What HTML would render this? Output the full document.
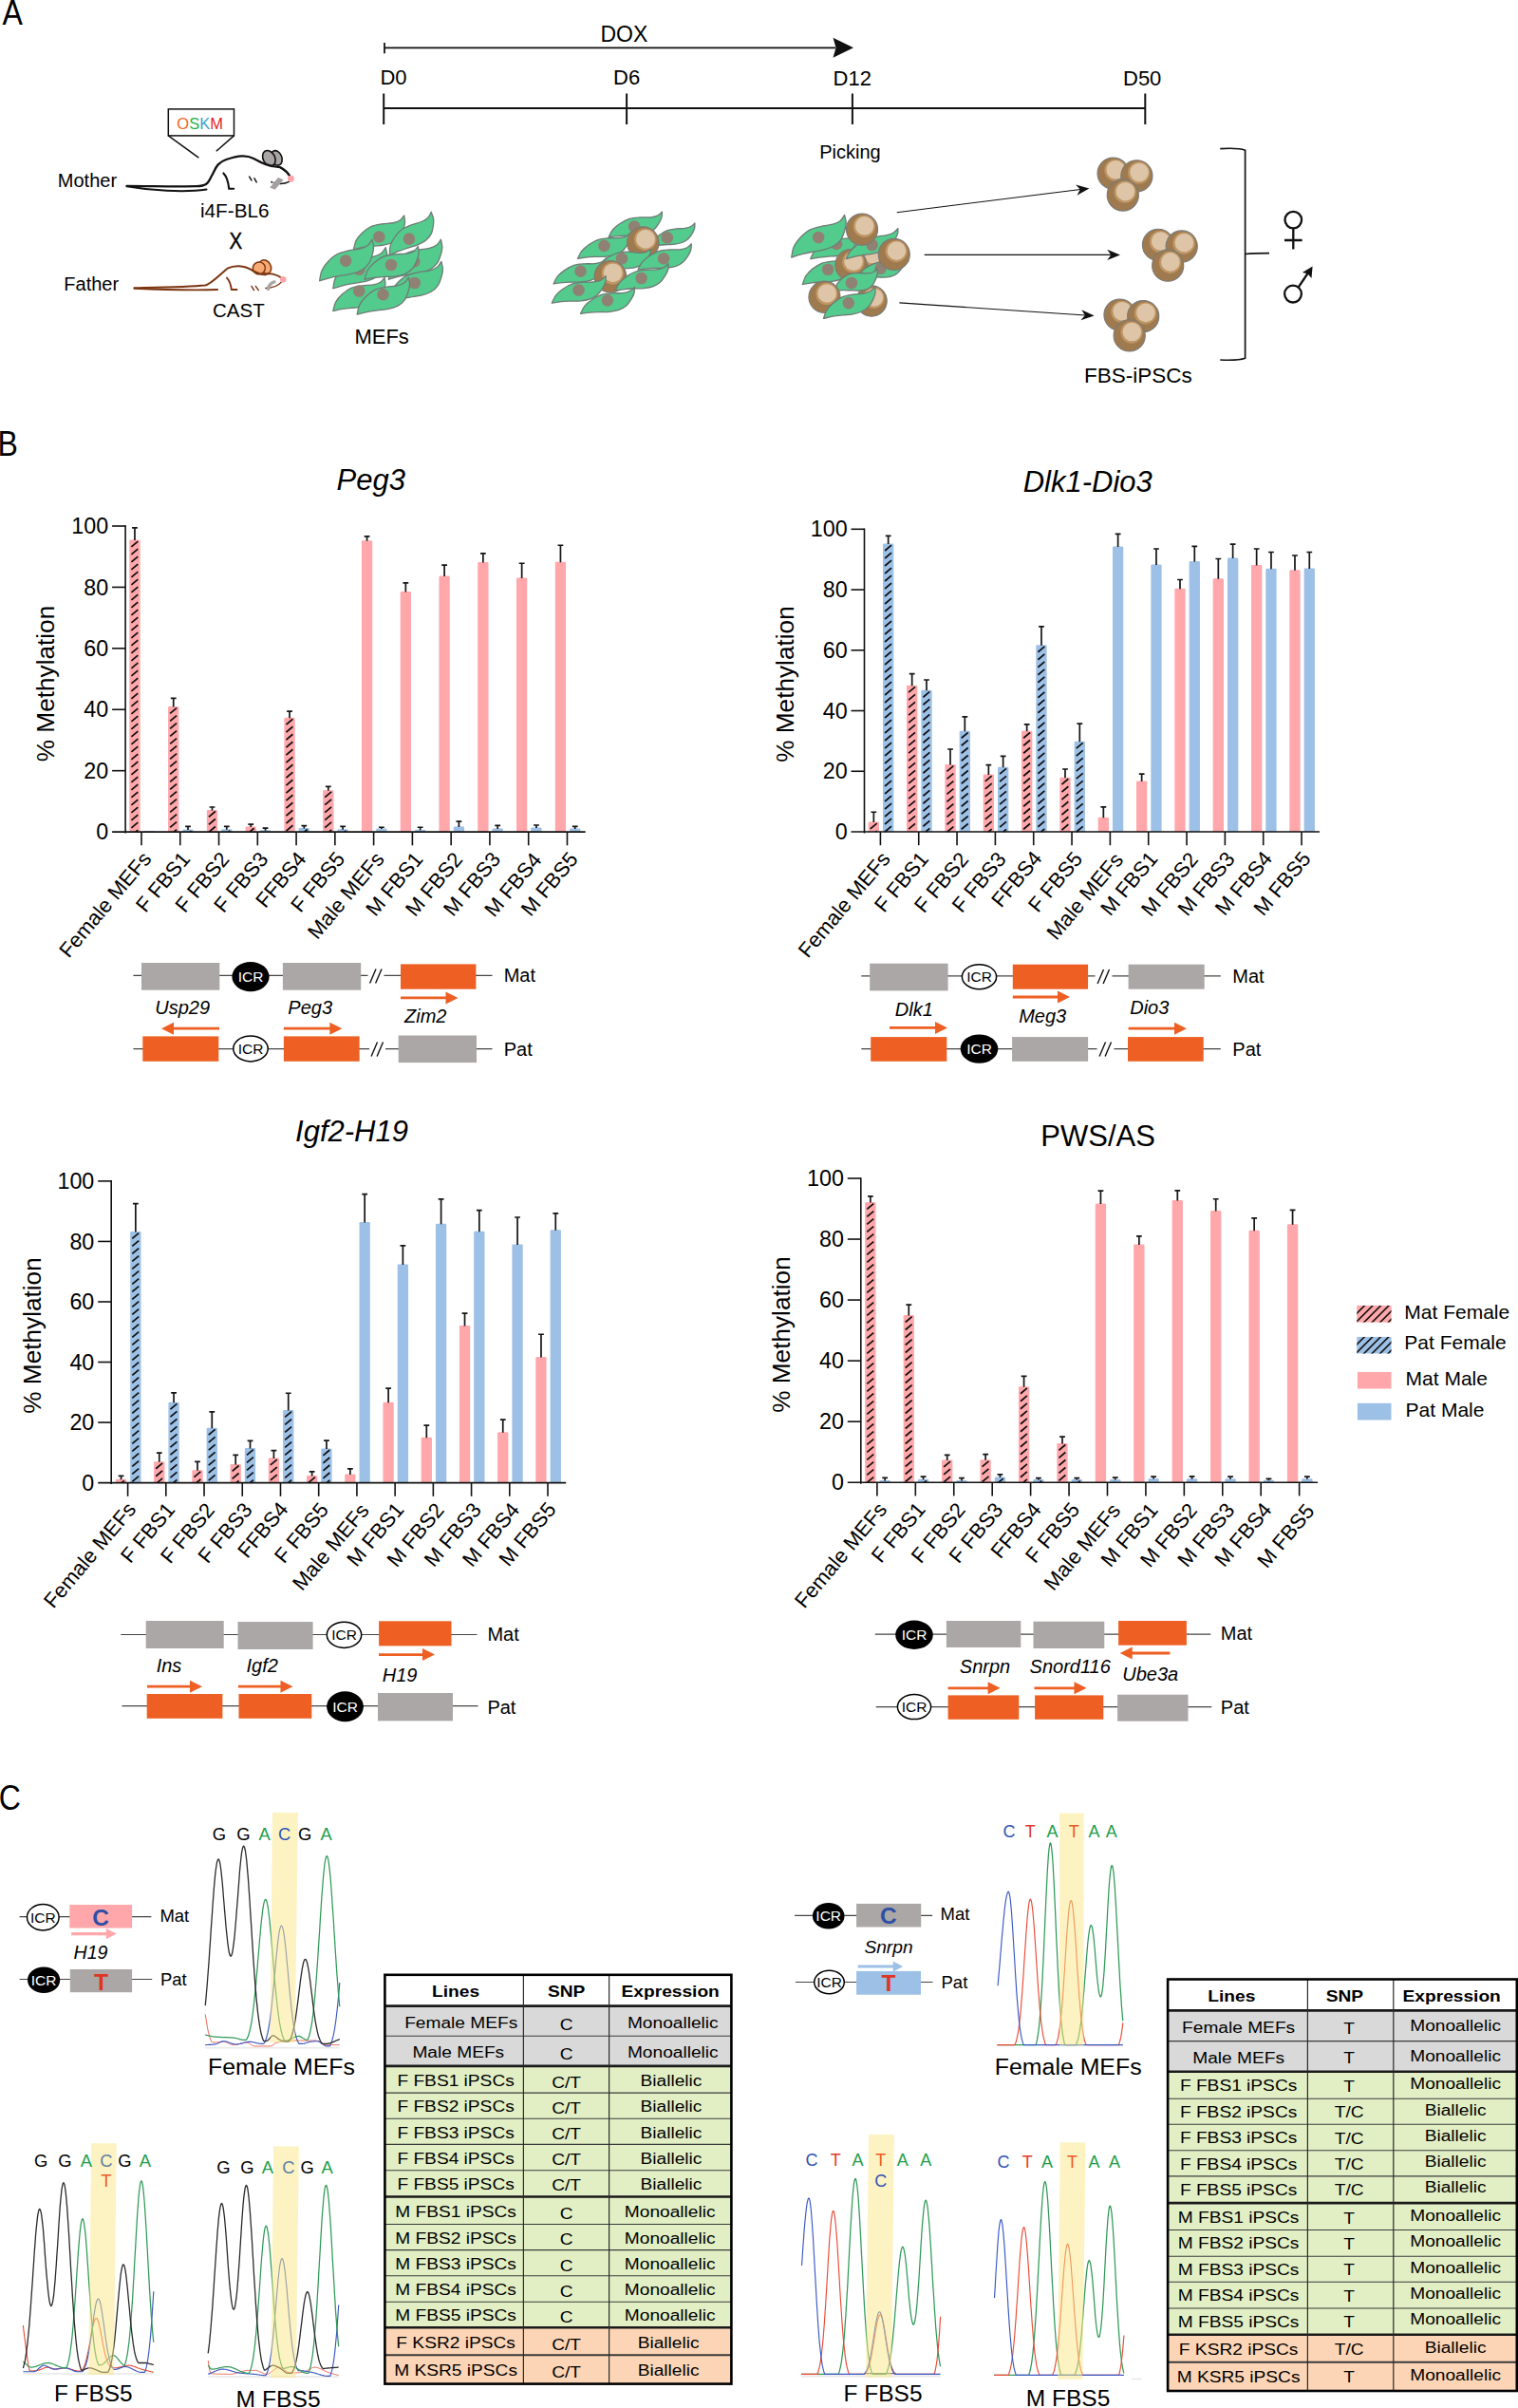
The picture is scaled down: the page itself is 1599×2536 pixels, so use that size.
<!DOCTYPE html>
<html lang="en"><head><meta charset="utf-8"><title>Figure</title>
<style>html,body{margin:0;padding:0;background:#fff}svg{display:block}text{font-family:"Liberation Sans",sans-serif}</style>
</head><body>
<svg width="1599" height="2536" viewBox="0 0 1599 2536">
<rect width="1599" height="2536" fill="#fff"/>
<text transform="translate(2.5 25.7) scale(1 1.16)" font-size="32">A</text>
<line x1="405" y1="50.3" x2="880" y2="50.3" stroke="#111" stroke-width="1.8"/>
<line x1="405" y1="45" x2="405" y2="56.2" stroke="#111" stroke-width="1.8"/>
<path d="M899 50.3 L877.5 39.8 L880.5 50.3 L877.5 60.8 Z" fill="#111"/>
<text x="632.4" y="43.7" font-size="23">DOX</text>
<line x1="404.2" y1="114.1" x2="1206.3" y2="114.1" stroke="#111" stroke-width="2"/>
<line x1="404.2" y1="98.5" x2="404.2" y2="131" stroke="#111" stroke-width="2"/>
<line x1="660.1" y1="98.5" x2="660.1" y2="131" stroke="#111" stroke-width="2"/>
<line x1="897.9" y1="98.5" x2="897.9" y2="131" stroke="#111" stroke-width="2"/>
<line x1="1206.3" y1="98.5" x2="1206.3" y2="131" stroke="#111" stroke-width="2"/>
<text x="400.4" y="89" font-size="22">D0</text>
<text x="646" y="89" font-size="22">D6</text>
<text x="877.6" y="89.5" font-size="22">D12</text>
<text x="1183" y="89.5" font-size="22">D50</text>
<text x="863.2" y="167.4" font-size="20">Picking</text>
<rect x="177.3" y="114.9" width="69.2" height="28" fill="#fff" stroke="#111" stroke-width="1.5"/>
<line x1="177.3" y1="142.9" x2="209.3" y2="166.2" stroke="#111" stroke-width="1.5"/>
<line x1="246.5" y1="142.9" x2="227.8" y2="159.2" stroke="#111" stroke-width="1.5"/>
<text x="186.3" y="135.7" font-size="16.5"><tspan fill="#F26522">O</tspan><tspan fill="#22B14C">S</tspan><tspan fill="#3BA3D0">K</tspan><tspan fill="#E0272B">M</tspan></text>
<g stroke="#111" stroke-width="1.6" fill="#A9A5A4">
<ellipse cx="291.27" cy="166.4" rx="5.6" ry="8" transform="rotate(-22 291.27 166.4)"/>
<ellipse cx="283.37" cy="166.66" rx="6.2" ry="8.6" transform="rotate(-28 283.37 166.66)"/>
</g>
<path d="M133.56 195.91 C157.94 195.91 184.29 196.7 206.69 196.17 C217.23 195.91 219.2 193.27 222.5 186.03 C227.11 178.12 227.77 171.53 238.31 167.98 C251.48 163.63 259.39 162.97 267.29 166.92 C276.52 171.93 283.1 175.49 294.96 176.15 C300.23 178.78 304.18 183.39 306.16 186.95" fill="none" stroke="#111" stroke-width="2.3" stroke-linecap="round" stroke-linejoin="round"/>
<path d="M133.56 196.3 C157.94 200.52 193.51 203.16 217.49 199.6" fill="none" stroke="#111" stroke-width="2.0" stroke-linecap="round"/>
<path d="M235.41 182.47 C239.62 186.69 240.68 193.27 241.21 198.81 L246.21 198.81" fill="none" stroke="#111" stroke-width="2.1" stroke-linecap="round" stroke-linejoin="round"/>
<line x1="262.68" y1="186.03" x2="264.92" y2="189.98" stroke="#111" stroke-width="1.5" stroke-linecap="round"/>
<line x1="267.95" y1="187.74" x2="270.19" y2="191.96" stroke="#111" stroke-width="1.5" stroke-linecap="round"/>
<path d="M304.45 191.3 C300.23 193.54 294.96 194.33 288.37 192.48" fill="none" stroke="#111" stroke-width="1.5" stroke-linecap="round"/>
<path d="M292.98 186.95 L298.65 189.32 L289.69 199.86 L284.16 197.62 Z" fill="#A3A09F"/>
<circle cx="286.26" cy="191.69" r="1" fill="#111"/>
<circle cx="306.42" cy="188.27" r="3.4" fill="#FFA3AA"/>
<g stroke="#7B3410" stroke-width="1.5" fill="#F8AA74">
<ellipse cx="279.41" cy="280.96" rx="5.8" ry="7.6" transform="rotate(-30 279.41 280.96)"/>
<ellipse cx="272.83" cy="282.4" rx="6.6" ry="6.4" transform="rotate(-30 272.83 282.4)"/>
</g>
<path d="M141.47 303.22 C164.53 302.69 198.78 302.17 215.91 300.45 C222.5 299.14 230.4 289.91 239.62 282.67 C246.21 279.37 256.75 279.37 263.34 283.33 C269.93 287.28 273.88 289.52 279.15 289.26 C283.1 287.28 291.01 287.94 298.25 294" fill="none" stroke="#7B3410" stroke-width="2.0" stroke-linecap="round" stroke-linejoin="round"/>
<path d="M141.47 303.75 C171.11 305.07 204.05 305.72 229.08 305.07" fill="none" stroke="#7B3410" stroke-width="1.9" stroke-linecap="round"/>
<path d="M238.97 292.55 C242.26 295.84 243.31 300.45 243.84 305.07 L249.51 305.07" fill="none" stroke="#7B3410" stroke-width="1.9" stroke-linecap="round" stroke-linejoin="round"/>
<line x1="264.92" y1="301.38" x2="267.56" y2="305.72" stroke="#7B3410" stroke-width="1.4" stroke-linecap="round"/>
<line x1="269.27" y1="301.38" x2="272.3" y2="305.72" stroke="#7B3410" stroke-width="1.4" stroke-linecap="round"/>
<path d="M296.54 296.9 C293.64 300.45 287.06 303.09 279.81 303.48" fill="none" stroke="#7B3410" stroke-width="1.4" stroke-linecap="round"/>
<path d="M282.44 304.41 C283.1 300.45 285.74 297.82 289.03 296.9" fill="none" stroke="#A9A6A5" stroke-width="3.4" stroke-linecap="round"/>
<circle cx="298.25" cy="294.26" r="3.3" fill="#FFA3AA"/>
<text x="60.8" y="197.2" font-size="20">Mother</text>
<text x="67.3" y="305.5" font-size="20">Father</text>
<text x="211" y="229.4" font-size="20.7">i4F-BL6</text>
<text x="224" y="334.4" font-size="20.5">CAST</text>
<text transform="translate(248.3 262.4) scale(1 1.17)" font-size="20.5" text-anchor="middle" stroke="#000" stroke-width="0.35">X</text>
<text x="373.4" y="361.7" font-size="22">MEFs</text>
<text x="1142" y="402.6" font-size="22.5">FBS-iPSCs</text>
<path d="M372.43 262.7 C372.9 261.1 373.73 256.02 375.25 253.11 C376.78 250.2 378.95 247.68 381.56 245.24 C384.17 242.8 387.48 240.05 390.93 238.48 C394.39 236.91 398.45 236.43 402.29 235.81 C406.12 235.19 410.77 235.38 413.95 234.75 C417.13 234.11 419.43 233.32 421.38 232 C423.34 230.69 424.95 227.72 425.66 226.86 C425.81 228.05 426.67 231.62 426.56 233.95 C426.46 236.28 425.98 238.26 425.03 240.86 C424.07 243.47 422.71 247.18 420.83 249.57 C418.96 251.96 416.58 253.79 413.8 255.21 C411.02 256.63 407.57 257.45 404.14 258.1 C400.71 258.75 396.83 258.72 393.22 259.11 C389.62 259.5 385.98 259.84 382.51 260.44 C379.05 261.04 374.11 262.32 372.43 262.7Z" fill="#53CB8C" stroke="#6F7B76" stroke-width="1.3" stroke-linejoin="round"/>
<circle cx="399.31" cy="249.53" r="6.3" fill="#8F8274"/>
<path d="M410.38 269.03 C410.49 267.38 410.21 262.3 411.06 259.17 C411.92 256.04 413.48 253.15 415.48 250.25 C417.48 247.34 420.09 243.99 423.09 241.74 C426.08 239.49 429.9 238.17 433.47 236.76 C437.04 235.35 441.56 234.55 444.49 233.26 C447.43 231.98 449.48 230.72 451.08 229.04 C452.69 227.36 453.61 224.15 454.12 223.18 C454.51 224.28 456.1 227.54 456.49 229.82 C456.88 232.09 456.85 234.1 456.48 236.81 C456.11 239.53 455.58 243.4 454.28 246.1 C452.98 248.8 451.07 251.07 448.69 253.03 C446.31 254.99 443.15 256.51 439.98 257.86 C436.81 259.21 433.06 260.01 429.67 261.16 C426.27 262.3 422.83 263.39 419.62 264.71 C416.4 266.02 411.92 268.31 410.38 269.03Z" fill="#53CB8C" stroke="#6F7B76" stroke-width="1.3" stroke-linejoin="round"/>
<circle cx="430.93" cy="251.63" r="6.3" fill="#8F8274"/>
<path d="M409.32 294.32 C409.72 292.57 410.28 287.03 411.73 283.79 C413.18 280.55 415.35 277.69 418.01 274.89 C420.67 272.09 424.05 268.9 427.67 266.98 C431.29 265.06 435.64 264.28 439.73 263.35 C443.83 262.43 448.85 262.33 452.24 261.44 C455.63 260.54 458.06 259.53 460.07 257.99 C462.09 256.44 463.63 253.13 464.34 252.16 C464.58 253.42 465.74 257.22 465.78 259.74 C465.82 262.26 465.44 264.43 464.59 267.3 C463.73 270.17 462.5 274.26 460.64 276.96 C458.78 279.66 456.34 281.79 453.43 283.51 C450.53 285.22 446.86 286.33 443.21 287.26 C439.55 288.19 435.36 288.42 431.5 289.08 C427.64 289.74 423.74 290.34 420.04 291.22 C416.34 292.09 411.11 293.8 409.32 294.32Z" fill="#53CB8C" stroke="#6F7B76" stroke-width="1.3" stroke-linejoin="round"/>
<circle cx="436.2" cy="275.35" r="6.3" fill="#8F8274"/>
<path d="M409.32 318.56 C409.72 316.78 410.24 311.15 411.69 307.85 C413.14 304.56 415.32 301.64 418 298.77 C420.67 295.91 424.08 292.65 427.74 290.67 C431.41 288.69 435.82 287.87 439.97 286.9 C444.12 285.93 449.21 285.79 452.65 284.86 C456.08 283.92 458.54 282.88 460.58 281.3 C462.61 279.71 464.15 276.34 464.87 275.35 C465.12 276.63 466.33 280.47 466.39 283.03 C466.45 285.6 466.08 287.79 465.23 290.72 C464.38 293.64 463.16 297.8 461.3 300.56 C459.43 303.31 456.96 305.49 454.03 307.26 C451.09 309.02 447.38 310.17 443.67 311.14 C439.97 312.11 435.72 312.37 431.8 313.07 C427.89 313.77 423.93 314.42 420.18 315.33 C416.44 316.25 411.13 318.03 409.32 318.56Z" fill="#53CB8C" stroke="#6F7B76" stroke-width="1.3" stroke-linejoin="round"/>
<circle cx="436.73" cy="298.01" r="6.3" fill="#8F8274"/>
<path d="M350.82 303.81 C351.21 302.03 351.73 296.41 353.17 293.12 C354.6 289.83 356.78 286.91 359.44 284.05 C362.11 281.18 365.5 277.93 369.15 275.94 C372.8 273.96 377.2 273.13 381.34 272.16 C385.48 271.18 390.56 271.04 393.99 270.1 C397.41 269.16 399.86 268.12 401.89 266.53 C403.92 264.95 405.45 261.58 406.16 260.59 C406.41 261.87 407.63 265.7 407.69 268.26 C407.76 270.81 407.39 273.01 406.55 275.92 C405.71 278.84 404.5 282.99 402.64 285.75 C400.78 288.5 398.33 290.68 395.4 292.45 C392.47 294.21 388.77 295.36 385.08 296.34 C381.38 297.31 377.14 297.58 373.24 298.29 C369.33 298.99 365.39 299.64 361.65 300.56 C357.92 301.48 352.63 303.27 350.82 303.81Z" fill="#53CB8C" stroke="#6F7B76" stroke-width="1.3" stroke-linejoin="round"/>
<circle cx="378.23" cy="283.78" r="6.3" fill="#8F8274"/>
<path d="M336.59 295.9 C336.98 294.11 337.46 288.47 338.88 285.15 C340.31 281.83 342.48 278.89 345.14 276 C347.8 273.11 351.19 269.81 354.84 267.8 C358.5 265.79 362.91 264.93 367.06 263.93 C371.22 262.92 376.32 262.75 379.76 261.78 C383.19 260.82 385.65 259.76 387.68 258.15 C389.71 256.55 391.22 253.16 391.93 252.16 C392.19 253.44 393.43 257.28 393.51 259.85 C393.59 262.42 393.24 264.62 392.41 267.56 C391.59 270.49 390.4 274.68 388.55 277.45 C386.7 280.23 384.24 282.43 381.31 284.22 C378.38 286.02 374.67 287.2 370.96 288.2 C367.26 289.2 363 289.5 359.08 290.23 C355.16 290.96 351.2 291.63 347.45 292.58 C343.71 293.52 338.4 295.35 336.59 295.9Z" fill="#53CB8C" stroke="#6F7B76" stroke-width="1.3" stroke-linejoin="round"/>
<circle cx="364.21" cy="274.61" r="6.3" fill="#8F8274"/>
<path d="M384.03 294.32 C384.58 292.69 385.64 287.48 387.33 284.54 C389.02 281.6 391.37 279.09 394.16 276.68 C396.96 274.28 400.48 271.57 404.11 270.09 C407.74 268.61 411.95 268.29 415.93 267.81 C419.92 267.32 424.7 267.71 428.01 267.19 C431.32 266.67 433.73 265.94 435.79 264.67 C437.86 263.39 439.64 260.39 440.42 259.54 C440.52 260.76 441.26 264.48 441.05 266.89 C440.85 269.29 440.28 271.31 439.19 273.96 C438.1 276.6 436.53 280.38 434.5 282.77 C432.47 285.16 429.94 286.95 427.02 288.3 C424.09 289.65 420.49 290.35 416.93 290.87 C413.36 291.4 409.36 291.22 405.62 291.47 C401.89 291.73 398.12 291.93 394.52 292.4 C390.92 292.88 385.77 294 384.03 294.32Z" fill="#53CB8C" stroke="#6F7B76" stroke-width="1.3" stroke-linejoin="round"/>
<circle cx="411.96" cy="279.04" r="6.3" fill="#8F8274"/>
<path d="M350.82 327.52 C351.32 325.92 352.24 320.8 353.83 317.89 C355.41 314.98 357.64 312.47 360.32 310.05 C362.99 307.63 366.37 304.91 369.88 303.38 C373.39 301.85 377.5 301.43 381.38 300.87 C385.26 300.3 389.94 300.57 393.16 299.98 C396.39 299.39 398.72 298.63 400.71 297.33 C402.7 296.04 404.37 293.07 405.11 292.21 C405.24 293.41 406.05 297.02 405.9 299.38 C405.76 301.73 405.25 303.72 404.25 306.33 C403.24 308.94 401.8 312.67 399.87 315.05 C397.95 317.43 395.52 319.24 392.69 320.63 C389.86 322.02 386.36 322.78 382.89 323.38 C379.42 323.98 375.5 323.9 371.86 324.23 C368.22 324.57 364.54 324.85 361.03 325.4 C357.53 325.95 352.52 327.17 350.82 327.52Z" fill="#53CB8C" stroke="#6F7B76" stroke-width="1.3" stroke-linejoin="round"/>
<circle cx="378.23" cy="306.44" r="6.3" fill="#8F8274"/>
<path d="M376.12 331.21 C376.56 329.53 377.26 324.21 378.76 321.13 C380.25 318.06 382.43 315.36 385.07 312.74 C387.72 310.12 391.07 307.15 394.62 305.41 C398.16 303.66 402.38 303.04 406.35 302.27 C410.33 301.5 415.17 301.55 418.46 300.79 C421.75 300.03 424.12 299.13 426.11 297.7 C428.1 296.27 429.69 293.13 430.4 292.21 C430.6 293.44 431.6 297.13 431.57 299.56 C431.53 301.99 431.1 304.07 430.19 306.81 C429.28 309.55 427.97 313.46 426.1 316.01 C424.23 318.56 421.81 320.54 418.96 322.1 C416.1 323.67 412.54 324.63 408.99 325.41 C405.44 326.2 401.39 326.3 397.65 326.82 C393.91 327.34 390.13 327.81 386.54 328.54 C382.95 329.27 377.86 330.77 376.12 331.21Z" fill="#53CB8C" stroke="#6F7B76" stroke-width="1.3" stroke-linejoin="round"/>
<circle cx="403.52" cy="310.13" r="6.3" fill="#8F8274"/>
<path d="M641.15 249.72 C641.9 248.39 643.66 244.11 645.64 241.74 C647.62 239.36 650.12 237.37 653.02 235.48 C655.92 233.59 659.52 231.48 663.03 230.4 C666.54 229.31 670.39 229.21 674.07 228.96 C677.75 228.71 682.01 229.22 685.08 228.91 C688.16 228.61 690.44 228.1 692.51 227.12 C694.58 226.14 696.65 223.72 697.48 223.04 C697.38 224.06 697.48 227.18 696.93 229.17 C696.37 231.15 695.55 232.81 694.16 234.96 C692.76 237.12 690.77 240.19 688.57 242.09 C686.37 244 683.8 245.38 680.95 246.39 C678.09 247.4 674.74 247.84 671.43 248.14 C668.13 248.44 664.53 248.13 661.12 248.2 C657.7 248.26 654.26 248.28 650.93 248.54 C647.6 248.79 642.78 249.53 641.15 249.72Z" fill="#53CB8C" stroke="#6F7B76" stroke-width="1.3" stroke-linejoin="round"/>
<circle cx="668.07" cy="238.46" r="6.3" fill="#8F8274"/>
<path d="M608.54 272.26 C609.27 270.9 610.98 266.55 612.93 264.12 C614.88 261.7 617.37 259.65 620.26 257.69 C623.15 255.74 626.75 253.55 630.26 252.39 C633.78 251.24 637.67 251.07 641.37 250.75 C645.07 250.44 649.38 250.88 652.47 250.52 C655.57 250.16 657.86 249.61 659.93 248.58 C661.99 247.56 664.04 245.09 664.87 244.39 C664.79 245.42 664.94 248.56 664.42 250.57 C663.89 252.58 663.09 254.26 661.72 256.46 C660.36 258.66 658.4 261.79 656.21 263.74 C654.03 265.7 651.47 267.14 648.6 268.21 C645.74 269.27 642.37 269.78 639.04 270.14 C635.71 270.5 632.08 270.25 628.64 270.37 C625.2 270.5 621.73 270.58 618.38 270.89 C615.03 271.21 610.18 272.03 608.54 272.26Z" fill="#53CB8C" stroke="#6F7B76" stroke-width="1.3" stroke-linejoin="round"/>
<circle cx="636.41" cy="258.86" r="6.3" fill="#8F8274"/>
<path d="M685.62 259.8 C686.19 258.65 687.49 254.97 689.05 252.89 C690.61 250.8 692.63 249.02 694.99 247.3 C697.35 245.58 700.29 243.65 703.19 242.59 C706.1 241.52 709.34 241.26 712.42 240.9 C715.51 240.53 719.12 240.77 721.69 240.38 C724.26 239.99 726.17 239.46 727.86 238.55 C729.56 237.64 731.2 235.51 731.86 234.9 C731.83 235.76 732.05 238.38 731.67 240.08 C731.29 241.77 730.67 243.2 729.59 245.08 C728.51 246.95 726.96 249.62 725.19 251.32 C723.42 253.02 721.33 254.3 718.97 255.27 C716.61 256.24 713.8 256.76 711.04 257.15 C708.27 257.55 705.23 257.45 702.36 257.65 C699.48 257.86 696.59 258.02 693.8 258.38 C691.01 258.74 686.98 259.57 685.62 259.8Z" fill="#53CB8C" stroke="#6F7B76" stroke-width="1.3" stroke-linejoin="round"/>
<circle cx="702.81" cy="250.32" r="6.3" fill="#8F8274"/>
<path d="M583.04 298.94 C583.77 297.6 585.47 293.31 587.41 290.93 C589.35 288.54 591.82 286.52 594.68 284.61 C597.54 282.69 601.1 280.54 604.58 279.42 C608.06 278.29 611.9 278.14 615.55 277.85 C619.21 277.55 623.46 278.01 626.52 277.66 C629.57 277.32 631.84 276.78 633.89 275.78 C635.93 274.78 637.96 272.35 638.78 271.66 C638.7 272.68 638.83 275.78 638.31 277.76 C637.78 279.75 636.98 281.41 635.62 283.57 C634.26 285.73 632.32 288.81 630.15 290.74 C627.98 292.66 625.45 294.07 622.62 295.11 C619.79 296.15 616.46 296.63 613.17 296.97 C609.88 297.32 606.3 297.05 602.9 297.16 C599.5 297.27 596.08 297.34 592.77 297.63 C589.46 297.93 584.66 298.72 583.04 298.94Z" fill="#53CB8C" stroke="#6F7B76" stroke-width="1.3" stroke-linejoin="round"/>
<circle cx="611.5" cy="285.66" r="6.3" fill="#8F8274"/>
<circle cx="677.32" cy="255.65" r="16.8" fill="#9E7A4E" stroke="#7A7A78" stroke-width="1.1"/>
<circle cx="679.67" cy="252.29" r="11.76" fill="#BE9563"/>
<circle cx="680" cy="251.79" r="9.91" fill="#DEC5A7"/>
<path d="M631.66 281.15 C632.47 280.01 634.49 276.26 636.52 274.29 C638.56 272.31 641.03 270.73 643.86 269.28 C646.68 267.83 650.17 266.25 653.48 265.6 C656.78 264.94 660.31 265.21 663.69 265.34 C667.07 265.46 670.91 266.34 673.75 266.35 C676.58 266.36 678.72 266.12 680.7 265.42 C682.67 264.73 684.8 262.72 685.62 262.18 C685.44 263.1 685.23 265.95 684.53 267.71 C683.84 269.47 682.93 270.9 681.45 272.74 C679.97 274.57 677.86 277.18 675.67 278.71 C673.48 280.24 671.01 281.26 668.3 281.91 C665.6 282.55 662.5 282.63 659.45 282.59 C656.41 282.55 653.16 281.93 650.03 281.66 C646.91 281.4 643.77 281.09 640.7 281 C637.64 280.92 633.17 281.12 631.66 281.15Z" fill="#53CB8C" stroke="#6F7B76" stroke-width="1.3" stroke-linejoin="round"/>
<circle cx="655.02" cy="272.26" r="6.3" fill="#8F8274"/>
<path d="M671.98 284.11 C672.72 282.77 674.45 278.45 676.42 276.05 C678.39 273.65 680.89 271.63 683.78 269.71 C686.67 267.79 690.27 265.64 693.78 264.52 C697.29 263.4 701.17 263.26 704.86 262.98 C708.55 262.7 712.83 263.17 715.91 262.84 C719 262.51 721.29 261.98 723.36 260.98 C725.42 259.98 727.48 257.53 728.31 256.84 C728.22 257.87 728.35 260.99 727.81 262.99 C727.27 264.99 726.46 266.66 725.08 268.83 C723.69 271.01 721.72 274.11 719.53 276.04 C717.33 277.97 714.77 279.39 711.91 280.42 C709.05 281.46 705.69 281.93 702.37 282.26 C699.06 282.59 695.44 282.31 692.01 282.41 C688.58 282.51 685.13 282.55 681.79 282.84 C678.45 283.12 673.62 283.9 671.98 284.11Z" fill="#53CB8C" stroke="#6F7B76" stroke-width="1.3" stroke-linejoin="round"/>
<circle cx="699.02" cy="272.26" r="6.3" fill="#8F8274"/>
<circle cx="642.93" cy="291.23" r="16.8" fill="#9E7A4E" stroke="#7A7A78" stroke-width="1.1"/>
<circle cx="645.28" cy="287.87" r="11.76" fill="#BE9563"/>
<circle cx="645.62" cy="287.36" r="9.91" fill="#DEC5A7"/>
<path d="M648.26 306.05 C648.98 304.69 650.62 300.34 652.53 297.9 C654.45 295.46 656.9 293.38 659.75 291.4 C662.61 289.42 666.16 287.19 669.64 286 C673.13 284.8 677 284.58 680.68 284.23 C684.37 283.87 688.66 284.25 691.74 283.85 C694.81 283.45 697.09 282.87 699.14 281.83 C701.18 280.79 703.19 278.3 704 277.59 C703.94 278.62 704.13 281.74 703.63 283.75 C703.13 285.76 702.36 287.45 701.02 289.65 C699.69 291.86 697.78 295 695.63 296.97 C693.47 298.95 690.94 300.42 688.11 301.52 C685.27 302.61 681.92 303.15 678.61 303.56 C675.3 303.96 671.68 303.75 668.26 303.92 C664.83 304.09 661.38 304.21 658.05 304.57 C654.71 304.92 649.89 305.8 648.26 306.05Z" fill="#53CB8C" stroke="#6F7B76" stroke-width="1.3" stroke-linejoin="round"/>
<circle cx="675.54" cy="293.01" r="6.3" fill="#8F8274"/>
<path d="M581.27 319.1 C582 317.72 583.71 313.31 585.68 310.84 C587.64 308.38 590.16 306.29 593.08 304.3 C595.99 302.3 599.62 300.07 603.18 298.89 C606.74 297.7 610.67 297.51 614.42 297.18 C618.17 296.85 622.53 297.28 625.66 296.9 C628.79 296.52 631.12 295.95 633.2 294.9 C635.29 293.86 637.35 291.35 638.18 290.64 C638.11 291.68 638.28 294.86 637.76 296.9 C637.24 298.94 636.43 300.64 635.05 302.87 C633.68 305.1 631.71 308.28 629.5 310.27 C627.3 312.26 624.71 313.74 621.82 314.83 C618.93 315.92 615.51 316.44 612.14 316.82 C608.78 317.2 605.1 316.96 601.61 317.1 C598.13 317.25 594.62 317.34 591.23 317.67 C587.83 318 582.93 318.86 581.27 319.1Z" fill="#53CB8C" stroke="#6F7B76" stroke-width="1.3" stroke-linejoin="round"/>
<circle cx="609.49" cy="305.46" r="6.3" fill="#8F8274"/>
<path d="M611.5 330.36 C612.25 329 613.98 324.62 615.97 322.18 C617.95 319.74 620.47 317.68 623.39 315.72 C626.31 313.76 629.94 311.57 633.49 310.42 C637.05 309.27 640.97 309.11 644.7 308.81 C648.44 308.51 652.78 308.98 655.9 308.62 C659.02 308.27 661.34 307.73 663.43 306.7 C665.51 305.68 667.59 303.2 668.42 302.49 C668.34 303.53 668.48 306.7 667.95 308.73 C667.41 310.75 666.59 312.45 665.2 314.65 C663.81 316.86 661.83 320.01 659.62 321.98 C657.4 323.94 654.82 325.38 651.93 326.45 C649.03 327.51 645.63 328 642.27 328.35 C638.92 328.7 635.26 328.43 631.78 328.55 C628.31 328.66 624.81 328.72 621.43 329.03 C618.05 329.33 613.16 330.14 611.5 330.36Z" fill="#53CB8C" stroke="#6F7B76" stroke-width="1.3" stroke-linejoin="round"/>
<circle cx="639.96" cy="316.37" r="6.3" fill="#8F8274"/>
<path d="M853.73 272.71 C854.34 271.44 855.73 267.37 857.43 265.06 C859.12 262.75 861.32 260.76 863.9 258.85 C866.47 256.93 869.68 254.78 872.86 253.57 C876.05 252.36 879.61 252.04 883 251.6 C886.39 251.16 890.36 251.39 893.19 250.93 C896.02 250.47 898.11 249.86 899.96 248.84 C901.82 247.82 903.59 245.46 904.32 244.78 C904.3 245.73 904.56 248.61 904.17 250.48 C903.77 252.35 903.1 253.93 901.93 256 C900.77 258.08 899.1 261.03 897.17 262.92 C895.25 264.81 892.95 266.24 890.37 267.34 C887.78 268.44 884.7 269.04 881.66 269.5 C878.62 269.97 875.28 269.89 872.12 270.15 C868.96 270.41 865.78 270.63 862.71 271.05 C859.65 271.48 855.23 272.44 853.73 272.71Z" fill="#53CB8C" stroke="#6F7B76" stroke-width="1.3" stroke-linejoin="round"/>
<circle cx="881.13" cy="256.9" r="6.3" fill="#8F8274"/>
<path d="M833.7 271.13 C834.09 269.33 834.59 263.65 836.03 260.3 C837.47 256.94 839.66 253.95 842.35 251.01 C845.03 248.06 848.46 244.7 852.14 242.62 C855.83 240.55 860.29 239.61 864.47 238.54 C868.66 237.47 873.81 237.21 877.28 236.19 C880.74 235.17 883.22 234.07 885.27 232.42 C887.32 230.78 888.85 227.35 889.57 226.34 C889.83 227.62 891.07 231.46 891.15 234.04 C891.23 236.61 890.87 238.84 890.03 241.8 C889.19 244.76 887.99 248.98 886.12 251.8 C884.25 254.62 881.77 256.87 878.81 258.71 C875.85 260.55 872.11 261.8 868.37 262.86 C864.63 263.92 860.34 264.29 856.39 265.08 C852.43 265.88 848.44 266.62 844.66 267.63 C840.88 268.63 835.53 270.55 833.7 271.13Z" fill="#53CB8C" stroke="#6F7B76" stroke-width="1.3" stroke-linejoin="round"/>
<circle cx="862.16" cy="250.05" r="6.3" fill="#8F8274"/>
<circle cx="916.97" cy="272.19" r="15" fill="#9E7A4E" stroke="#7A7A78" stroke-width="1.1"/>
<circle cx="919.07" cy="269.19" r="10.5" fill="#BE9563"/>
<circle cx="919.37" cy="268.74" r="8.85" fill="#DEC5A7"/>
<path d="M845.3 299.59 C845.89 298.09 847.14 293.31 848.87 290.61 C850.6 287.91 852.93 285.6 855.67 283.38 C858.42 281.16 861.87 278.66 865.36 277.29 C868.86 275.91 872.85 275.6 876.63 275.14 C880.41 274.68 884.9 275.01 888.05 274.52 C891.19 274.02 893.5 273.34 895.51 272.17 C897.52 270.99 899.34 268.23 900.11 267.44 C900.15 268.57 900.67 271.97 900.37 274.18 C900.07 276.38 899.44 278.24 898.28 280.67 C897.13 283.1 895.48 286.56 893.46 288.76 C891.43 290.96 888.96 292.62 886.14 293.87 C883.31 295.12 879.89 295.78 876.5 296.28 C873.11 296.78 869.34 296.63 865.81 296.88 C862.27 297.13 858.7 297.33 855.29 297.78 C851.87 298.24 846.96 299.29 845.3 299.59Z" fill="#53CB8C" stroke="#6F7B76" stroke-width="1.3" stroke-linejoin="round"/>
<circle cx="872.17" cy="283.78" r="6.3" fill="#8F8274"/>
<circle cx="896.42" cy="279.04" r="16.6" fill="#9E7A4E" stroke="#7A7A78" stroke-width="1.1"/>
<circle cx="898.74" cy="275.72" r="11.62" fill="#BE9563"/>
<circle cx="899.07" cy="275.22" r="9.79" fill="#DEC5A7"/>
<path d="M904.32 291.16 C905.05 290.11 906.85 286.67 908.68 284.84 C910.51 283.02 912.75 281.55 915.31 280.19 C917.88 278.84 921.04 277.36 924.05 276.72 C927.06 276.09 930.28 276.3 933.36 276.37 C936.45 276.45 939.96 277.2 942.55 277.18 C945.14 277.16 947.08 276.92 948.88 276.26 C950.68 275.6 952.59 273.74 953.33 273.24 C953.18 274.08 953.02 276.69 952.41 278.3 C951.79 279.92 950.98 281.23 949.65 282.92 C948.32 284.61 946.42 287.02 944.44 288.44 C942.46 289.86 940.22 290.82 937.76 291.44 C935.3 292.06 932.47 292.17 929.69 292.16 C926.91 292.16 923.94 291.63 921.09 291.42 C918.23 291.21 915.36 290.97 912.57 290.92 C909.78 290.88 905.7 291.12 904.32 291.16Z" fill="#53CB8C" stroke="#6F7B76" stroke-width="1.3" stroke-linejoin="round"/>
<circle cx="927.51" cy="282.73" r="6.3" fill="#8F8274"/>
<path d="M891.15 272.71 C891.86 271.41 893.5 267.31 895.4 264.9 C897.3 262.48 899.72 260.33 902.53 258.21 C905.34 256.09 908.83 253.68 912.26 252.19 C915.68 250.7 919.47 250.05 923.08 249.29 C926.68 248.53 930.88 248.36 933.9 247.64 C936.91 246.92 939.15 246.12 941.16 244.95 C943.17 243.77 945.16 241.3 945.96 240.57 C945.89 241.49 946.04 244.27 945.54 246.13 C945.03 248 944.26 249.6 942.93 251.73 C941.6 253.87 939.7 256.91 937.58 258.94 C935.46 260.97 932.97 262.59 930.18 263.91 C927.39 265.23 924.11 266.11 920.87 266.87 C917.62 267.62 914.09 267.87 910.73 268.43 C907.38 268.99 904 269.51 900.73 270.22 C897.47 270.94 892.74 272.3 891.15 272.71Z" fill="#53CB8C" stroke="#6F7B76" stroke-width="1.3" stroke-linejoin="round"/>
<circle cx="918.55" cy="257.96" r="6.3" fill="#8F8274"/>
<circle cx="908.01" cy="241.62" r="16.6" fill="#9E7A4E" stroke="#7A7A78" stroke-width="1.1"/>
<circle cx="910.33" cy="238.3" r="11.62" fill="#BE9563"/>
<circle cx="910.67" cy="237.8" r="9.79" fill="#DEC5A7"/>
<circle cx="941.74" cy="267.97" r="16.6" fill="#9E7A4E" stroke="#7A7A78" stroke-width="1.1"/>
<circle cx="944.06" cy="264.65" r="11.62" fill="#BE9563"/>
<circle cx="944.4" cy="264.15" r="9.79" fill="#DEC5A7"/>
<circle cx="918.02" cy="316.98" r="16.2" fill="#9E7A4E" stroke="#7A7A78" stroke-width="1.1"/>
<circle cx="920.29" cy="313.74" r="11.34" fill="#BE9563"/>
<circle cx="920.62" cy="313.26" r="9.56" fill="#DEC5A7"/>
<path d="M879.03 306.44 C879.5 305.18 880.48 301.07 881.88 298.84 C883.28 296.6 885.17 294.76 887.41 293.04 C889.66 291.32 892.47 289.41 895.33 288.49 C898.19 287.57 901.47 287.63 904.58 287.54 C907.68 287.45 911.38 288.12 913.97 287.94 C916.55 287.77 918.44 287.37 920.08 286.5 C921.72 285.63 923.2 283.36 923.82 282.73 C923.87 283.72 924.33 286.76 924.1 288.67 C923.87 290.59 923.37 292.17 922.44 294.21 C921.52 296.25 920.19 299.17 918.55 300.93 C916.9 302.7 914.89 303.95 912.57 304.81 C910.26 305.68 907.45 305.97 904.67 306.13 C901.88 306.29 898.78 305.84 895.87 305.77 C892.97 305.69 890.03 305.57 887.23 305.69 C884.42 305.8 880.39 306.32 879.03 306.44Z" fill="#53CB8C" stroke="#6F7B76" stroke-width="1.3" stroke-linejoin="round"/>
<circle cx="896.94" cy="298.01" r="6.3" fill="#8F8274"/>
<circle cx="868.48" cy="312.77" r="16.6" fill="#9E7A4E" stroke="#7A7A78" stroke-width="1.1"/>
<circle cx="870.81" cy="309.45" r="11.62" fill="#BE9563"/>
<circle cx="871.14" cy="308.95" r="9.79" fill="#DEC5A7"/>
<path d="M867.43 335.43 C868.01 333.95 869.23 329.24 870.93 326.54 C872.64 323.83 874.94 321.48 877.66 319.2 C880.38 316.91 883.79 314.33 887.25 312.84 C890.72 311.35 894.68 310.86 898.43 310.24 C902.18 309.62 906.65 309.74 909.77 309.12 C912.89 308.5 915.18 307.73 917.17 306.5 C919.16 305.26 920.96 302.5 921.71 301.7 C921.76 302.79 922.3 306.08 922.01 308.23 C921.72 310.39 921.1 312.22 919.97 314.63 C918.84 317.05 917.21 320.49 915.21 322.72 C913.21 324.95 910.77 326.67 907.97 328.02 C905.17 329.36 901.77 330.15 898.41 330.79 C895.05 331.44 891.3 331.46 887.79 331.86 C884.28 332.27 880.74 332.62 877.34 333.22 C873.95 333.81 869.08 335.06 867.43 335.43Z" fill="#53CB8C" stroke="#6F7B76" stroke-width="1.3" stroke-linejoin="round"/>
<circle cx="893.78" cy="319.09" r="6.3" fill="#8F8274"/>
<circle cx="1172.6" cy="182.6" r="16.6" fill="#9E7A4E" stroke="#7A7A78" stroke-width="1.1"/>
<circle cx="1174.92" cy="179.28" r="11.62" fill="#BE9563"/>
<circle cx="1175.26" cy="178.78" r="9.79" fill="#DEC5A7"/>
<circle cx="1197.4" cy="185.3" r="16.6" fill="#9E7A4E" stroke="#7A7A78" stroke-width="1.1"/>
<circle cx="1199.72" cy="181.98" r="11.62" fill="#BE9563"/>
<circle cx="1200.06" cy="181.48" r="9.79" fill="#DEC5A7"/>
<circle cx="1182.8" cy="205.5" r="16.6" fill="#9E7A4E" stroke="#7A7A78" stroke-width="1.1"/>
<circle cx="1185.12" cy="202.18" r="11.62" fill="#BE9563"/>
<circle cx="1185.46" cy="201.68" r="9.79" fill="#DEC5A7"/>
<circle cx="1220" cy="257.9" r="16.6" fill="#9E7A4E" stroke="#7A7A78" stroke-width="1.1"/>
<circle cx="1222.32" cy="254.58" r="11.62" fill="#BE9563"/>
<circle cx="1222.66" cy="254.08" r="9.79" fill="#DEC5A7"/>
<circle cx="1244.7" cy="259.5" r="16.6" fill="#9E7A4E" stroke="#7A7A78" stroke-width="1.1"/>
<circle cx="1247.02" cy="256.18" r="11.62" fill="#BE9563"/>
<circle cx="1247.36" cy="255.68" r="9.79" fill="#DEC5A7"/>
<circle cx="1230.2" cy="279.7" r="16.6" fill="#9E7A4E" stroke="#7A7A78" stroke-width="1.1"/>
<circle cx="1232.52" cy="276.38" r="11.62" fill="#BE9563"/>
<circle cx="1232.86" cy="275.88" r="9.79" fill="#DEC5A7"/>
<circle cx="1179.5" cy="331.6" r="16.6" fill="#9E7A4E" stroke="#7A7A78" stroke-width="1.1"/>
<circle cx="1181.82" cy="328.28" r="11.62" fill="#BE9563"/>
<circle cx="1182.16" cy="327.78" r="9.79" fill="#DEC5A7"/>
<circle cx="1204.2" cy="333.2" r="16.6" fill="#9E7A4E" stroke="#7A7A78" stroke-width="1.1"/>
<circle cx="1206.52" cy="329.88" r="11.62" fill="#BE9563"/>
<circle cx="1206.86" cy="329.38" r="9.79" fill="#DEC5A7"/>
<circle cx="1189.7" cy="353.4" r="16.6" fill="#9E7A4E" stroke="#7A7A78" stroke-width="1.1"/>
<circle cx="1192.02" cy="350.08" r="11.62" fill="#BE9563"/>
<circle cx="1192.36" cy="349.58" r="9.79" fill="#DEC5A7"/>
<line x1="944.7" y1="223.7" x2="1138.02" y2="199.57" stroke="#111" stroke-width="1.1"/>
<path d="M1147.4 198.4 L1134.43 205.63 L1137.75 199.6 L1133.05 194.59 Z" fill="#111"/>
<line x1="973.7" y1="268.4" x2="1170.55" y2="268.4" stroke="#111" stroke-width="1.1"/>
<path d="M1180 268.4 L1166.23 273.96 L1170.28 268.4 L1166.23 262.84 Z" fill="#111"/>
<line x1="947.4" y1="318.9" x2="1143.17" y2="331.97" stroke="#111" stroke-width="1.1"/>
<path d="M1152.6 332.6 L1138.49 337.23 L1142.9 331.95 L1139.23 326.13 Z" fill="#111"/>
<path d="M1285.3 156.6 C1298 155.8 1306 156.2 1311.6 158.2 V377.2 C1306 379.3 1298 379.6 1285.3 379" fill="none" stroke="#111" stroke-width="1.7"/>
<path d="M1311.6 267.5 C1320 266.6 1328 266.6 1337 266.6" fill="none" stroke="#111" stroke-width="1.7"/>
<g fill="none" stroke="#111" stroke-width="2.3">
<circle cx="1362.3" cy="231.6" r="8.8"/><path d="M1362.3 240.4 V262.6 M1353 253 H1371.6"/>
<circle cx="1362" cy="309.6" r="8.9"/><path d="M1367.6 302.6 L1378.5 286.5"/>
</g>
<path d="M1382.6 280.5 L1381.5 293 L1377.5 288.2 L1371.8 287 Z" fill="#111"/>
<text transform="translate(-2.6 479.5) scale(1 1.16)" font-size="32">B</text>
<path d="M136.3 876.1 V569.69 Q136.3 568.49 137.5 568.49 H146.4 Q147.6 568.49 147.6 569.69 V876.1 Z" fill="#FFA7AB"/>
<path d="M138.4 575.89L145.3 570.1M138.4 583.89L145.3 578.1M138.4 591.89L145.3 586.1M138.4 599.89L145.3 594.1M138.4 607.89L145.3 602.1M138.4 615.89L145.3 610.1M138.4 623.89L145.3 618.1M138.4 631.89L145.3 626.1M138.4 639.89L145.3 634.1M138.4 647.89L145.3 642.1M138.4 655.89L145.3 650.1M138.4 663.89L145.3 658.1M138.4 671.89L145.3 666.1M138.4 679.89L145.3 674.1M138.4 687.89L145.3 682.1M138.4 695.89L145.3 690.1M138.4 703.89L145.3 698.1M138.4 711.89L145.3 706.1M138.4 719.89L145.3 714.1M138.4 727.89L145.3 722.1M138.4 735.89L145.3 730.1M138.4 743.89L145.3 738.1M138.4 751.89L145.3 746.1M138.4 759.89L145.3 754.1M138.4 767.89L145.3 762.1M138.4 775.89L145.3 770.1M138.4 783.89L145.3 778.1M138.4 791.89L145.3 786.1M138.4 799.89L145.3 794.1M138.4 807.89L145.3 802.1M138.4 815.89L145.3 810.1M138.4 823.89L145.3 818.1M138.4 831.89L145.3 826.1M138.4 839.89L145.3 834.1M138.4 847.89L145.3 842.1M138.4 855.89L145.3 850.1M138.4 863.89L145.3 858.1M138.4 871.89L145.3 866.1M142.92 876.1L145.3 874.1" stroke="#0d0d0d" stroke-width="1.7" fill="none"/>
<path d="M151.6 876.1 V875.62 Q151.6 875.13 152.08 875.13 H162.42 Q162.9 875.13 162.9 875.62 V876.1 Z" fill="#9DC0E6"/>
<path d="M141.95 568.99 V555.61 M139.05 555.91 H144.85" stroke="#151515" stroke-width="1.7" fill="none"/>
<path d="M177.07 876.1 V745.24 Q177.07 744.04 178.27 744.04 H187.17 Q188.37 744.04 188.37 745.24 V876.1 Z" fill="#FFA7AB"/>
<path d="M179.17 751.44L186.07 745.64M179.17 759.44L186.07 753.64M179.17 767.44L186.07 761.64M179.17 775.44L186.07 769.64M179.17 783.44L186.07 777.64M179.17 791.44L186.07 785.64M179.17 799.44L186.07 793.64M179.17 807.44L186.07 801.64M179.17 815.44L186.07 809.64M179.17 823.44L186.07 817.64M179.17 831.44L186.07 825.64M179.17 839.44L186.07 833.64M179.17 847.44L186.07 841.64M179.17 855.44L186.07 849.64M179.17 863.44L186.07 857.64M179.17 871.44L186.07 865.64M183.14 876.1L186.07 873.64" stroke="#0d0d0d" stroke-width="1.7" fill="none"/>
<path d="M192.37 876.1 V874.72 Q192.37 873.52 193.57 873.52 H202.47 Q203.67 873.52 203.67 874.72 V876.1 Z" fill="#9DC0E6"/>
<path d="M200.21 876.1L201.37 875.13" stroke="#0d0d0d" stroke-width="1.7" fill="none"/>
<path d="M182.72 744.54 V735.02 M179.82 735.32 H185.62" stroke="#151515" stroke-width="1.7" fill="none"/>
<path d="M198.02 874.02 V869.98 M195.12 870.28 H200.92" stroke="#151515" stroke-width="1.7" fill="none"/>
<path d="M217.84 876.1 V854.11 Q217.84 852.91 219.04 852.91 H227.94 Q229.14 852.91 229.14 854.11 V876.1 Z" fill="#FFA7AB"/>
<path d="M219.94 860.31L226.84 854.51M219.94 868.31L226.84 862.51M220.19 876.1L226.84 870.51" stroke="#0d0d0d" stroke-width="1.7" fill="none"/>
<path d="M233.14 876.1 V874.4 Q233.14 873.2 234.34 873.2 H243.24 Q244.44 873.2 244.44 874.4 V876.1 Z" fill="#9DC0E6"/>
<path d="M240.6 876.1L242.14 874.81" stroke="#0d0d0d" stroke-width="1.7" fill="none"/>
<path d="M223.49 853.41 V849.69 M220.59 849.99 H226.39" stroke="#151515" stroke-width="1.7" fill="none"/>
<path d="M238.79 873.7 V869.98 M235.89 870.28 H241.69" stroke="#151515" stroke-width="1.7" fill="none"/>
<path d="M258.61 876.1 V871.82 Q258.61 870.62 259.81 870.62 H268.71 Q269.91 870.62 269.91 871.82 V876.1 Z" fill="#FFA7AB"/>
<path d="M263 876.1L267.61 872.23" stroke="#0d0d0d" stroke-width="1.7" fill="none"/>
<path d="M273.91 876.1 V875.13 Q273.91 874.17 274.88 874.17 H284.24 Q285.21 874.17 285.21 875.13 V876.1 Z" fill="#9DC0E6"/>
<path d="M264.26 871.12 V867.73 M261.36 868.03 H267.16" stroke="#151515" stroke-width="1.7" fill="none"/>
<path d="M279.56 874.67 V871.91 M276.66 872.21 H282.46" stroke="#151515" stroke-width="1.7" fill="none"/>
<path d="M299.38 876.1 V756.83 Q299.38 755.63 300.58 755.63 H309.48 Q310.68 755.63 310.68 756.83 V876.1 Z" fill="#FFA7AB"/>
<path d="M301.48 763.03L308.38 757.24M301.48 771.03L308.38 765.24M301.48 779.03L308.38 773.24M301.48 787.03L308.38 781.24M301.48 795.03L308.38 789.24M301.48 803.03L308.38 797.24M301.48 811.03L308.38 805.24M301.48 819.03L308.38 813.24M301.48 827.03L308.38 821.24M301.48 835.03L308.38 829.24M301.48 843.03L308.38 837.24M301.48 851.03L308.38 845.24M301.48 859.03L308.38 853.24M301.48 867.03L308.38 861.24M301.48 875.03L308.38 869.24" stroke="#0d0d0d" stroke-width="1.7" fill="none"/>
<path d="M314.68 876.1 V873.11 Q314.68 871.91 315.88 871.91 H324.78 Q325.98 871.91 325.98 873.11 V876.1 Z" fill="#9DC0E6"/>
<path d="M320.6 876.1L323.68 873.52" stroke="#0d0d0d" stroke-width="1.7" fill="none"/>
<path d="M305.03 756.13 V748.87 M302.13 749.17 H307.93" stroke="#151515" stroke-width="1.7" fill="none"/>
<path d="M320.33 872.41 V869.34 M317.43 869.64 H323.23" stroke="#151515" stroke-width="1.7" fill="none"/>
<path d="M340.15 876.1 V833.49 Q340.15 832.29 341.35 832.29 H350.25 Q351.45 832.29 351.45 833.49 V876.1 Z" fill="#FFA7AB"/>
<path d="M342.25 839.69L349.15 833.9M342.25 847.69L349.15 841.9M342.25 855.69L349.15 849.9M342.25 863.69L349.15 857.9M342.25 871.69L349.15 865.9M346.53 876.1L349.15 873.9" stroke="#0d0d0d" stroke-width="1.7" fill="none"/>
<path d="M355.45 876.1 V874.4 Q355.45 873.2 356.65 873.2 H365.55 Q366.75 873.2 366.75 874.4 V876.1 Z" fill="#9DC0E6"/>
<path d="M362.91 876.1L364.45 874.81" stroke="#0d0d0d" stroke-width="1.7" fill="none"/>
<path d="M345.8 832.79 V828.11 M342.9 828.41 H348.7" stroke="#151515" stroke-width="1.7" fill="none"/>
<path d="M361.1 873.7 V869.98 M358.2 870.28 H364" stroke="#151515" stroke-width="1.7" fill="none"/>
<path d="M380.92 876.1 V570.34 Q380.92 569.14 382.12 569.14 H391.02 Q392.22 569.14 392.22 570.34 V876.1 Z" fill="#FFA7AB"/>
<path d="M396.22 876.1 V873.76 Q396.22 872.56 397.42 872.56 H406.32 Q407.52 872.56 407.52 873.76 V876.1 Z" fill="#9DC0E6"/>
<path d="M386.57 569.64 V564.63 M383.67 564.93 H389.47" stroke="#151515" stroke-width="1.7" fill="none"/>
<path d="M401.87 873.06 V870.95 M398.97 871.25 H404.77" stroke="#151515" stroke-width="1.7" fill="none"/>
<path d="M421.69 876.1 V624.13 Q421.69 622.93 422.89 622.93 H431.79 Q432.99 622.93 432.99 624.13 V876.1 Z" fill="#FFA7AB"/>
<path d="M436.99 876.1 V874.97 Q436.99 873.85 438.12 873.85 H447.16 Q448.29 873.85 448.29 874.97 V876.1 Z" fill="#9DC0E6"/>
<path d="M427.34 623.43 V613.59 M424.44 613.89 H430.24" stroke="#151515" stroke-width="1.7" fill="none"/>
<path d="M442.64 874.35 V870.95 M439.74 871.25 H445.54" stroke="#151515" stroke-width="1.7" fill="none"/>
<path d="M462.46 876.1 V607.7 Q462.46 606.5 463.66 606.5 H472.56 Q473.76 606.5 473.76 607.7 V876.1 Z" fill="#FFA7AB"/>
<path d="M477.76 876.1 V871.82 Q477.76 870.62 478.96 870.62 H487.86 Q489.06 870.62 489.06 871.82 V876.1 Z" fill="#9DC0E6"/>
<path d="M468.11 607 V594.91 M465.21 595.21 H471.01" stroke="#151515" stroke-width="1.7" fill="none"/>
<path d="M483.41 871.12 V864.83 M480.51 865.13 H486.31" stroke="#151515" stroke-width="1.7" fill="none"/>
<path d="M503.23 876.1 V593.21 Q503.23 592.01 504.43 592.01 H513.33 Q514.53 592.01 514.53 593.21 V876.1 Z" fill="#FFA7AB"/>
<path d="M518.53 876.1 V873.76 Q518.53 872.56 519.73 872.56 H528.63 Q529.83 872.56 529.83 873.76 V876.1 Z" fill="#9DC0E6"/>
<path d="M508.88 592.51 V582.67 M505.98 582.97 H511.78" stroke="#151515" stroke-width="1.7" fill="none"/>
<path d="M524.18 873.06 V869.01 M521.28 869.31 H527.08" stroke="#151515" stroke-width="1.7" fill="none"/>
<path d="M544 876.1 V609.63 Q544 608.43 545.2 608.43 H554.1 Q555.3 608.43 555.3 609.63 V876.1 Z" fill="#FFA7AB"/>
<path d="M559.3 876.1 V872.79 Q559.3 871.59 560.5 871.59 H569.4 Q570.6 871.59 570.6 872.79 V876.1 Z" fill="#9DC0E6"/>
<path d="M549.65 608.93 V592.97 M546.75 593.27 H552.55" stroke="#151515" stroke-width="1.7" fill="none"/>
<path d="M564.95 872.09 V868.69 M562.05 868.99 H567.85" stroke="#151515" stroke-width="1.7" fill="none"/>
<path d="M584.77 876.1 V592.89 Q584.77 591.69 585.97 591.69 H594.87 Q596.07 591.69 596.07 592.89 V876.1 Z" fill="#FFA7AB"/>
<path d="M600.07 876.1 V873.76 Q600.07 872.56 601.27 872.56 H610.17 Q611.37 872.56 611.37 873.76 V876.1 Z" fill="#9DC0E6"/>
<path d="M590.42 592.19 V573.97 M587.52 574.27 H593.32" stroke="#151515" stroke-width="1.7" fill="none"/>
<path d="M605.72 873.06 V869.98 M602.82 870.28 H608.62" stroke="#151515" stroke-width="1.7" fill="none"/>
<path d="M132.1 553.2 V877.6 M118.1 876.1 H616.7" stroke="#111" stroke-width="1.6" fill="none"/>
<text x="114.1" y="884.2" font-size="23.3" text-anchor="end">0</text>
<line x1="118.1" y1="811.68" x2="132.1" y2="811.68" stroke="#111" stroke-width="1.6"/>
<text x="114.1" y="819.78" font-size="23.3" text-anchor="end">20</text>
<line x1="118.1" y1="747.26" x2="132.1" y2="747.26" stroke="#111" stroke-width="1.6"/>
<text x="114.1" y="755.36" font-size="23.3" text-anchor="end">40</text>
<line x1="118.1" y1="682.84" x2="132.1" y2="682.84" stroke="#111" stroke-width="1.6"/>
<text x="114.1" y="690.94" font-size="23.3" text-anchor="end">60</text>
<line x1="118.1" y1="618.42" x2="132.1" y2="618.42" stroke="#111" stroke-width="1.6"/>
<text x="114.1" y="626.52" font-size="23.3" text-anchor="end">80</text>
<line x1="118.1" y1="554" x2="132.1" y2="554" stroke="#111" stroke-width="1.6"/>
<text x="114.1" y="562.1" font-size="23.3" text-anchor="end">100</text>
<line x1="149" y1="876.1" x2="149" y2="890.3" stroke="#111" stroke-width="1.6"/>
<text x="160.5" y="905.1" font-size="22" text-anchor="end" transform="rotate(-50 160.5 905.1)">Female MEFs</text>
<line x1="189.77" y1="876.1" x2="189.77" y2="890.3" stroke="#111" stroke-width="1.6"/>
<text x="201.27" y="905.1" font-size="22" text-anchor="end" transform="rotate(-50 201.27 905.1)">F FBS1</text>
<line x1="230.54" y1="876.1" x2="230.54" y2="890.3" stroke="#111" stroke-width="1.6"/>
<text x="242.74" y="905.31" font-size="22" text-anchor="end" transform="rotate(-50 242.74 905.31)">F FBS2</text>
<line x1="271.31" y1="876.1" x2="271.31" y2="890.3" stroke="#111" stroke-width="1.6"/>
<text x="283.51" y="905.31" font-size="22" text-anchor="end" transform="rotate(-50 283.51 905.31)">F FBS3</text>
<line x1="312.08" y1="876.1" x2="312.08" y2="890.3" stroke="#111" stroke-width="1.6"/>
<text x="323.58" y="905.1" font-size="22" text-anchor="end" transform="rotate(-50 323.58 905.1)">FFBS4</text>
<line x1="352.85" y1="876.1" x2="352.85" y2="890.3" stroke="#111" stroke-width="1.6"/>
<text x="364.35" y="905.1" font-size="22" text-anchor="end" transform="rotate(-50 364.35 905.1)">F FBS5</text>
<line x1="393.62" y1="876.1" x2="393.62" y2="890.3" stroke="#111" stroke-width="1.6"/>
<text x="405.82" y="905.31" font-size="22" text-anchor="end" transform="rotate(-50 405.82 905.31)">Male MEFs</text>
<line x1="434.39" y1="876.1" x2="434.39" y2="890.3" stroke="#111" stroke-width="1.6"/>
<text x="446.59" y="905.31" font-size="22" text-anchor="end" transform="rotate(-50 446.59 905.31)">M FBS1</text>
<line x1="475.16" y1="876.1" x2="475.16" y2="890.3" stroke="#111" stroke-width="1.6"/>
<text x="488.36" y="905.61" font-size="22" text-anchor="end" transform="rotate(-50 488.36 905.61)">M FBS2</text>
<line x1="515.93" y1="876.1" x2="515.93" y2="890.3" stroke="#111" stroke-width="1.6"/>
<text x="528.43" y="905.4" font-size="22" text-anchor="end" transform="rotate(-50 528.43 905.4)">M FBS3</text>
<line x1="556.7" y1="876.1" x2="556.7" y2="890.3" stroke="#111" stroke-width="1.6"/>
<text x="571.6" y="906.12" font-size="22" text-anchor="end" transform="rotate(-50 571.6 906.12)">M FBS4</text>
<line x1="597.47" y1="876.1" x2="597.47" y2="890.3" stroke="#111" stroke-width="1.6"/>
<text x="609.97" y="905.4" font-size="22" text-anchor="end" transform="rotate(-50 609.97 905.4)">M FBS5</text>
<text x="390.7" y="516" font-size="31" text-anchor="middle" font-style="italic">Peg3</text>
<text x="57" y="720" font-size="26.2" text-anchor="middle" transform="rotate(-90 57 720)">% Methylation</text>
<path d="M914.7 876 V866.68 Q914.7 865.48 915.9 865.48 H924.8 Q926 865.48 926 866.68 V876 Z" fill="#FFA7AB"/>
<path d="M916.8 872.88L923.7 867.09M922.61 876L923.7 875.09" stroke="#0d0d0d" stroke-width="1.7" fill="none"/>
<path d="M930 876 V573.8 Q930 572.6 931.2 572.6 H940.1 Q941.3 572.6 941.3 573.8 V876 Z" fill="#9DC0E6"/>
<path d="M932.1 580L939 574.2M932.1 588L939 582.2M932.1 596L939 590.2M932.1 604L939 598.2M932.1 612L939 606.2M932.1 620L939 614.2M932.1 628L939 622.2M932.1 636L939 630.2M932.1 644L939 638.2M932.1 652L939 646.2M932.1 660L939 654.2M932.1 668L939 662.2M932.1 676L939 670.2M932.1 684L939 678.2M932.1 692L939 686.2M932.1 700L939 694.2M932.1 708L939 702.2M932.1 716L939 710.2M932.1 724L939 718.2M932.1 732L939 726.2M932.1 740L939 734.2M932.1 748L939 742.2M932.1 756L939 750.2M932.1 764L939 758.2M932.1 772L939 766.2M932.1 780L939 774.2M932.1 788L939 782.2M932.1 796L939 790.2M932.1 804L939 798.2M932.1 812L939 806.2M932.1 820L939 814.2M932.1 828L939 822.2M932.1 836L939 830.2M932.1 844L939 838.2M932.1 852L939 846.2M932.1 860L939 854.2M932.1 868L939 862.2M932.1 876L939 870.2" stroke="#0d0d0d" stroke-width="1.7" fill="none"/>
<path d="M920.35 865.98 V854.97 M917.45 855.27 H923.25" stroke="#151515" stroke-width="1.7" fill="none"/>
<path d="M935.65 573.1 V563.99 M932.75 564.29 H938.55" stroke="#151515" stroke-width="1.7" fill="none"/>
<path d="M955.03 876 V722.95 Q955.03 721.75 956.23 721.75 H965.13 Q966.33 721.75 966.33 722.95 V876 Z" fill="#FFA7AB"/>
<path d="M957.13 729.15L964.03 723.35M957.13 737.15L964.03 731.35M957.13 745.15L964.03 739.35M957.13 753.15L964.03 747.35M957.13 761.15L964.03 755.35M957.13 769.15L964.03 763.35M957.13 777.15L964.03 771.35M957.13 785.15L964.03 779.35M957.13 793.15L964.03 787.35M957.13 801.15L964.03 795.35M957.13 809.15L964.03 803.35M957.13 817.15L964.03 811.35M957.13 825.15L964.03 819.35M957.13 833.15L964.03 827.35M957.13 841.15L964.03 835.35M957.13 849.15L964.03 843.35M957.13 857.15L964.03 851.35M957.13 865.15L964.03 859.35M957.13 873.15L964.03 867.35" stroke="#0d0d0d" stroke-width="1.7" fill="none"/>
<path d="M970.33 876 V728.05 Q970.33 726.85 971.53 726.85 H980.43 Q981.63 726.85 981.63 728.05 V876 Z" fill="#9DC0E6"/>
<path d="M972.43 734.25L979.33 728.45M972.43 742.25L979.33 736.45M972.43 750.25L979.33 744.45M972.43 758.25L979.33 752.45M972.43 766.25L979.33 760.45M972.43 774.25L979.33 768.45M972.43 782.25L979.33 776.45M972.43 790.25L979.33 784.45M972.43 798.25L979.33 792.45M972.43 806.25L979.33 800.45M972.43 814.25L979.33 808.45M972.43 822.25L979.33 816.45M972.43 830.25L979.33 824.45M972.43 838.25L979.33 832.45M972.43 846.25L979.33 840.45M972.43 854.25L979.33 848.45M972.43 862.25L979.33 856.45M972.43 870.25L979.33 864.45M975.11 876L979.33 872.45" stroke="#0d0d0d" stroke-width="1.7" fill="none"/>
<path d="M960.68 722.25 V709.32 M957.78 709.62 H963.58" stroke="#151515" stroke-width="1.7" fill="none"/>
<path d="M975.98 727.35 V715.69 M973.08 715.99 H978.88" stroke="#151515" stroke-width="1.7" fill="none"/>
<path d="M995.36 876 V806.13 Q995.36 804.93 996.56 804.93 H1005.46 Q1006.66 804.93 1006.66 806.13 V876 Z" fill="#FFA7AB"/>
<path d="M997.46 812.33L1004.36 806.53M997.46 820.33L1004.36 814.53M997.46 828.33L1004.36 822.53M997.46 836.33L1004.36 830.53M997.46 844.33L1004.36 838.53M997.46 852.33L1004.36 846.53M997.46 860.33L1004.36 854.53M997.46 868.33L1004.36 862.53M997.85 876L1004.36 870.53" stroke="#0d0d0d" stroke-width="1.7" fill="none"/>
<path d="M1010.66 876 V771.07 Q1010.66 769.87 1011.86 769.87 H1020.76 Q1021.96 769.87 1021.96 771.07 V876 Z" fill="#9DC0E6"/>
<path d="M1012.76 777.27L1019.66 771.48M1012.76 785.27L1019.66 779.48M1012.76 793.27L1019.66 787.48M1012.76 801.27L1019.66 795.48M1012.76 809.27L1019.66 803.48M1012.76 817.27L1019.66 811.48M1012.76 825.27L1019.66 819.48M1012.76 833.27L1019.66 827.48M1012.76 841.27L1019.66 835.48M1012.76 849.27L1019.66 843.48M1012.76 857.27L1019.66 851.48M1012.76 865.27L1019.66 859.48M1012.76 873.27L1019.66 867.48" stroke="#0d0d0d" stroke-width="1.7" fill="none"/>
<path d="M1001.01 805.43 V788.68 M998.11 788.98 H1003.91" stroke="#151515" stroke-width="1.7" fill="none"/>
<path d="M1016.31 770.37 V754.58 M1013.41 754.88 H1019.21" stroke="#151515" stroke-width="1.7" fill="none"/>
<path d="M1035.69 876 V816.65 Q1035.69 815.45 1036.89 815.45 H1045.79 Q1046.99 815.45 1046.99 816.65 V876 Z" fill="#FFA7AB"/>
<path d="M1037.79 822.85L1044.69 817.05M1037.79 830.85L1044.69 825.05M1037.79 838.85L1044.69 833.05M1037.79 846.85L1044.69 841.05M1037.79 854.85L1044.69 849.05M1037.79 862.85L1044.69 857.05M1037.79 870.85L1044.69 865.05M1041.18 876L1044.69 873.05" stroke="#0d0d0d" stroke-width="1.7" fill="none"/>
<path d="M1050.99 876 V809 Q1050.99 807.8 1052.19 807.8 H1061.09 Q1062.29 807.8 1062.29 809 V876 Z" fill="#9DC0E6"/>
<path d="M1053.09 815.2L1059.99 809.4M1053.09 823.2L1059.99 817.4M1053.09 831.2L1059.99 825.4M1053.09 839.2L1059.99 833.4M1053.09 847.2L1059.99 841.4M1053.09 855.2L1059.99 849.4M1053.09 863.2L1059.99 857.4M1053.09 871.2L1059.99 865.4M1056.9 876L1059.99 873.4" stroke="#0d0d0d" stroke-width="1.7" fill="none"/>
<path d="M1041.34 815.95 V805.25 M1038.44 805.55 H1044.24" stroke="#151515" stroke-width="1.7" fill="none"/>
<path d="M1056.64 808.3 V796.01 M1053.74 796.31 H1059.54" stroke="#151515" stroke-width="1.7" fill="none"/>
<path d="M1076.02 876 V771.07 Q1076.02 769.87 1077.22 769.87 H1086.12 Q1087.32 769.87 1087.32 771.07 V876 Z" fill="#FFA7AB"/>
<path d="M1078.12 777.27L1085.02 771.48M1078.12 785.27L1085.02 779.48M1078.12 793.27L1085.02 787.48M1078.12 801.27L1085.02 795.48M1078.12 809.27L1085.02 803.48M1078.12 817.27L1085.02 811.48M1078.12 825.27L1085.02 819.48M1078.12 833.27L1085.02 827.48M1078.12 841.27L1085.02 835.48M1078.12 849.27L1085.02 843.48M1078.12 857.27L1085.02 851.48M1078.12 865.27L1085.02 859.48M1078.12 873.27L1085.02 867.48" stroke="#0d0d0d" stroke-width="1.7" fill="none"/>
<path d="M1091.32 876 V680.56 Q1091.32 679.36 1092.52 679.36 H1101.42 Q1102.62 679.36 1102.62 680.56 V876 Z" fill="#9DC0E6"/>
<path d="M1093.42 686.76L1100.32 680.97M1093.42 694.76L1100.32 688.97M1093.42 702.76L1100.32 696.97M1093.42 710.76L1100.32 704.97M1093.42 718.76L1100.32 712.97M1093.42 726.76L1100.32 720.97M1093.42 734.76L1100.32 728.97M1093.42 742.76L1100.32 736.97M1093.42 750.76L1100.32 744.97M1093.42 758.76L1100.32 752.97M1093.42 766.76L1100.32 760.97M1093.42 774.76L1100.32 768.97M1093.42 782.76L1100.32 776.97M1093.42 790.76L1100.32 784.97M1093.42 798.76L1100.32 792.97M1093.42 806.76L1100.32 800.97M1093.42 814.76L1100.32 808.97M1093.42 822.76L1100.32 816.97M1093.42 830.76L1100.32 824.97M1093.42 838.76L1100.32 832.97M1093.42 846.76L1100.32 840.97M1093.42 854.76L1100.32 848.97M1093.42 862.76L1100.32 856.97M1093.42 870.76L1100.32 864.97M1096.71 876L1100.32 872.97" stroke="#0d0d0d" stroke-width="1.7" fill="none"/>
<path d="M1081.67 770.37 V762.54 M1078.77 762.84 H1084.57" stroke="#151515" stroke-width="1.7" fill="none"/>
<path d="M1096.97 679.86 V659.6 M1094.07 659.9 H1099.87" stroke="#151515" stroke-width="1.7" fill="none"/>
<path d="M1116.35 876 V819.83 Q1116.35 818.63 1117.55 818.63 H1126.45 Q1127.65 818.63 1127.65 819.83 V876 Z" fill="#FFA7AB"/>
<path d="M1118.45 826.03L1125.35 820.24M1118.45 834.03L1125.35 828.24M1118.45 842.03L1125.35 836.24M1118.45 850.03L1125.35 844.24M1118.45 858.03L1125.35 852.24M1118.45 866.03L1125.35 860.24M1118.45 874.03L1125.35 868.24" stroke="#0d0d0d" stroke-width="1.7" fill="none"/>
<path d="M1131.65 876 V781.91 Q1131.65 780.71 1132.85 780.71 H1141.75 Q1142.95 780.71 1142.95 781.91 V876 Z" fill="#9DC0E6"/>
<path d="M1133.75 788.11L1140.65 782.31M1133.75 796.11L1140.65 790.31M1133.75 804.11L1140.65 798.31M1133.75 812.11L1140.65 806.31M1133.75 820.11L1140.65 814.31M1133.75 828.11L1140.65 822.31M1133.75 836.11L1140.65 830.31M1133.75 844.11L1140.65 838.31M1133.75 852.11L1140.65 846.31M1133.75 860.11L1140.65 854.31M1133.75 868.11L1140.65 862.31M1133.88 876L1140.65 870.31" stroke="#0d0d0d" stroke-width="1.7" fill="none"/>
<path d="M1122 819.13 V809.71 M1119.1 810.01 H1124.9" stroke="#151515" stroke-width="1.7" fill="none"/>
<path d="M1137.3 781.21 V761.91 M1134.4 762.21 H1140.2" stroke="#151515" stroke-width="1.7" fill="none"/>
<path d="M1156.68 876 V861.9 Q1156.68 860.7 1157.88 860.7 H1166.78 Q1167.98 860.7 1167.98 861.9 V876 Z" fill="#FFA7AB"/>
<path d="M1171.98 876 V576.67 Q1171.98 575.47 1173.18 575.47 H1182.08 Q1183.28 575.47 1183.28 576.67 V876 Z" fill="#9DC0E6"/>
<path d="M1162.33 861.2 V849.55 M1159.43 849.85 H1165.23" stroke="#151515" stroke-width="1.7" fill="none"/>
<path d="M1177.63 575.97 V562.08 M1174.73 562.38 H1180.53" stroke="#151515" stroke-width="1.7" fill="none"/>
<path d="M1197.01 876 V823.66 Q1197.01 822.46 1198.21 822.46 H1207.11 Q1208.31 822.46 1208.31 823.66 V876 Z" fill="#FFA7AB"/>
<path d="M1212.31 876 V595.79 Q1212.31 594.59 1213.51 594.59 H1222.41 Q1223.61 594.59 1223.61 595.79 V876 Z" fill="#9DC0E6"/>
<path d="M1202.66 822.96 V814.81 M1199.76 815.11 H1205.56" stroke="#151515" stroke-width="1.7" fill="none"/>
<path d="M1217.96 595.09 V577.7 M1215.06 578 H1220.86" stroke="#151515" stroke-width="1.7" fill="none"/>
<path d="M1237.34 876 V620.97 Q1237.34 619.77 1238.54 619.77 H1247.44 Q1248.64 619.77 1248.64 620.97 V876 Z" fill="#FFA7AB"/>
<path d="M1252.64 876 V592.28 Q1252.64 591.08 1253.84 591.08 H1262.74 Q1263.94 591.08 1263.94 592.28 V876 Z" fill="#9DC0E6"/>
<path d="M1242.99 620.27 V610.2 M1240.09 610.5 H1245.89" stroke="#151515" stroke-width="1.7" fill="none"/>
<path d="M1258.29 591.58 V575.15 M1255.39 575.45 H1261.19" stroke="#151515" stroke-width="1.7" fill="none"/>
<path d="M1277.67 876 V610.45 Q1277.67 609.25 1278.87 609.25 H1287.77 Q1288.97 609.25 1288.97 610.45 V876 Z" fill="#FFA7AB"/>
<path d="M1292.97 876 V588.78 Q1292.97 587.58 1294.17 587.58 H1303.07 Q1304.27 587.58 1304.27 588.78 V876 Z" fill="#9DC0E6"/>
<path d="M1283.32 609.75 V588.21 M1280.42 588.51 H1286.22" stroke="#151515" stroke-width="1.7" fill="none"/>
<path d="M1298.62 588.08 V572.92 M1295.72 573.22 H1301.52" stroke="#151515" stroke-width="1.7" fill="none"/>
<path d="M1318 876 V596.11 Q1318 594.91 1319.2 594.91 H1328.1 Q1329.3 594.91 1329.3 596.11 V876 Z" fill="#FFA7AB"/>
<path d="M1333.3 876 V599.93 Q1333.3 598.73 1334.5 598.73 H1343.4 Q1344.6 598.73 1344.6 599.93 V876 Z" fill="#9DC0E6"/>
<path d="M1323.65 595.41 V577.7 M1320.75 578 H1326.55" stroke="#151515" stroke-width="1.7" fill="none"/>
<path d="M1338.95 599.23 V581.2 M1336.05 581.5 H1341.85" stroke="#151515" stroke-width="1.7" fill="none"/>
<path d="M1358.33 876 V601.52 Q1358.33 600.32 1359.53 600.32 H1368.43 Q1369.63 600.32 1369.63 601.52 V876 Z" fill="#FFA7AB"/>
<path d="M1373.63 876 V599.61 Q1373.63 598.41 1374.83 598.41 H1383.73 Q1384.93 598.41 1384.93 599.61 V876 Z" fill="#9DC0E6"/>
<path d="M1363.98 600.82 V584.71 M1361.08 585.01 H1366.88" stroke="#151515" stroke-width="1.7" fill="none"/>
<path d="M1379.28 598.91 V581.2 M1376.38 581.5 H1382.18" stroke="#151515" stroke-width="1.7" fill="none"/>
<path d="M910.5 556.5 V877.5 M896.5 876 H1390" stroke="#111" stroke-width="1.6" fill="none"/>
<text x="892.6" y="884.1" font-size="23.3" text-anchor="end">0</text>
<line x1="896.5" y1="812.26" x2="910.5" y2="812.26" stroke="#111" stroke-width="1.6"/>
<text x="892.6" y="820.36" font-size="23.3" text-anchor="end">20</text>
<line x1="896.5" y1="748.52" x2="910.5" y2="748.52" stroke="#111" stroke-width="1.6"/>
<text x="892.6" y="756.62" font-size="23.3" text-anchor="end">40</text>
<line x1="896.5" y1="684.78" x2="910.5" y2="684.78" stroke="#111" stroke-width="1.6"/>
<text x="892.6" y="692.88" font-size="23.3" text-anchor="end">60</text>
<line x1="896.5" y1="621.04" x2="910.5" y2="621.04" stroke="#111" stroke-width="1.6"/>
<text x="892.6" y="629.14" font-size="23.3" text-anchor="end">80</text>
<line x1="896.5" y1="557.3" x2="910.5" y2="557.3" stroke="#111" stroke-width="1.6"/>
<text x="892.6" y="565.4" font-size="23.3" text-anchor="end">100</text>
<line x1="927.4" y1="876" x2="927.4" y2="890.2" stroke="#111" stroke-width="1.6"/>
<text x="938.9" y="905" font-size="22" text-anchor="end" transform="rotate(-50 938.9 905)">Female MEFs</text>
<line x1="967.73" y1="876" x2="967.73" y2="890.2" stroke="#111" stroke-width="1.6"/>
<text x="979.23" y="905" font-size="22" text-anchor="end" transform="rotate(-50 979.23 905)">F FBS1</text>
<line x1="1008.06" y1="876" x2="1008.06" y2="890.2" stroke="#111" stroke-width="1.6"/>
<text x="1021.26" y="905.51" font-size="22" text-anchor="end" transform="rotate(-50 1021.26 905.51)">F FBS2</text>
<line x1="1048.39" y1="876" x2="1048.39" y2="890.2" stroke="#111" stroke-width="1.6"/>
<text x="1060.89" y="905.3" font-size="22" text-anchor="end" transform="rotate(-50 1060.89 905.3)">F FBS3</text>
<line x1="1088.72" y1="876" x2="1088.72" y2="890.2" stroke="#111" stroke-width="1.6"/>
<text x="1098.52" y="904.49" font-size="22" text-anchor="end" transform="rotate(-50 1098.52 904.49)">FFBS4</text>
<line x1="1129.05" y1="876" x2="1129.05" y2="890.2" stroke="#111" stroke-width="1.6"/>
<text x="1141.25" y="905.21" font-size="22" text-anchor="end" transform="rotate(-50 1141.25 905.21)">F FBS5</text>
<line x1="1169.38" y1="876" x2="1169.38" y2="890.2" stroke="#111" stroke-width="1.6"/>
<text x="1184.28" y="906.02" font-size="22" text-anchor="end" transform="rotate(-50 1184.28 906.02)">Male MEFs</text>
<line x1="1209.71" y1="876" x2="1209.71" y2="890.2" stroke="#111" stroke-width="1.6"/>
<text x="1220.51" y="904.79" font-size="22" text-anchor="end" transform="rotate(-50 1220.51 904.79)">M FBS1</text>
<line x1="1250.04" y1="876" x2="1250.04" y2="890.2" stroke="#111" stroke-width="1.6"/>
<text x="1263.24" y="905.51" font-size="22" text-anchor="end" transform="rotate(-50 1263.24 905.51)">M FBS2</text>
<line x1="1290.37" y1="876" x2="1290.37" y2="890.2" stroke="#111" stroke-width="1.6"/>
<text x="1301.87" y="905" font-size="22" text-anchor="end" transform="rotate(-50 1301.87 905)">M FBS3</text>
<line x1="1330.7" y1="876" x2="1330.7" y2="890.2" stroke="#111" stroke-width="1.6"/>
<text x="1341.2" y="904.7" font-size="22" text-anchor="end" transform="rotate(-50 1341.2 904.7)">M FBS4</text>
<line x1="1371.03" y1="876" x2="1371.03" y2="890.2" stroke="#111" stroke-width="1.6"/>
<text x="1381.83" y="904.79" font-size="22" text-anchor="end" transform="rotate(-50 1381.83 904.79)">M FBS5</text>
<text x="1145.8" y="517.5" font-size="31" text-anchor="middle" font-style="italic">Dlk1-Dio3</text>
<text x="835.5" y="720.5" font-size="26.2" text-anchor="middle" transform="rotate(-90 835.5 720.5)">% Methylation</text>
<path d="M121.9 1561.6 V1558.99 Q121.9 1557.79 123.1 1557.79 H132 Q133.2 1557.79 133.2 1558.99 V1561.6 Z" fill="#FFA7AB"/>
<path d="M128.27 1561.6L130.9 1559.39" stroke="#0d0d0d" stroke-width="1.7" fill="none"/>
<path d="M137.2 1561.6 V1298.16 Q137.2 1296.96 138.4 1296.96 H147.3 Q148.5 1296.96 148.5 1298.16 V1561.6 Z" fill="#9DC0E6"/>
<path d="M139.3 1304.36L146.2 1298.56M139.3 1312.36L146.2 1306.56M139.3 1320.36L146.2 1314.56M139.3 1328.36L146.2 1322.56M139.3 1336.36L146.2 1330.56M139.3 1344.36L146.2 1338.56M139.3 1352.36L146.2 1346.56M139.3 1360.36L146.2 1354.56M139.3 1368.36L146.2 1362.56M139.3 1376.36L146.2 1370.56M139.3 1384.36L146.2 1378.56M139.3 1392.36L146.2 1386.56M139.3 1400.36L146.2 1394.56M139.3 1408.36L146.2 1402.56M139.3 1416.36L146.2 1410.56M139.3 1424.36L146.2 1418.56M139.3 1432.36L146.2 1426.56M139.3 1440.36L146.2 1434.56M139.3 1448.36L146.2 1442.56M139.3 1456.36L146.2 1450.56M139.3 1464.36L146.2 1458.56M139.3 1472.36L146.2 1466.56M139.3 1480.36L146.2 1474.56M139.3 1488.36L146.2 1482.56M139.3 1496.36L146.2 1490.56M139.3 1504.36L146.2 1498.56M139.3 1512.36L146.2 1506.56M139.3 1520.36L146.2 1514.56M139.3 1528.36L146.2 1522.56M139.3 1536.36L146.2 1530.56M139.3 1544.36L146.2 1538.56M139.3 1552.36L146.2 1546.56M139.3 1560.36L146.2 1554.56" stroke="#0d0d0d" stroke-width="1.7" fill="none"/>
<path d="M127.55 1558.29 V1553.98 M124.65 1554.28 H130.45" stroke="#151515" stroke-width="1.7" fill="none"/>
<path d="M142.85 1297.46 V1267.41 M139.95 1267.71 H145.75" stroke="#151515" stroke-width="1.7" fill="none"/>
<path d="M162.12 1561.6 V1540.56 Q162.12 1539.36 163.32 1539.36 H172.22 Q173.42 1539.36 173.42 1540.56 V1561.6 Z" fill="#FFA7AB"/>
<path d="M164.22 1546.76L171.12 1540.96M164.22 1554.76L171.12 1548.96M165.6 1561.6L171.12 1556.96" stroke="#0d0d0d" stroke-width="1.7" fill="none"/>
<path d="M177.42 1561.6 V1477.97 Q177.42 1476.77 178.62 1476.77 H187.52 Q188.72 1476.77 188.72 1477.97 V1561.6 Z" fill="#9DC0E6"/>
<path d="M179.52 1484.17L186.42 1478.38M179.52 1492.17L186.42 1486.38M179.52 1500.17L186.42 1494.38M179.52 1508.17L186.42 1502.38M179.52 1516.17L186.42 1510.38M179.52 1524.17L186.42 1518.38M179.52 1532.17L186.42 1526.38M179.52 1540.17L186.42 1534.38M179.52 1548.17L186.42 1542.38M179.52 1556.17L186.42 1550.38M182.58 1561.6L186.42 1558.38" stroke="#0d0d0d" stroke-width="1.7" fill="none"/>
<path d="M167.77 1539.86 V1529.83 M164.87 1530.13 H170.67" stroke="#151515" stroke-width="1.7" fill="none"/>
<path d="M183.07 1477.27 V1466.61 M180.17 1466.91 H185.97" stroke="#151515" stroke-width="1.7" fill="none"/>
<path d="M202.34 1561.6 V1549.46 Q202.34 1548.26 203.54 1548.26 H212.44 Q213.64 1548.26 213.64 1549.46 V1561.6 Z" fill="#FFA7AB"/>
<path d="M204.44 1555.66L211.34 1549.86M206.89 1561.6L211.34 1557.86" stroke="#0d0d0d" stroke-width="1.7" fill="none"/>
<path d="M217.64 1561.6 V1504.98 Q217.64 1503.78 218.84 1503.78 H227.74 Q228.94 1503.78 228.94 1504.98 V1561.6 Z" fill="#9DC0E6"/>
<path d="M219.74 1511.18L226.64 1505.38M219.74 1519.18L226.64 1513.38M219.74 1527.18L226.64 1521.38M219.74 1535.18L226.64 1529.38M219.74 1543.18L226.64 1537.38M219.74 1551.18L226.64 1545.38M219.74 1559.18L226.64 1553.38" stroke="#0d0d0d" stroke-width="1.7" fill="none"/>
<path d="M207.99 1548.76 V1539.04 M205.09 1539.34 H210.89" stroke="#151515" stroke-width="1.7" fill="none"/>
<path d="M223.29 1504.28 V1486.62 M220.39 1486.92 H226.19" stroke="#151515" stroke-width="1.7" fill="none"/>
<path d="M242.56 1561.6 V1543.1 Q242.56 1541.9 243.76 1541.9 H252.66 Q253.86 1541.9 253.86 1543.1 V1561.6 Z" fill="#FFA7AB"/>
<path d="M244.66 1549.3L251.56 1543.51M244.66 1557.3L251.56 1551.51M249.07 1561.6L251.56 1559.51" stroke="#0d0d0d" stroke-width="1.7" fill="none"/>
<path d="M257.86 1561.6 V1526.26 Q257.86 1525.06 259.06 1525.06 H267.96 Q269.16 1525.06 269.16 1526.26 V1561.6 Z" fill="#9DC0E6"/>
<path d="M259.96 1532.46L266.86 1526.67M259.96 1540.46L266.86 1534.67M259.96 1548.46L266.86 1542.67M259.96 1556.46L266.86 1550.67M263.37 1561.6L266.86 1558.67" stroke="#0d0d0d" stroke-width="1.7" fill="none"/>
<path d="M248.21 1542.4 V1532.05 M245.31 1532.35 H251.11" stroke="#151515" stroke-width="1.7" fill="none"/>
<path d="M263.51 1525.56 V1517.12 M260.61 1517.42 H266.41" stroke="#151515" stroke-width="1.7" fill="none"/>
<path d="M282.78 1561.6 V1536.75 Q282.78 1535.55 283.98 1535.55 H292.88 Q294.08 1535.55 294.08 1536.75 V1561.6 Z" fill="#FFA7AB"/>
<path d="M284.88 1542.95L291.78 1537.15M284.88 1550.95L291.78 1545.15M284.88 1558.95L291.78 1553.15" stroke="#0d0d0d" stroke-width="1.7" fill="none"/>
<path d="M298.08 1561.6 V1486.23 Q298.08 1485.03 299.28 1485.03 H308.18 Q309.38 1485.03 309.38 1486.23 V1561.6 Z" fill="#9DC0E6"/>
<path d="M300.18 1492.43L307.08 1486.64M300.18 1500.43L307.08 1494.64M300.18 1508.43L307.08 1502.64M300.18 1516.43L307.08 1510.64M300.18 1524.43L307.08 1518.64M300.18 1532.43L307.08 1526.64M300.18 1540.43L307.08 1534.64M300.18 1548.43L307.08 1542.64M300.18 1556.43L307.08 1550.64M303.55 1561.6L307.08 1558.64" stroke="#0d0d0d" stroke-width="1.7" fill="none"/>
<path d="M288.43 1536.05 V1527.29 M285.53 1527.59 H291.33" stroke="#151515" stroke-width="1.7" fill="none"/>
<path d="M303.73 1485.53 V1466.93 M300.83 1467.23 H306.63" stroke="#151515" stroke-width="1.7" fill="none"/>
<path d="M323 1561.6 V1555.18 Q323 1553.98 324.2 1553.98 H333.1 Q334.3 1553.98 334.3 1555.18 V1561.6 Z" fill="#FFA7AB"/>
<path d="M325.1 1561.38L332 1555.58" stroke="#0d0d0d" stroke-width="1.7" fill="none"/>
<path d="M338.3 1561.6 V1526.58 Q338.3 1525.38 339.5 1525.38 H348.4 Q349.6 1525.38 349.6 1526.58 V1561.6 Z" fill="#9DC0E6"/>
<path d="M340.4 1532.78L347.3 1526.99M340.4 1540.78L347.3 1534.99M340.4 1548.78L347.3 1542.99M340.4 1556.78L347.3 1550.99M344.19 1561.6L347.3 1558.99" stroke="#0d0d0d" stroke-width="1.7" fill="none"/>
<path d="M328.65 1554.48 V1549.53 M325.75 1549.83 H331.55" stroke="#151515" stroke-width="1.7" fill="none"/>
<path d="M343.95 1525.88 V1516.8 M341.05 1517.1 H346.85" stroke="#151515" stroke-width="1.7" fill="none"/>
<path d="M363.22 1561.6 V1553.59 Q363.22 1552.39 364.42 1552.39 H373.32 Q374.52 1552.39 374.52 1553.59 V1561.6 Z" fill="#FFA7AB"/>
<path d="M378.52 1561.6 V1288.31 Q378.52 1287.11 379.72 1287.11 H388.62 Q389.82 1287.11 389.82 1288.31 V1561.6 Z" fill="#9DC0E6"/>
<path d="M368.87 1552.89 V1546.67 M365.97 1546.97 H371.77" stroke="#151515" stroke-width="1.7" fill="none"/>
<path d="M384.17 1287.61 V1257.24 M381.27 1257.54 H387.07" stroke="#151515" stroke-width="1.7" fill="none"/>
<path d="M403.44 1561.6 V1477.97 Q403.44 1476.77 404.64 1476.77 H413.54 Q414.74 1476.77 414.74 1477.97 V1561.6 Z" fill="#FFA7AB"/>
<path d="M418.74 1561.6 V1332.79 Q418.74 1331.59 419.94 1331.59 H428.84 Q430.04 1331.59 430.04 1332.79 V1561.6 Z" fill="#9DC0E6"/>
<path d="M409.09 1477.27 V1461.84 M406.19 1462.14 H411.99" stroke="#151515" stroke-width="1.7" fill="none"/>
<path d="M424.39 1332.09 V1311.57 M421.49 1311.87 H427.29" stroke="#151515" stroke-width="1.7" fill="none"/>
<path d="M443.66 1561.6 V1514.83 Q443.66 1513.63 444.86 1513.63 H453.76 Q454.96 1513.63 454.96 1514.83 V1561.6 Z" fill="#FFA7AB"/>
<path d="M458.96 1561.6 V1289.9 Q458.96 1288.7 460.16 1288.7 H469.06 Q470.26 1288.7 470.26 1289.9 V1561.6 Z" fill="#9DC0E6"/>
<path d="M449.31 1514.13 V1500.92 M446.41 1501.22 H452.21" stroke="#151515" stroke-width="1.7" fill="none"/>
<path d="M464.61 1289.2 V1262.64 M461.71 1262.94 H467.51" stroke="#151515" stroke-width="1.7" fill="none"/>
<path d="M483.88 1561.6 V1397.28 Q483.88 1396.08 485.08 1396.08 H493.98 Q495.18 1396.08 495.18 1397.28 V1561.6 Z" fill="#FFA7AB"/>
<path d="M499.18 1561.6 V1297.84 Q499.18 1296.64 500.38 1296.64 H509.28 Q510.48 1296.64 510.48 1297.84 V1561.6 Z" fill="#9DC0E6"/>
<path d="M489.53 1396.58 V1382.73 M486.63 1383.03 H492.43" stroke="#151515" stroke-width="1.7" fill="none"/>
<path d="M504.83 1297.14 V1274.4 M501.93 1274.7 H507.73" stroke="#151515" stroke-width="1.7" fill="none"/>
<path d="M524.1 1561.6 V1509.43 Q524.1 1508.23 525.3 1508.23 H534.2 Q535.4 1508.23 535.4 1509.43 V1561.6 Z" fill="#FFA7AB"/>
<path d="M539.4 1561.6 V1311.82 Q539.4 1310.62 540.6 1310.62 H549.5 Q550.7 1310.62 550.7 1311.82 V1561.6 Z" fill="#9DC0E6"/>
<path d="M529.75 1508.73 V1494.88 M526.85 1495.18 H532.65" stroke="#151515" stroke-width="1.7" fill="none"/>
<path d="M545.05 1311.12 V1281.71 M542.15 1282.01 H547.95" stroke="#151515" stroke-width="1.7" fill="none"/>
<path d="M564.32 1561.6 V1430.32 Q564.32 1429.12 565.52 1429.12 H574.42 Q575.62 1429.12 575.62 1430.32 V1561.6 Z" fill="#FFA7AB"/>
<path d="M579.62 1561.6 V1296.57 Q579.62 1295.37 580.82 1295.37 H589.72 Q590.92 1295.37 590.92 1296.57 V1561.6 Z" fill="#9DC0E6"/>
<path d="M569.97 1429.62 V1404.97 M567.07 1405.27 H572.87" stroke="#151515" stroke-width="1.7" fill="none"/>
<path d="M585.27 1295.87 V1277.58 M582.37 1277.88 H588.17" stroke="#151515" stroke-width="1.7" fill="none"/>
<path d="M117.2 1243.1 V1563.1 M103.2 1561.6 H596.2" stroke="#111" stroke-width="1.6" fill="none"/>
<text x="99.3" y="1569.7" font-size="23.3" text-anchor="end">0</text>
<line x1="103.2" y1="1498.06" x2="117.2" y2="1498.06" stroke="#111" stroke-width="1.6"/>
<text x="99.3" y="1506.16" font-size="23.3" text-anchor="end">20</text>
<line x1="103.2" y1="1434.52" x2="117.2" y2="1434.52" stroke="#111" stroke-width="1.6"/>
<text x="99.3" y="1442.62" font-size="23.3" text-anchor="end">40</text>
<line x1="103.2" y1="1370.98" x2="117.2" y2="1370.98" stroke="#111" stroke-width="1.6"/>
<text x="99.3" y="1379.08" font-size="23.3" text-anchor="end">60</text>
<line x1="103.2" y1="1307.44" x2="117.2" y2="1307.44" stroke="#111" stroke-width="1.6"/>
<text x="99.3" y="1315.54" font-size="23.3" text-anchor="end">80</text>
<line x1="103.2" y1="1243.9" x2="117.2" y2="1243.9" stroke="#111" stroke-width="1.6"/>
<text x="99.3" y="1252" font-size="23.3" text-anchor="end">100</text>
<line x1="134.6" y1="1561.6" x2="134.6" y2="1575.8" stroke="#111" stroke-width="1.6"/>
<text x="144.4" y="1590.09" font-size="22" text-anchor="end" transform="rotate(-50 144.4 1590.09)">Female MEFs</text>
<line x1="174.82" y1="1561.6" x2="174.82" y2="1575.8" stroke="#111" stroke-width="1.6"/>
<text x="185.32" y="1590.3" font-size="22" text-anchor="end" transform="rotate(-50 185.32 1590.3)">F FBS1</text>
<line x1="215.04" y1="1561.6" x2="215.04" y2="1575.8" stroke="#111" stroke-width="1.6"/>
<text x="227.24" y="1590.81" font-size="22" text-anchor="end" transform="rotate(-50 227.24 1590.81)">F FBS2</text>
<line x1="255.26" y1="1561.6" x2="255.26" y2="1575.8" stroke="#111" stroke-width="1.6"/>
<text x="266.76" y="1590.6" font-size="22" text-anchor="end" transform="rotate(-50 266.76 1590.6)">F FBS3</text>
<line x1="295.48" y1="1561.6" x2="295.48" y2="1575.8" stroke="#111" stroke-width="1.6"/>
<text x="304.58" y="1589.88" font-size="22" text-anchor="end" transform="rotate(-50 304.58 1589.88)">FFBS4</text>
<line x1="335.7" y1="1561.6" x2="335.7" y2="1575.8" stroke="#111" stroke-width="1.6"/>
<text x="347.2" y="1590.6" font-size="22" text-anchor="end" transform="rotate(-50 347.2 1590.6)">F FBS5</text>
<line x1="375.92" y1="1561.6" x2="375.92" y2="1575.8" stroke="#111" stroke-width="1.6"/>
<text x="389.82" y="1591.32" font-size="22" text-anchor="end" transform="rotate(-50 389.82 1591.32)">Male MEFs</text>
<line x1="416.14" y1="1561.6" x2="416.14" y2="1575.8" stroke="#111" stroke-width="1.6"/>
<text x="426.64" y="1590.3" font-size="22" text-anchor="end" transform="rotate(-50 426.64 1590.3)">M FBS1</text>
<line x1="456.36" y1="1561.6" x2="456.36" y2="1575.8" stroke="#111" stroke-width="1.6"/>
<text x="468.86" y="1590.9" font-size="22" text-anchor="end" transform="rotate(-50 468.86 1590.9)">M FBS2</text>
<line x1="496.58" y1="1561.6" x2="496.58" y2="1575.8" stroke="#111" stroke-width="1.6"/>
<text x="508.08" y="1590.6" font-size="22" text-anchor="end" transform="rotate(-50 508.08 1590.6)">M FBS3</text>
<line x1="536.8" y1="1561.6" x2="536.8" y2="1575.8" stroke="#111" stroke-width="1.6"/>
<text x="548.3" y="1590.6" font-size="22" text-anchor="end" transform="rotate(-50 548.3 1590.6)">M FBS4</text>
<line x1="577.02" y1="1561.6" x2="577.02" y2="1575.8" stroke="#111" stroke-width="1.6"/>
<text x="586.82" y="1590.09" font-size="22" text-anchor="end" transform="rotate(-50 586.82 1590.09)">M FBS5</text>
<text x="370.5" y="1202.3" font-size="31" text-anchor="middle" font-style="italic">Igf2-H19</text>
<text x="43" y="1406.5" font-size="26.2" text-anchor="middle" transform="rotate(-90 43 1406.5)">% Methylation</text>
<path d="M911.2 1561.2 V1267.18 Q911.2 1265.98 912.4 1265.98 H921.3 Q922.5 1265.98 922.5 1267.18 V1561.2 Z" fill="#FFA7AB"/>
<path d="M913.3 1273.38L920.2 1267.58M913.3 1281.38L920.2 1275.58M913.3 1289.38L920.2 1283.58M913.3 1297.38L920.2 1291.58M913.3 1305.38L920.2 1299.58M913.3 1313.38L920.2 1307.58M913.3 1321.38L920.2 1315.58M913.3 1329.38L920.2 1323.58M913.3 1337.38L920.2 1331.58M913.3 1345.38L920.2 1339.58M913.3 1353.38L920.2 1347.58M913.3 1361.38L920.2 1355.58M913.3 1369.38L920.2 1363.58M913.3 1377.38L920.2 1371.58M913.3 1385.38L920.2 1379.58M913.3 1393.38L920.2 1387.58M913.3 1401.38L920.2 1395.58M913.3 1409.38L920.2 1403.58M913.3 1417.38L920.2 1411.58M913.3 1425.38L920.2 1419.58M913.3 1433.38L920.2 1427.58M913.3 1441.38L920.2 1435.58M913.3 1449.38L920.2 1443.58M913.3 1457.38L920.2 1451.58M913.3 1465.38L920.2 1459.58M913.3 1473.38L920.2 1467.58M913.3 1481.38L920.2 1475.58M913.3 1489.38L920.2 1483.58M913.3 1497.38L920.2 1491.58M913.3 1505.38L920.2 1499.58M913.3 1513.38L920.2 1507.58M913.3 1521.38L920.2 1515.58M913.3 1529.38L920.2 1523.58M913.3 1537.38L920.2 1531.58M913.3 1545.38L920.2 1539.58M913.3 1553.38L920.2 1547.58M913.51 1561.2L920.2 1555.58" stroke="#0d0d0d" stroke-width="1.7" fill="none"/>
<path d="M926.5 1561.2 V1560.08 Q926.5 1558.96 927.62 1558.96 H936.68 Q937.8 1558.96 937.8 1560.08 V1561.2 Z" fill="#9DC0E6"/>
<path d="M916.85 1266.48 V1259.57 M913.95 1259.87 H919.75" stroke="#151515" stroke-width="1.7" fill="none"/>
<path d="M932.15 1559.46 V1556.08 M929.25 1556.38 H935.05" stroke="#151515" stroke-width="1.7" fill="none"/>
<path d="M951.63 1561.2 V1386.29 Q951.63 1385.09 952.83 1385.09 H961.73 Q962.93 1385.09 962.93 1386.29 V1561.2 Z" fill="#FFA7AB"/>
<path d="M953.73 1392.49L960.63 1386.69M953.73 1400.49L960.63 1394.69M953.73 1408.49L960.63 1402.69M953.73 1416.49L960.63 1410.69M953.73 1424.49L960.63 1418.69M953.73 1432.49L960.63 1426.69M953.73 1440.49L960.63 1434.69M953.73 1448.49L960.63 1442.69M953.73 1456.49L960.63 1450.69M953.73 1464.49L960.63 1458.69M953.73 1472.49L960.63 1466.69M953.73 1480.49L960.63 1474.69M953.73 1488.49L960.63 1482.69M953.73 1496.49L960.63 1490.69M953.73 1504.49L960.63 1498.69M953.73 1512.49L960.63 1506.69M953.73 1520.49L960.63 1514.69M953.73 1528.49L960.63 1522.69M953.73 1536.49L960.63 1530.69M953.73 1544.49L960.63 1538.69M953.73 1552.49L960.63 1546.69M953.73 1560.49L960.63 1554.69" stroke="#0d0d0d" stroke-width="1.7" fill="none"/>
<path d="M966.93 1561.2 V1558.88 Q966.93 1557.68 968.13 1557.68 H977.03 Q978.23 1557.68 978.23 1558.88 V1561.2 Z" fill="#9DC0E6"/>
<path d="M973.65 1561.2L975.93 1559.28" stroke="#0d0d0d" stroke-width="1.7" fill="none"/>
<path d="M957.28 1385.59 V1373.88 M954.38 1374.18 H960.18" stroke="#151515" stroke-width="1.7" fill="none"/>
<path d="M972.58 1558.18 V1554.8 M969.68 1555.1 H975.48" stroke="#151515" stroke-width="1.7" fill="none"/>
<path d="M992.06 1561.2 V1538.71 Q992.06 1537.51 993.26 1537.51 H1002.16 Q1003.36 1537.51 1003.36 1538.71 V1561.2 Z" fill="#FFA7AB"/>
<path d="M994.16 1544.91L1001.06 1539.11M994.16 1552.91L1001.06 1547.11M994.16 1560.91L1001.06 1555.11" stroke="#0d0d0d" stroke-width="1.7" fill="none"/>
<path d="M1007.36 1561.2 V1560.08 Q1007.36 1558.96 1008.48 1558.96 H1017.54 Q1018.66 1558.96 1018.66 1560.08 V1561.2 Z" fill="#9DC0E6"/>
<path d="M997.71 1538.01 V1532.06 M994.81 1532.36 H1000.61" stroke="#151515" stroke-width="1.7" fill="none"/>
<path d="M1013.01 1559.46 V1556.4 M1010.11 1556.7 H1015.91" stroke="#151515" stroke-width="1.7" fill="none"/>
<path d="M1032.49 1561.2 V1538.38 Q1032.49 1537.18 1033.69 1537.18 H1042.59 Q1043.79 1537.18 1043.79 1538.38 V1561.2 Z" fill="#FFA7AB"/>
<path d="M1034.59 1544.59L1041.49 1538.79M1034.59 1552.59L1041.49 1546.79M1034.59 1560.59L1041.49 1554.79" stroke="#0d0d0d" stroke-width="1.7" fill="none"/>
<path d="M1047.79 1561.2 V1556.64 Q1047.79 1555.44 1048.99 1555.44 H1057.89 Q1059.09 1555.44 1059.09 1556.64 V1561.2 Z" fill="#9DC0E6"/>
<path d="M1051.84 1561.2L1056.79 1557.04" stroke="#0d0d0d" stroke-width="1.7" fill="none"/>
<path d="M1038.14 1537.68 V1531.42 M1035.24 1531.72 H1041.04" stroke="#151515" stroke-width="1.7" fill="none"/>
<path d="M1053.44 1555.94 V1552.55 M1050.54 1552.85 H1056.34" stroke="#151515" stroke-width="1.7" fill="none"/>
<path d="M1072.92 1561.2 V1461.54 Q1072.92 1460.34 1074.12 1460.34 H1083.02 Q1084.22 1460.34 1084.22 1461.54 V1561.2 Z" fill="#FFA7AB"/>
<path d="M1075.02 1467.74L1081.92 1461.94M1075.02 1475.74L1081.92 1469.94M1075.02 1483.74L1081.92 1477.94M1075.02 1491.74L1081.92 1485.94M1075.02 1499.74L1081.92 1493.94M1075.02 1507.74L1081.92 1501.94M1075.02 1515.74L1081.92 1509.94M1075.02 1523.74L1081.92 1517.94M1075.02 1531.74L1081.92 1525.94M1075.02 1539.74L1081.92 1533.94M1075.02 1547.74L1081.92 1541.94M1075.02 1555.74L1081.92 1549.94M1078.04 1561.2L1081.92 1557.94" stroke="#0d0d0d" stroke-width="1.7" fill="none"/>
<path d="M1088.22 1561.2 V1559.2 Q1088.22 1558 1089.42 1558 H1098.32 Q1099.52 1558 1099.52 1559.2 V1561.2 Z" fill="#9DC0E6"/>
<path d="M1095.32 1561.2L1097.22 1559.6" stroke="#0d0d0d" stroke-width="1.7" fill="none"/>
<path d="M1078.57 1460.84 V1449.13 M1075.67 1449.43 H1081.47" stroke="#151515" stroke-width="1.7" fill="none"/>
<path d="M1093.87 1558.5 V1556.4 M1090.97 1556.7 H1096.77" stroke="#151515" stroke-width="1.7" fill="none"/>
<path d="M1113.35 1561.2 V1521.09 Q1113.35 1519.89 1114.55 1519.89 H1123.45 Q1124.65 1519.89 1124.65 1521.09 V1561.2 Z" fill="#FFA7AB"/>
<path d="M1115.45 1527.29L1122.35 1521.5M1115.45 1535.29L1122.35 1529.5M1115.45 1543.29L1122.35 1537.5M1115.45 1551.29L1122.35 1545.5M1115.45 1559.29L1122.35 1553.5" stroke="#0d0d0d" stroke-width="1.7" fill="none"/>
<path d="M1128.65 1561.2 V1559.2 Q1128.65 1558 1129.85 1558 H1138.75 Q1139.95 1558 1139.95 1559.2 V1561.2 Z" fill="#9DC0E6"/>
<path d="M1135.75 1561.2L1137.65 1559.6" stroke="#0d0d0d" stroke-width="1.7" fill="none"/>
<path d="M1119 1520.39 V1512.85 M1116.1 1513.15 H1121.9" stroke="#151515" stroke-width="1.7" fill="none"/>
<path d="M1134.3 1558.5 V1556.4 M1131.4 1556.7 H1137.2" stroke="#151515" stroke-width="1.7" fill="none"/>
<path d="M1153.78 1561.2 V1268.78 Q1153.78 1267.58 1154.98 1267.58 H1163.88 Q1165.08 1267.58 1165.08 1268.78 V1561.2 Z" fill="#FFA7AB"/>
<path d="M1169.08 1561.2 V1559.2 Q1169.08 1558 1170.28 1558 H1179.18 Q1180.38 1558 1180.38 1559.2 V1561.2 Z" fill="#9DC0E6"/>
<path d="M1159.43 1268.08 V1253.81 M1156.53 1254.11 H1162.33" stroke="#151515" stroke-width="1.7" fill="none"/>
<path d="M1174.73 1558.5 V1555.76 M1171.83 1556.06 H1177.63" stroke="#151515" stroke-width="1.7" fill="none"/>
<path d="M1194.21 1561.2 V1311.68 Q1194.21 1310.48 1195.41 1310.48 H1204.31 Q1205.51 1310.48 1205.51 1311.68 V1561.2 Z" fill="#FFA7AB"/>
<path d="M1209.51 1561.2 V1558.24 Q1209.51 1557.04 1210.71 1557.04 H1219.61 Q1220.81 1557.04 1220.81 1558.24 V1561.2 Z" fill="#9DC0E6"/>
<path d="M1199.86 1310.98 V1301.52 M1196.96 1301.82 H1202.76" stroke="#151515" stroke-width="1.7" fill="none"/>
<path d="M1215.16 1557.54 V1554.8 M1212.26 1555.1 H1218.06" stroke="#151515" stroke-width="1.7" fill="none"/>
<path d="M1234.64 1561.2 V1265.25 Q1234.64 1264.05 1235.84 1264.05 H1244.74 Q1245.94 1264.05 1245.94 1265.25 V1561.2 Z" fill="#FFA7AB"/>
<path d="M1249.94 1561.2 V1558.56 Q1249.94 1557.36 1251.14 1557.36 H1260.04 Q1261.24 1557.36 1261.24 1558.56 V1561.2 Z" fill="#9DC0E6"/>
<path d="M1240.29 1264.55 V1253.49 M1237.39 1253.79 H1243.19" stroke="#151515" stroke-width="1.7" fill="none"/>
<path d="M1255.59 1557.86 V1554.48 M1252.69 1554.78 H1258.49" stroke="#151515" stroke-width="1.7" fill="none"/>
<path d="M1275.07 1561.2 V1276.14 Q1275.07 1274.94 1276.27 1274.94 H1285.17 Q1286.37 1274.94 1286.37 1276.14 V1561.2 Z" fill="#FFA7AB"/>
<path d="M1290.37 1561.2 V1558.56 Q1290.37 1557.36 1291.57 1557.36 H1300.47 Q1301.67 1557.36 1301.67 1558.56 V1561.2 Z" fill="#9DC0E6"/>
<path d="M1280.72 1275.44 V1262.45 M1277.82 1262.75 H1283.62" stroke="#151515" stroke-width="1.7" fill="none"/>
<path d="M1296.02 1557.86 V1554.8 M1293.12 1555.1 H1298.92" stroke="#151515" stroke-width="1.7" fill="none"/>
<path d="M1315.5 1561.2 V1296.95 Q1315.5 1295.75 1316.7 1295.75 H1325.6 Q1326.8 1295.75 1326.8 1296.95 V1561.2 Z" fill="#FFA7AB"/>
<path d="M1330.8 1561.2 V1559.84 Q1330.8 1558.64 1332 1558.64 H1340.9 Q1342.1 1558.64 1342.1 1559.84 V1561.2 Z" fill="#9DC0E6"/>
<path d="M1321.15 1296.25 V1282.63 M1318.25 1282.93 H1324.05" stroke="#151515" stroke-width="1.7" fill="none"/>
<path d="M1336.45 1559.14 V1557.04 M1333.55 1557.34 H1339.35" stroke="#151515" stroke-width="1.7" fill="none"/>
<path d="M1355.93 1561.2 V1290.55 Q1355.93 1289.35 1357.13 1289.35 H1366.03 Q1367.23 1289.35 1367.23 1290.55 V1561.2 Z" fill="#FFA7AB"/>
<path d="M1371.23 1561.2 V1558.56 Q1371.23 1557.36 1372.43 1557.36 H1381.33 Q1382.53 1557.36 1382.53 1558.56 V1561.2 Z" fill="#9DC0E6"/>
<path d="M1361.58 1289.85 V1273.98 M1358.68 1274.28 H1364.48" stroke="#151515" stroke-width="1.7" fill="none"/>
<path d="M1376.88 1557.86 V1554.8 M1373.98 1555.1 H1379.78" stroke="#151515" stroke-width="1.7" fill="none"/>
<path d="M906.8 1240.2 V1562.7 M892.8 1561.2 H1388" stroke="#111" stroke-width="1.6" fill="none"/>
<text x="888.9" y="1569.3" font-size="23.3" text-anchor="end">0</text>
<line x1="892.8" y1="1497.16" x2="906.8" y2="1497.16" stroke="#111" stroke-width="1.6"/>
<text x="888.9" y="1505.26" font-size="23.3" text-anchor="end">20</text>
<line x1="892.8" y1="1433.12" x2="906.8" y2="1433.12" stroke="#111" stroke-width="1.6"/>
<text x="888.9" y="1441.22" font-size="23.3" text-anchor="end">40</text>
<line x1="892.8" y1="1369.08" x2="906.8" y2="1369.08" stroke="#111" stroke-width="1.6"/>
<text x="888.9" y="1377.18" font-size="23.3" text-anchor="end">60</text>
<line x1="892.8" y1="1305.04" x2="906.8" y2="1305.04" stroke="#111" stroke-width="1.6"/>
<text x="888.9" y="1313.14" font-size="23.3" text-anchor="end">80</text>
<line x1="892.8" y1="1241" x2="906.8" y2="1241" stroke="#111" stroke-width="1.6"/>
<text x="888.9" y="1249.1" font-size="23.3" text-anchor="end">100</text>
<line x1="923.9" y1="1561.2" x2="923.9" y2="1575.4" stroke="#111" stroke-width="1.6"/>
<text x="935.4" y="1590.2" font-size="22" text-anchor="end" transform="rotate(-50 935.4 1590.2)">Female MEFs</text>
<line x1="964.33" y1="1561.2" x2="964.33" y2="1575.4" stroke="#111" stroke-width="1.6"/>
<text x="975.83" y="1590.2" font-size="22" text-anchor="end" transform="rotate(-50 975.83 1590.2)">F FBS1</text>
<line x1="1004.76" y1="1561.2" x2="1004.76" y2="1575.4" stroke="#111" stroke-width="1.6"/>
<text x="1017.96" y="1590.71" font-size="22" text-anchor="end" transform="rotate(-50 1017.96 1590.71)">F FBS2</text>
<line x1="1045.19" y1="1561.2" x2="1045.19" y2="1575.4" stroke="#111" stroke-width="1.6"/>
<text x="1057.69" y="1590.5" font-size="22" text-anchor="end" transform="rotate(-50 1057.69 1590.5)">F FBS3</text>
<line x1="1085.62" y1="1561.2" x2="1085.62" y2="1575.4" stroke="#111" stroke-width="1.6"/>
<text x="1097.82" y="1590.41" font-size="22" text-anchor="end" transform="rotate(-50 1097.82 1590.41)">FFBS4</text>
<line x1="1126.05" y1="1561.2" x2="1126.05" y2="1575.4" stroke="#111" stroke-width="1.6"/>
<text x="1138.25" y="1590.41" font-size="22" text-anchor="end" transform="rotate(-50 1138.25 1590.41)">F FBS5</text>
<line x1="1166.48" y1="1561.2" x2="1166.48" y2="1575.4" stroke="#111" stroke-width="1.6"/>
<text x="1181.38" y="1591.22" font-size="22" text-anchor="end" transform="rotate(-50 1181.38 1591.22)">Male MEFs</text>
<line x1="1206.91" y1="1561.2" x2="1206.91" y2="1575.4" stroke="#111" stroke-width="1.6"/>
<text x="1220.81" y="1590.92" font-size="22" text-anchor="end" transform="rotate(-50 1220.81 1590.92)">M FBS1</text>
<line x1="1247.34" y1="1561.2" x2="1247.34" y2="1575.4" stroke="#111" stroke-width="1.6"/>
<text x="1262.24" y="1591.22" font-size="22" text-anchor="end" transform="rotate(-50 1262.24 1591.22)">M FBS2</text>
<line x1="1287.77" y1="1561.2" x2="1287.77" y2="1575.4" stroke="#111" stroke-width="1.6"/>
<text x="1301.67" y="1590.92" font-size="22" text-anchor="end" transform="rotate(-50 1301.67 1590.92)">M FBS3</text>
<line x1="1328.2" y1="1561.2" x2="1328.2" y2="1575.4" stroke="#111" stroke-width="1.6"/>
<text x="1340.7" y="1590.5" font-size="22" text-anchor="end" transform="rotate(-50 1340.7 1590.5)">M FBS4</text>
<line x1="1368.63" y1="1561.2" x2="1368.63" y2="1575.4" stroke="#111" stroke-width="1.6"/>
<text x="1385.63" y="1591.85" font-size="22" text-anchor="end" transform="rotate(-50 1385.63 1591.85)">M FBS5</text>
<text x="1156.6" y="1206.9" font-size="31" text-anchor="middle">PWS/AS</text>
<text x="831.5" y="1405.5" font-size="26.2" text-anchor="middle" transform="rotate(-90 831.5 1405.5)">% Methylation</text>
<line x1="140.4" y1="1027.4" x2="387.5" y2="1027.4" stroke="#444" stroke-width="1.2"/>
<line x1="404.5" y1="1027.4" x2="518.5" y2="1027.4" stroke="#444" stroke-width="1.2"/>
<line x1="389.6" y1="1035.4" x2="396" y2="1020.4" stroke="#111" stroke-width="1.4"/>
<line x1="395.6" y1="1035.4" x2="402" y2="1020.4" stroke="#111" stroke-width="1.4"/>
<rect x="149" y="1014" width="82.3" height="28.7" fill="#ABA7A6"/>
<ellipse cx="264" cy="1028.6" rx="19.6" ry="15.6" fill="#000"/>
<text x="264" y="1034.18" font-size="15.5" text-anchor="middle" fill="#fff">ICR</text>
<rect x="297.9" y="1014" width="82.3" height="28.7" fill="#ABA7A6"/>
<rect x="422" y="1015.4" width="79.4" height="26.3" fill="#EE5F24"/>
<text x="530.7" y="1033.8" font-size="20">Mat</text>
<path d="M422 1050.9 H472.1" stroke="#EE5F24" stroke-width="2.8" fill="none"/>
<path d="M482.5 1050.9 L469.5 1044.4 L469.5 1057.4 Z" fill="#EE5F24"/>
<text x="426" y="1077.3" font-size="20" font-style="italic">Zim2</text>
<text x="163.2" y="1068.4" font-size="20" font-style="italic">Usp29</text>
<text x="303.3" y="1068.4" font-size="20" font-style="italic">Peg3</text>
<path d="M231 1083.2 H180.4" stroke="#EE5F24" stroke-width="2.8" fill="none"/>
<path d="M170 1083.2 L183 1076.7 L183 1089.7 Z" fill="#EE5F24"/>
<path d="M298.9 1083.2 H350" stroke="#EE5F24" stroke-width="2.8" fill="none"/>
<path d="M360.4 1083.2 L347.4 1076.7 L347.4 1089.7 Z" fill="#EE5F24"/>
<line x1="140.4" y1="1104.6" x2="389" y2="1104.6" stroke="#444" stroke-width="1.2"/>
<line x1="406" y1="1104.6" x2="518.5" y2="1104.6" stroke="#444" stroke-width="1.2"/>
<line x1="391.1" y1="1112.6" x2="397.5" y2="1097.6" stroke="#111" stroke-width="1.4"/>
<line x1="397.1" y1="1112.6" x2="403.5" y2="1097.6" stroke="#111" stroke-width="1.4"/>
<rect x="150.3" y="1091.4" width="80" height="26.4" fill="#EE5F24"/>
<ellipse cx="264" cy="1104.4" rx="18.2" ry="13.5" fill="#fff" stroke="#000" stroke-width="1.5"/>
<text x="264" y="1109.98" font-size="15.5" text-anchor="middle">ICR</text>
<rect x="298.9" y="1091.4" width="79.7" height="26.4" fill="#EE5F24"/>
<rect x="419.7" y="1090.5" width="82.3" height="28.6" fill="#ABA7A6"/>
<text x="530.7" y="1111.9" font-size="20">Pat</text>
<line x1="907.3" y1="1027.9" x2="1153.5" y2="1027.9" stroke="#444" stroke-width="1.2"/>
<line x1="1171.5" y1="1027.9" x2="1285.8" y2="1027.9" stroke="#444" stroke-width="1.2"/>
<line x1="1156.1" y1="1035.9" x2="1162.5" y2="1020.9" stroke="#111" stroke-width="1.4"/>
<line x1="1162.1" y1="1035.9" x2="1168.5" y2="1020.9" stroke="#111" stroke-width="1.4"/>
<rect x="916.2" y="1014.7" width="82.4" height="28.7" fill="#ABA7A6"/>
<ellipse cx="1031.5" cy="1028.7" rx="18.1" ry="13" fill="#fff" stroke="#000" stroke-width="1.5"/>
<text x="1031.5" y="1034.28" font-size="15.5" text-anchor="middle">ICR</text>
<rect x="1066.8" y="1015.7" width="79.3" height="26" fill="#EE5F24"/>
<rect x="1188.6" y="1015.7" width="80.1" height="26" fill="#ABA7A6"/>
<text x="1298.3" y="1034.5" font-size="20">Mat</text>
<path d="M1066.8 1050 H1116.6" stroke="#EE5F24" stroke-width="2.8" fill="none"/>
<path d="M1127 1050 L1114 1043.5 L1114 1056.5 Z" fill="#EE5F24"/>
<text x="1073.2" y="1077.3" font-size="20" font-style="italic">Meg3</text>
<text x="942.8" y="1070" font-size="20" font-style="italic">Dlk1</text>
<text x="1190.2" y="1068.4" font-size="20" font-style="italic">Dio3</text>
<path d="M937 1082.4 H987.6" stroke="#EE5F24" stroke-width="2.8" fill="none"/>
<path d="M998 1082.4 L985 1075.9 L985 1088.9 Z" fill="#EE5F24"/>
<path d="M1188.6 1083.2 H1239.6" stroke="#EE5F24" stroke-width="2.8" fill="none"/>
<path d="M1250 1083.2 L1237 1076.7 L1237 1089.7 Z" fill="#EE5F24"/>
<line x1="907.3" y1="1104.6" x2="1155.5" y2="1104.6" stroke="#444" stroke-width="1.2"/>
<line x1="1173.5" y1="1104.6" x2="1285.8" y2="1104.6" stroke="#444" stroke-width="1.2"/>
<line x1="1158.1" y1="1112.6" x2="1164.5" y2="1097.6" stroke="#111" stroke-width="1.4"/>
<line x1="1164.1" y1="1112.6" x2="1170.5" y2="1097.6" stroke="#111" stroke-width="1.4"/>
<rect x="917.2" y="1092.1" width="80.1" height="25.7" fill="#EE5F24"/>
<ellipse cx="1031.5" cy="1104.6" rx="19.8" ry="15.2" fill="#000"/>
<text x="1031.5" y="1110.18" font-size="15.5" text-anchor="middle" fill="#fff">ICR</text>
<rect x="1066.1" y="1092.1" width="80" height="25.7" fill="#ABA7A6"/>
<rect x="1188" y="1092.1" width="79.7" height="25.7" fill="#EE5F24"/>
<text x="1298.3" y="1111.9" font-size="20">Pat</text>
<line x1="127.3" y1="1721.5" x2="502.5" y2="1721.5" stroke="#444" stroke-width="1.2"/>
<rect x="153.7" y="1707" width="82" height="29" fill="#ABA7A6"/>
<rect x="250.5" y="1708" width="79.1" height="29" fill="#ABA7A6"/>
<ellipse cx="362.5" cy="1721.8" rx="18.2" ry="13.6" fill="#fff" stroke="#000" stroke-width="1.5"/>
<text x="362.5" y="1727.38" font-size="15.5" text-anchor="middle">ICR</text>
<rect x="399.1" y="1707.3" width="76.4" height="26.1" fill="#EE5F24"/>
<text x="513.4" y="1727.8" font-size="20">Mat</text>
<path d="M399 1742.6 H447.6" stroke="#EE5F24" stroke-width="2.8" fill="none"/>
<path d="M458 1742.6 L445 1736.1 L445 1749.1 Z" fill="#EE5F24"/>
<text x="402.8" y="1770.6" font-size="20" font-style="italic">H19</text>
<text x="164.7" y="1760.7" font-size="20" font-style="italic">Ins</text>
<text x="259.5" y="1760.7" font-size="20" font-style="italic">Igf2</text>
<path d="M155 1776.2 H202.6" stroke="#EE5F24" stroke-width="2.8" fill="none"/>
<path d="M213 1776.2 L200 1769.7 L200 1782.7 Z" fill="#EE5F24"/>
<path d="M250.9 1776.2 H298.1" stroke="#EE5F24" stroke-width="2.8" fill="none"/>
<path d="M308.5 1776.2 L295.5 1769.7 L295.5 1782.7 Z" fill="#EE5F24"/>
<line x1="128.5" y1="1796.6" x2="503.5" y2="1796.6" stroke="#444" stroke-width="1.2"/>
<rect x="154.7" y="1784" width="79.7" height="25.8" fill="#EE5F24"/>
<rect x="251.5" y="1784" width="76.8" height="25.8" fill="#EE5F24"/>
<ellipse cx="363.5" cy="1797.3" rx="19.4" ry="16" fill="#000"/>
<text x="363.5" y="1802.88" font-size="15.5" text-anchor="middle" fill="#fff">ICR</text>
<rect x="398" y="1783" width="79" height="29.4" fill="#ABA7A6"/>
<text x="513.4" y="1804.5" font-size="20">Pat</text>
<line x1="921.8" y1="1721.2" x2="1275.3" y2="1721.2" stroke="#444" stroke-width="1.2"/>
<ellipse cx="963" cy="1721.8" rx="19.8" ry="15.2" fill="#000"/>
<text x="963" y="1727.38" font-size="15.5" text-anchor="middle" fill="#fff">ICR</text>
<rect x="996.9" y="1707" width="78.4" height="28" fill="#ABA7A6"/>
<rect x="1088.5" y="1707.7" width="74.8" height="28.3" fill="#ABA7A6"/>
<rect x="1178.1" y="1707" width="71.8" height="25.7" fill="#EE5F24"/>
<text x="1285.8" y="1726.8" font-size="20">Mat</text>
<path d="M1232.4 1741 H1190.1" stroke="#EE5F24" stroke-width="2.8" fill="none"/>
<path d="M1179.7 1741 L1192.7 1734.5 L1192.7 1747.5 Z" fill="#EE5F24"/>
<text x="1182.2" y="1770" font-size="20" font-style="italic">Ube3a</text>
<text x="1010.8" y="1761.7" font-size="20" font-style="italic">Snrpn</text>
<text x="1084.6" y="1761.7" font-size="20" font-style="italic">Snord116</text>
<path d="M998.6 1777.8 H1043.2" stroke="#EE5F24" stroke-width="2.8" fill="none"/>
<path d="M1053.6 1777.8 L1040.6 1771.3 L1040.6 1784.3 Z" fill="#EE5F24"/>
<path d="M1089.5 1777.8 H1134.1" stroke="#EE5F24" stroke-width="2.8" fill="none"/>
<path d="M1144.5 1777.8 L1131.5 1771.3 L1131.5 1784.3 Z" fill="#EE5F24"/>
<line x1="922.8" y1="1797.6" x2="1276.3" y2="1797.6" stroke="#444" stroke-width="1.2"/>
<ellipse cx="963" cy="1797.6" rx="17.6" ry="13" fill="#fff" stroke="#000" stroke-width="1.5"/>
<text x="963" y="1803.18" font-size="15.5" text-anchor="middle">ICR</text>
<rect x="998.6" y="1785.4" width="74.7" height="25.4" fill="#EE5F24"/>
<rect x="1090.1" y="1785.4" width="72.2" height="25.4" fill="#EE5F24"/>
<rect x="1177.1" y="1784.7" width="74.4" height="28" fill="#ABA7A6"/>
<text x="1285.8" y="1804.5" font-size="20">Pat</text>
<rect x="1429.3" y="1374.9" width="36.2" height="17.7" fill="#FFA7AB"/>
<clipPath id="lh1"><rect x="1429.3" y="1374.9" width="36.2" height="17.7"/></clipPath>
<path d="M1417.8 1394.6 L1439.5 1372.9M1426.3 1394.6 L1448 1372.9M1434.8 1394.6 L1456.5 1372.9M1443.3 1394.6 L1465 1372.9M1451.8 1394.6 L1473.5 1372.9M1460.3 1394.6 L1482 1372.9" stroke="#111" stroke-width="1.6" fill="none" clip-path="url(#lh1)"/>
<text x="1479.3" y="1389.3" font-size="21">Mat Female</text>
<rect x="1429.3" y="1407.9" width="36.2" height="17.5" fill="#9DC0E6"/>
<clipPath id="lh2"><rect x="1429.3" y="1407.9" width="36.2" height="17.5"/></clipPath>
<path d="M1417.8 1427.4 L1439.3 1405.9M1426.3 1427.4 L1447.8 1405.9M1434.8 1427.4 L1456.3 1405.9M1443.3 1427.4 L1464.8 1405.9M1451.8 1427.4 L1473.3 1405.9M1460.3 1427.4 L1481.8 1405.9" stroke="#111" stroke-width="1.6" fill="none" clip-path="url(#lh2)"/>
<text x="1479.3" y="1420.8" font-size="21">Pat Female</text>
<rect x="1429.9" y="1445" width="35.6" height="17.5" fill="#FFA7AB"/>
<text x="1480.6" y="1459.2" font-size="21">Mat Male</text>
<rect x="1429.9" y="1477.8" width="35.6" height="17.7" fill="#9DC0E6"/>
<text x="1480.6" y="1492.2" font-size="21">Pat Male</text>
<text transform="translate(-1.2 1905.8) scale(1 1.15)" font-size="32">C</text>
<line x1="20.6" y1="2018.6" x2="159.4" y2="2018.6" stroke="#444" stroke-width="1.2"/>
<ellipse cx="45.3" cy="2019.2" rx="16.8" ry="13.7" fill="#fff" stroke="#000" stroke-width="1.5"/>
<text x="45.3" y="2024.78" font-size="15.5" text-anchor="middle">ICR</text>
<rect x="73.3" y="2006" width="65.8" height="24.5" fill="#FFA7AB"/>
<text x="106.2" y="2027.7" font-size="24.5" text-anchor="middle" font-weight="bold" fill="#2E4FA5">C</text>
<text x="168.4" y="2023.9" font-size="18.5">Mat</text>
<path d="M75.1 2036.6 H114" stroke="#FFA7AB" stroke-width="3.2" fill="none"/>
<path d="M122.8 2036.6 L111.8 2031 L111.8 2042.2 Z" fill="#FFA7AB"/>
<text x="77.5" y="2063.1" font-size="19.6" font-style="italic">H19</text>
<line x1="20.6" y1="2084.5" x2="160.2" y2="2084.5" stroke="#444" stroke-width="1.2"/>
<ellipse cx="46.1" cy="2085.3" rx="17.1" ry="13.8" fill="#000"/>
<text x="46.1" y="2090.88" font-size="15.5" text-anchor="middle" fill="#fff">ICR</text>
<rect x="73.8" y="2074" width="65.3" height="24.2" fill="#ABA7A6"/>
<text x="106.4" y="2096.1" font-size="24.5" text-anchor="middle" font-weight="bold" fill="#DE3524">T</text>
<text x="168.9" y="2090.5" font-size="18.5">Pat</text>
<line x1="837.1" y1="2017.4" x2="982.1" y2="2017.4" stroke="#444" stroke-width="1.2"/>
<ellipse cx="872.7" cy="2017.8" rx="16.8" ry="13.8" fill="#000"/>
<text x="872.7" y="2023.38" font-size="15.5" text-anchor="middle" fill="#fff">ICR</text>
<rect x="902.1" y="2004.9" width="68.1" height="24.6" fill="#ABA7A6"/>
<text x="935.8" y="2026" font-size="24.5" text-anchor="middle" font-weight="bold" fill="#2E4FA5">C</text>
<text x="990.6" y="2022" font-size="18.5">Mat</text>
<text x="910.4" y="2056.5" font-size="19.2" font-style="italic">Snrpn</text>
<path d="M903.8 2071 H942.8" stroke="#9DC0E6" stroke-width="3.2" fill="none"/>
<path d="M951.2 2071 L940.7 2065.6 L940.7 2076.4 Z" fill="#9DC0E6"/>
<line x1="837.9" y1="2087.5" x2="982.6" y2="2087.5" stroke="#444" stroke-width="1.2"/>
<ellipse cx="873.5" cy="2087.5" rx="15.8" ry="12.3" fill="#fff" stroke="#000" stroke-width="1.5"/>
<text x="873.5" y="2093.08" font-size="15.5" text-anchor="middle">ICR</text>
<rect x="902.1" y="2075.9" width="67.9" height="24.8" fill="#9DC0E6"/>
<text x="936" y="2096.7" font-size="24.5" text-anchor="middle" font-weight="bold" fill="#DE3524">T</text>
<text x="991.5" y="2094" font-size="18.5">Pat</text>
<line x1="216.2" y1="2156.6" x2="357.8" y2="2156.6" stroke="#ebebeb" stroke-width="1.8"/>
<path d="M216.2 2121.3L216.9 2125.2L217.5 2129.3L218.2 2133.3L218.8 2137.0L219.5 2140.1L220.2 2142.5L220.8 2144.8L221.5 2147.0L222.1 2148.8L222.8 2150.2L223.5 2150.9L224.1 2151.0L224.8 2151.0L225.4 2151.0L226.1 2150.9L226.7 2150.9L227.4 2150.8L228.1 2150.8L228.7 2150.7L229.4 2150.7L230.0 2150.6L230.7 2150.6L231.4 2150.5L232.0 2150.5L232.7 2150.4L233.3 2150.4L234.0 2150.4L234.7 2150.3L235.3 2150.3L236.0 2150.3L236.6 2150.4L237.3 2150.6L237.9 2150.8L238.6 2151.0L239.3 2151.3L239.9 2151.5L240.6 2151.9L241.2 2152.2L241.9 2152.5L242.6 2152.8L243.2 2153.0L243.9 2153.2L244.5 2153.4L245.2 2153.6L245.8 2153.6L246.5 2153.6L247.2 2153.6L247.8 2153.5L248.5 2153.4L249.1 2153.3L249.8 2153.1L250.5 2153.0L251.1 2152.8L251.8 2152.6L252.4 2152.4L253.1 2152.2L253.8 2152.0L254.4 2151.8L255.1 2151.6L255.7 2151.5L256.4 2151.3L257.0 2151.2L257.7 2151.1L258.4 2151.0L259.0 2151.0L259.7 2151.0L260.3 2151.1L261.0 2151.3L261.7 2151.6L262.3 2152.0L263.0 2152.4L263.6 2152.8L264.3 2153.2L265.0 2153.6L265.6 2154.0L266.3 2154.4L266.9 2154.6L267.6 2154.8L268.2 2154.9L268.9 2154.9L269.6 2154.9L270.2 2154.9L270.9 2154.9L271.5 2154.9L272.2 2154.9L272.9 2154.9L273.5 2154.9L274.2 2154.9L274.8 2154.9L275.5 2154.9L276.2 2154.9L276.8 2154.9L277.5 2154.9L278.1 2154.9L278.8 2154.9L279.4 2154.9L280.1 2154.9L280.8 2154.9L281.4 2154.9L282.1 2154.9L282.7 2154.9L283.4 2154.9L284.1 2154.9L284.7 2154.9L285.4 2154.8L286.0 2154.5L286.7 2154.2L287.4 2153.8L288.0 2153.3L288.7 2152.9L289.3 2152.4L290.0 2152.0L290.6 2151.6L291.3 2151.3L292.0 2151.1L292.6 2150.9L293.3 2150.8L293.9 2150.7L294.6 2150.5L295.3 2150.4L295.9 2150.3L296.6 2150.2L297.2 2150.1L297.9 2150.0L298.6 2149.9L299.2 2149.8L299.9 2149.7L300.5 2149.6L301.2 2149.5L301.8 2149.4L302.5 2149.4L303.2 2149.3L303.8 2149.3L304.5 2149.2L305.1 2149.2L305.8 2149.1L306.5 2149.1L307.1 2149.1L307.8 2149.0L308.4 2149.0L309.1 2149.0L309.7 2149.0L310.4 2149.0L311.1 2149.0L311.7 2149.0L312.4 2149.0L313.0 2149.0L313.7 2149.0L314.4 2149.0L315.0 2149.0L315.7 2149.0L316.3 2149.0L317.0 2149.0L317.7 2149.0L318.3 2149.0L319.0 2149.0L319.6 2149.0L320.3 2149.0L320.9 2149.0L321.6 2149.0L322.3 2149.0L322.9 2149.0L323.6 2149.0L324.2 2149.0L324.9 2149.0L325.6 2149.0L326.2 2149.0L326.9 2149.0L327.5 2149.0L328.2 2149.0L328.9 2149.0L329.5 2149.0L330.2 2149.0L330.8 2149.0L331.5 2149.0L332.1 2149.0L332.8 2149.1L333.5 2149.3L334.1 2149.5L334.8 2149.8L335.4 2150.1L336.1 2150.4L336.8 2150.8L337.4 2151.2L338.1 2151.5L338.7 2151.9L339.4 2152.3L340.1 2152.6L340.7 2152.9L341.4 2153.2L342.0 2153.4L342.7 2153.5L343.3 2153.6L344.0 2153.6L344.7 2153.6L345.3 2153.6L346.0 2153.6L346.6 2153.6L347.3 2153.6L348.0 2153.6L348.6 2153.6L349.3 2153.6L349.9 2153.6L350.6 2153.6L351.3 2153.6L351.9 2153.6L352.6 2153.6L353.2 2153.6L353.9 2153.6L354.5 2153.6L355.2 2153.6L355.9 2153.6L356.5 2153.6L357.2 2153.6L357.8 2153.6" fill="none" stroke="#ea4a36" stroke-width="0.85" stroke-linejoin="round"/>
<path d="M216.2 2153.6L216.9 2153.6L217.5 2153.5L218.2 2153.5L218.8 2153.5L219.5 2153.4L220.2 2153.4L220.8 2153.4L221.5 2153.3L222.1 2153.3L222.8 2153.3L223.5 2153.2L224.1 2153.2L224.8 2153.1L225.4 2153.1L226.1 2153.0L226.7 2152.9L227.4 2152.8L228.1 2152.5L228.7 2152.3L229.4 2152.0L230.0 2151.7L230.7 2151.3L231.4 2151.0L232.0 2150.7L232.7 2150.4L233.3 2150.1L234.0 2149.9L234.7 2149.8L235.3 2149.7L236.0 2149.7L236.6 2149.7L237.3 2149.8L237.9 2150.0L238.6 2150.1L239.3 2150.3L239.9 2150.5L240.6 2150.7L241.2 2151.0L241.9 2151.2L242.6 2151.5L243.2 2151.7L243.9 2151.9L244.5 2152.2L245.2 2152.4L245.8 2152.6L246.5 2152.7L247.2 2152.8L247.8 2152.9L248.5 2153.0L249.1 2153.0L249.8 2152.9L250.5 2152.9L251.1 2152.8L251.8 2152.7L252.4 2152.5L253.1 2152.4L253.8 2152.2L254.4 2152.1L255.1 2151.9L255.7 2151.7L256.4 2151.5L257.0 2151.4L257.7 2151.2L258.4 2151.0L259.0 2150.9L259.7 2150.7L260.3 2150.6L261.0 2150.5L261.7 2150.4L262.3 2150.4L263.0 2150.3L263.6 2150.3L264.3 2150.4L265.0 2150.4L265.6 2150.5L266.3 2150.7L266.9 2150.8L267.6 2150.9L268.2 2151.1L268.9 2151.3L269.6 2151.4L270.2 2151.6L270.9 2151.7L271.5 2151.9L272.2 2152.0L272.9 2152.1L273.5 2152.2L274.2 2152.3L274.8 2152.3L275.5 2152.3L276.2 2152.3L276.8 2152.3L277.5 2152.3L278.1 2152.0L278.8 2150.9L279.4 2149.5L280.1 2147.8L280.8 2145.8L281.4 2143.4L282.1 2140.6L282.7 2137.4L283.4 2133.7L284.1 2129.5L284.7 2124.8L285.4 2119.6L286.0 2113.9L286.7 2107.8L287.4 2101.2L288.0 2094.3L288.7 2087.2L289.3 2079.9L290.0 2072.6L290.6 2065.4L291.3 2058.4L292.0 2051.9L292.6 2045.8L293.3 2040.5L293.9 2036.0L294.6 2032.4L295.3 2029.9L295.9 2028.4L296.4 2028.1L296.6 2028.1L297.2 2028.9L297.9 2030.8L298.6 2033.8L299.2 2037.7L299.9 2042.6L300.5 2048.2L301.2 2054.4L301.8 2061.1L302.5 2068.2L303.2 2075.5L303.8 2082.8L304.5 2090.0L305.1 2097.1L305.8 2103.9L306.5 2110.3L307.1 2116.2L307.8 2121.7L308.4 2126.8L309.1 2131.3L309.7 2135.3L310.4 2138.8L311.1 2141.8L311.7 2144.4L312.4 2146.7L313.0 2148.5L313.7 2150.1L314.4 2151.4L315.0 2152.3L315.7 2152.3L316.3 2152.3L317.0 2152.3L317.7 2152.3L318.3 2152.3L319.0 2152.3L319.6 2152.2L320.3 2152.1L320.9 2151.9L321.6 2151.7L322.3 2151.5L322.9 2151.3L323.6 2151.1L324.2 2150.9L324.9 2150.7L325.6 2150.5L326.2 2150.4L326.9 2150.3L327.5 2150.2L328.2 2150.1L328.9 2150.0L329.5 2150.0L330.2 2149.9L330.8 2149.8L331.5 2149.8L332.1 2149.7L332.8 2149.7L333.5 2149.7L334.1 2149.7L334.8 2149.7L335.4 2149.8L336.1 2150.1L336.8 2150.4L337.4 2150.9L338.1 2151.3L338.7 2151.8L339.4 2152.4L340.1 2152.9L340.7 2153.4L341.4 2153.8L342.0 2154.3L342.7 2154.6L343.3 2154.8L344.0 2154.9L344.7 2154.9L345.3 2154.9L346.0 2154.9L346.6 2154.9L347.3 2154.9L348.0 2153.8L348.6 2152.3L349.3 2150.6L349.9 2148.5L350.6 2146.1L351.3 2143.2L351.9 2140.0L352.6 2136.2L353.2 2132.0L353.9 2127.3L354.5 2122.0L355.2 2116.2L355.9 2109.9L356.5 2103.1L357.2 2095.8L357.8 2088.1" fill="none" stroke="#3a58c4" stroke-width="1.15" stroke-linejoin="round"/>
<path d="M216.2 2143.1L216.9 2143.2L217.5 2143.4L218.2 2143.5L218.8 2143.6L219.5 2143.8L220.2 2144.0L220.8 2144.1L221.5 2144.2L222.1 2144.4L222.8 2144.5L223.5 2144.7L224.1 2144.8L224.8 2144.9L225.4 2145.0L226.1 2145.0L226.7 2145.1L227.4 2145.1L228.1 2145.2L228.7 2145.2L229.4 2145.3L230.0 2145.3L230.7 2145.4L231.4 2145.4L232.0 2145.4L232.7 2145.4L233.3 2145.5L234.0 2145.5L234.7 2145.5L235.3 2145.5L236.0 2145.6L236.6 2145.6L237.3 2145.6L237.9 2145.6L238.6 2145.7L239.3 2145.7L239.9 2145.7L240.6 2145.8L241.2 2145.8L241.9 2145.8L242.6 2145.9L243.2 2145.9L243.9 2145.9L244.5 2146.0L245.2 2146.0L245.8 2146.1L246.5 2146.2L247.2 2146.2L247.8 2146.4L248.5 2146.5L249.1 2146.7L249.8 2146.8L250.5 2147.0L251.1 2147.2L251.8 2147.4L252.4 2147.6L253.1 2147.8L253.8 2147.9L254.4 2148.1L255.1 2148.2L255.7 2148.3L256.4 2148.3L257.0 2148.4L257.7 2148.4L258.4 2148.4L259.0 2148.5L259.7 2148.1L260.3 2146.8L261.0 2145.4L261.7 2143.6L262.3 2141.5L263.0 2139.1L263.6 2136.3L264.3 2133.0L265.0 2129.3L265.6 2125.1L266.3 2120.4L266.9 2115.2L267.6 2109.5L268.2 2103.4L268.9 2096.7L269.6 2089.7L270.2 2082.3L270.9 2074.6L271.5 2066.7L272.2 2058.7L272.9 2050.8L273.5 2043.0L274.2 2035.5L274.8 2028.4L275.5 2021.9L276.2 2016.0L276.8 2010.9L277.5 2006.8L278.1 2003.6L278.8 2001.5L279.4 2000.5L279.7 2000.4L280.1 2000.6L280.8 2001.9L281.4 2004.2L282.1 2007.6L282.7 2012.0L283.4 2017.2L284.1 2023.3L284.7 2030.0L285.4 2037.2L286.0 2044.8L286.7 2052.6L287.4 2060.6L288.0 2068.6L288.7 2076.5L289.3 2084.1L290.0 2091.5L290.6 2098.5L291.3 2105.1L292.0 2111.2L292.6 2116.8L293.3 2121.9L293.9 2126.6L294.6 2130.7L295.3 2134.3L295.9 2137.5L296.6 2140.3L297.2 2142.7L297.9 2144.7L298.6 2146.4L299.2 2147.9L299.9 2149.1L300.5 2149.3L301.2 2149.2L301.8 2149.1L302.5 2148.9L303.2 2148.7L303.8 2148.5L304.5 2148.2L305.1 2147.9L305.8 2147.6L306.5 2147.3L307.1 2147.0L307.8 2146.6L308.4 2146.3L309.1 2146.0L309.7 2145.7L310.4 2145.4L311.1 2145.1L311.7 2144.9L312.4 2144.7L313.0 2144.6L313.7 2144.5L314.4 2144.4L315.0 2144.4L315.7 2144.6L316.3 2144.8L317.0 2145.1L317.7 2145.5L318.3 2145.9L319.0 2146.4L319.6 2146.8L320.3 2147.2L320.9 2147.6L321.6 2148.0L322.3 2148.2L322.9 2148.3L323.6 2148.4L324.2 2147.8L324.9 2146.2L325.6 2144.3L326.2 2142.0L326.9 2139.3L327.5 2136.1L328.2 2132.4L328.9 2128.1L329.5 2123.3L330.2 2117.8L330.8 2111.7L331.5 2104.9L332.1 2097.4L332.8 2089.3L333.5 2080.6L334.1 2071.4L334.8 2061.7L335.4 2051.7L336.1 2041.4L336.8 2031.0L337.4 2020.6L338.1 2010.4L338.7 2000.6L339.4 1991.3L340.1 1982.8L340.7 1975.1L341.4 1968.5L342.0 1963.0L342.7 1958.9L343.3 1956.1L344.0 1954.8L344.3 1954.7L344.7 1954.9L345.3 1956.6L346.0 1959.6L346.6 1964.1L347.3 1969.8L348.0 1976.6L348.6 1984.5L349.3 1993.2L349.9 2002.6L350.6 2012.6L351.3 2022.8L351.9 2033.2L352.6 2043.7L353.2 2053.9L353.9 2063.9L354.5 2073.6L355.2 2082.7L355.9 2091.3L356.5 2099.3L357.2 2106.7L357.8 2113.3" fill="none" stroke="#2f9a57" stroke-width="1.25" stroke-linejoin="round"/>
<path d="M216.2 2112.1L216.9 2105.5L217.5 2098.3L218.2 2090.5L218.8 2082.2L219.5 2073.3L220.2 2064.1L220.8 2054.5L221.5 2044.8L222.1 2034.8L222.8 2024.9L223.5 2015.2L224.1 2005.8L224.8 1996.8L225.4 1988.5L226.1 1980.9L226.7 1974.2L227.4 1968.5L228.1 1964.0L228.7 1960.7L229.4 1958.6L230.0 1958.0L230.7 1958.6L231.4 1960.6L232.0 1963.9L232.7 1968.5L233.3 1974.1L234.0 1980.8L234.7 1988.4L235.3 1996.8L236.0 2004.7L236.6 2012.4L237.3 2020.0L237.9 2027.5L238.6 2034.6L239.3 2041.0L239.9 2046.8L240.6 2051.6L241.2 2055.5L241.9 2058.3L242.6 2059.9L243.2 2060.2L243.9 2059.4L244.5 2057.3L245.2 2054.0L245.8 2049.6L246.5 2044.2L247.2 2037.8L247.8 2030.7L248.5 2023.0L249.1 2014.8L249.8 2006.3L250.5 1997.8L251.1 1989.4L251.8 1980.3L252.4 1971.8L253.1 1964.2L253.8 1957.7L254.4 1952.4L255.1 1948.3L255.7 1945.6L256.4 1944.3L256.7 1944.1L257.0 1944.4L257.7 1946.0L258.4 1949.0L259.0 1953.3L259.7 1958.9L260.3 1965.6L261.0 1973.4L261.7 1982.0L262.3 1991.3L263.0 2001.2L263.6 2011.5L264.3 2022.1L265.0 2032.7L265.6 2043.2L266.3 2053.6L266.9 2063.6L267.6 2073.2L268.2 2082.3L268.9 2090.9L269.6 2098.9L270.2 2106.2L270.9 2112.9L271.5 2118.9L272.2 2124.3L272.9 2129.2L273.5 2133.4L274.2 2137.1L274.8 2140.3L275.5 2143.0L276.2 2145.4L276.8 2147.3L277.5 2149.0L278.1 2149.7L278.8 2149.7L279.4 2149.6L280.1 2149.5L280.8 2149.3L281.4 2149.1L282.1 2148.8L282.7 2148.3L283.4 2147.6L284.1 2146.8L284.7 2146.0L285.4 2145.2L286.0 2144.6L286.7 2144.0L287.4 2143.8L288.0 2143.8L288.7 2144.0L289.3 2144.3L290.0 2144.7L290.6 2145.2L291.3 2145.7L292.0 2146.3L292.6 2146.9L293.3 2147.4L293.9 2147.9L294.6 2148.2L295.3 2148.5L295.9 2148.8L296.6 2149.0L297.2 2149.2L297.9 2149.5L298.6 2149.6L299.2 2149.8L299.9 2149.9L300.5 2150.0L301.2 2150.1L301.8 2150.1L302.5 2150.2L303.2 2150.3L303.8 2150.3L304.5 2149.6L305.1 2148.7L305.8 2147.5L306.5 2146.2L307.1 2144.5L307.8 2142.5L308.4 2140.2L309.1 2137.5L309.7 2134.4L310.4 2131.0L311.1 2127.1L311.7 2122.9L312.4 2118.3L313.0 2113.5L313.7 2108.3L314.4 2103.1L315.0 2097.7L315.7 2092.4L316.3 2087.2L317.0 2082.2L317.7 2077.6L318.3 2073.5L319.0 2070.0L319.6 2067.1L320.3 2065.0L320.9 2063.8L321.6 2063.4L322.3 2063.8L322.9 2065.2L323.6 2067.3L324.2 2070.2L324.9 2073.8L325.6 2078.0L326.2 2082.7L326.9 2087.7L327.5 2093.0L328.2 2098.4L328.9 2103.9L329.5 2109.2L330.2 2114.4L330.8 2119.3L331.5 2124.0L332.1 2128.3L332.8 2132.2L333.5 2135.7L334.1 2138.9L334.8 2141.6L335.4 2144.0L336.1 2146.1L336.8 2147.8L337.4 2149.3L338.1 2150.5L338.7 2151.5L339.4 2152.3L340.1 2152.3L340.7 2152.3L341.4 2152.3L342.0 2152.3L342.7 2152.3L343.3 2152.3L344.0 2152.3L344.7 2152.3L345.3 2152.2L346.0 2152.1L346.6 2151.9L347.3 2151.8L348.0 2151.6L348.6 2151.4L349.3 2151.1L349.9 2150.9L350.6 2150.6L351.3 2150.4L351.9 2150.1L352.6 2149.8L353.2 2149.5L353.9 2149.2L354.5 2149.0L355.2 2148.7L355.9 2148.4L356.5 2148.2L357.2 2147.9L357.8 2147.7" fill="none" stroke="#2b2b2b" stroke-width="1.3" stroke-linejoin="round"/>
<path d="M286.96 1908.96 L313.97 1908.96 L310.67 2150.99 L284.32 2150.99 Z" fill="#FBE785" fill-opacity="0.5"/>
<text x="230.96" y="1938.21" font-size="18.4" text-anchor="middle">G</text>
<text x="256.39" y="1938.21" font-size="18.4" text-anchor="middle">G</text>
<text x="278.66" y="1938.21" font-size="18.4" text-anchor="middle" fill="#1E9E49">A</text>
<text x="299.74" y="1938.21" font-size="18.4" text-anchor="middle" fill="#3153B4">C</text>
<text x="321.21" y="1938.21" font-size="18.4" text-anchor="middle">G</text>
<text x="343.61" y="1938.21" font-size="18.4" text-anchor="middle" fill="#1E9E49">A</text>
<text x="219.1" y="2184.6" font-size="23" textLength="154.8" lengthAdjust="spacingAndGlyphs">Female MEFs</text>
<line x1="24.4" y1="2499.9" x2="161.8" y2="2499.9" stroke="#ebebeb" stroke-width="1.8"/>
<path d="M24.4 2449.0L25.0 2454.4L25.7 2460.0L26.4 2465.5L27.0 2470.7L27.7 2475.3L28.3 2479.9L29.0 2484.8L29.6 2489.4L30.3 2493.4L31.0 2496.1L31.6 2497.1L32.3 2497.1L32.9 2497.0L33.6 2497.0L34.3 2497.0L34.9 2496.9L35.6 2496.9L36.2 2496.8L36.9 2496.7L37.5 2496.7L38.2 2496.6L38.9 2496.5L39.5 2496.4L40.2 2496.3L40.8 2496.1L41.5 2495.9L42.2 2495.7L42.8 2495.4L43.5 2495.2L44.1 2494.9L44.8 2494.6L45.5 2494.3L46.1 2494.0L46.8 2493.8L47.4 2493.6L48.1 2493.4L48.7 2493.2L49.4 2493.1L50.1 2493.1L50.7 2493.1L51.4 2493.2L52.0 2493.3L52.7 2493.5L53.4 2493.7L54.0 2493.9L54.7 2494.1L55.3 2494.3L56.0 2494.5L56.7 2494.7L57.3 2494.9L58.0 2495.0L58.6 2495.1L59.3 2495.1L59.9 2495.1L60.6 2495.0L61.3 2494.9L61.9 2494.8L62.6 2494.7L63.2 2494.6L63.9 2494.4L64.6 2494.3L65.2 2494.2L65.9 2494.0L66.5 2493.9L67.2 2493.8L67.9 2493.8L68.5 2493.8L69.2 2493.8L69.8 2493.9L70.5 2493.9L71.1 2494.1L71.8 2494.2L72.5 2494.4L73.1 2494.6L73.8 2494.8L74.4 2495.0L75.1 2495.2L75.8 2495.4L76.4 2495.6L77.1 2495.9L77.7 2496.1L78.4 2496.3L79.1 2496.5L79.7 2496.6L80.4 2496.8L81.0 2496.9L81.7 2497.0L82.3 2497.0L83.0 2497.1L83.7 2497.1L84.3 2497.1L85.0 2497.0L85.6 2496.6L86.3 2496.0L87.0 2495.1L87.6 2494.1L88.3 2492.8L88.9 2491.3L89.6 2489.6L90.3 2487.5L90.9 2485.2L91.6 2482.5L92.2 2479.6L92.9 2476.4L93.5 2473.0L94.2 2469.4L94.9 2465.7L95.5 2462.0L96.2 2458.3L96.8 2454.8L97.5 2451.5L98.2 2448.5L98.8 2446.0L99.5 2443.9L100.1 2442.5L100.8 2441.7L101.2 2441.5L101.4 2441.5L102.1 2441.9L102.8 2443.0L103.4 2444.7L104.1 2447.0L104.7 2449.6L105.4 2452.7L106.1 2455.9L106.7 2459.4L107.4 2463.0L108.0 2466.5L108.7 2469.9L109.4 2473.2L110.0 2476.2L110.7 2479.1L111.3 2481.6L112.0 2483.9L112.6 2485.8L113.3 2487.5L114.0 2489.0L114.6 2490.2L115.3 2491.2L115.9 2492.0L116.6 2492.6L117.3 2493.1L117.9 2493.2L118.6 2493.3L119.2 2493.4L119.9 2493.6L120.6 2493.7L121.2 2493.8L121.9 2493.8L122.5 2493.7L123.2 2493.6L123.8 2493.5L124.5 2493.4L125.2 2493.3L125.8 2493.1L126.5 2493.0L127.1 2492.8L127.8 2492.6L128.5 2492.5L129.1 2492.3L129.8 2492.1L130.4 2491.9L131.1 2491.8L131.8 2491.6L132.4 2491.5L133.1 2491.4L133.7 2491.3L134.4 2491.2L135.0 2491.2L135.7 2491.1L136.4 2491.2L137.0 2491.2L137.7 2491.3L138.3 2491.4L139.0 2491.6L139.7 2491.8L140.3 2492.0L141.0 2492.2L141.6 2492.4L142.3 2492.7L143.0 2492.9L143.6 2493.2L144.3 2493.4L144.9 2493.7L145.6 2494.0L146.2 2494.2L146.9 2494.5L147.6 2494.7L148.2 2494.9L148.9 2495.1L149.5 2495.3L150.2 2495.5L150.9 2495.6L151.5 2495.8L152.2 2496.0L152.8 2496.1L153.5 2496.3L154.2 2496.5L154.8 2496.6L155.5 2496.8L156.1 2497.0L156.8 2497.1L157.4 2497.3L158.1 2497.5L158.8 2497.6L159.4 2497.8L160.1 2498.0L160.7 2498.1L161.4 2498.3L161.8 2498.4" fill="none" stroke="#ea4a36" stroke-width="1.1" stroke-linejoin="round"/>
<path d="M24.4 2497.7L25.0 2497.7L25.7 2497.7L26.4 2497.7L27.0 2497.7L27.7 2497.7L28.3 2497.7L29.0 2497.7L29.6 2497.7L30.3 2497.7L31.0 2497.7L31.6 2497.7L32.3 2497.7L32.9 2497.7L33.6 2497.7L34.3 2497.7L34.9 2497.7L35.6 2497.7L36.2 2497.7L36.9 2497.4L37.5 2497.1L38.2 2496.7L38.9 2496.2L39.5 2495.6L40.2 2495.0L40.8 2494.4L41.5 2493.8L42.2 2493.2L42.8 2492.7L43.5 2492.2L44.1 2491.7L44.8 2491.4L45.5 2491.2L46.1 2491.1L46.8 2491.2L47.4 2491.3L48.1 2491.5L48.7 2491.8L49.4 2492.1L50.1 2492.4L50.7 2492.7L51.4 2493.1L52.0 2493.5L52.7 2493.8L53.4 2494.2L54.0 2494.5L54.7 2494.7L55.3 2494.9L56.0 2495.0L56.7 2495.1L57.3 2495.1L58.0 2495.0L58.6 2495.0L59.3 2494.9L59.9 2494.8L60.6 2494.8L61.3 2494.6L61.9 2494.5L62.6 2494.4L63.2 2494.3L63.9 2494.2L64.6 2494.1L65.2 2494.0L65.9 2493.9L66.5 2493.9L67.2 2493.8L67.9 2493.8L68.5 2493.8L69.2 2493.8L69.8 2493.9L70.5 2494.0L71.1 2494.2L71.8 2494.4L72.5 2494.6L73.1 2494.9L73.8 2495.2L74.4 2495.5L75.1 2495.8L75.8 2496.0L76.4 2496.3L77.1 2496.6L77.7 2496.9L78.4 2497.1L79.1 2497.3L79.7 2497.5L80.4 2497.6L81.0 2497.7L81.7 2497.7L82.3 2497.7L83.0 2497.7L83.7 2497.7L84.3 2497.7L85.0 2497.7L85.6 2497.7L86.3 2497.7L87.0 2497.4L87.6 2496.6L88.3 2495.6L88.9 2494.4L89.6 2492.9L90.3 2491.1L90.9 2488.9L91.6 2486.5L92.2 2483.6L92.9 2480.4L93.5 2476.8L94.2 2472.8L94.9 2468.5L95.5 2463.9L96.2 2459.1L96.8 2454.2L97.5 2449.2L98.2 2444.3L98.8 2439.5L99.5 2435.1L100.1 2431.1L100.8 2427.6L101.4 2424.8L102.1 2422.7L102.8 2421.4L103.4 2420.9L104.1 2421.3L104.7 2422.5L105.4 2424.5L106.1 2427.3L106.7 2430.7L107.4 2434.6L108.0 2438.9L108.7 2443.6L109.4 2448.4L110.0 2453.3L110.7 2458.2L111.3 2462.9L112.0 2467.4L112.6 2471.6L113.3 2475.5L114.0 2479.0L114.6 2482.2L115.3 2484.9L115.9 2487.3L116.6 2489.4L117.3 2491.1L117.9 2492.5L118.6 2493.7L119.2 2494.6L119.9 2495.3L120.6 2495.5L121.2 2495.4L121.9 2495.4L122.5 2495.3L123.2 2495.1L123.8 2494.9L124.5 2494.7L125.2 2494.4L125.8 2494.2L126.5 2493.9L127.1 2493.6L127.8 2493.4L128.5 2493.1L129.1 2492.9L129.8 2492.7L130.4 2492.6L131.1 2492.5L131.8 2492.5L132.4 2492.5L133.1 2492.6L133.7 2492.7L134.4 2492.8L135.0 2493.0L135.7 2493.3L136.4 2493.5L137.0 2493.8L137.7 2494.1L138.3 2494.4L139.0 2494.7L139.7 2495.1L140.3 2495.4L141.0 2495.8L141.6 2496.1L142.3 2496.4L143.0 2496.7L143.6 2497.0L144.3 2497.3L144.9 2497.6L145.6 2497.8L146.2 2498.0L146.9 2498.2L147.6 2498.3L148.2 2498.4L148.9 2498.4L149.5 2498.4L150.2 2498.4L150.9 2498.4L151.5 2498.4L152.2 2498.4L152.8 2497.4L153.5 2495.4L154.2 2492.9L154.8 2490.0L155.5 2486.4L156.1 2482.2L156.8 2477.3L157.4 2471.6L158.1 2465.0L158.8 2457.6L159.4 2449.4L160.1 2440.3L160.7 2430.4L161.4 2419.9L161.8 2413.2" fill="none" stroke="#3a58c4" stroke-width="1.15" stroke-linejoin="round"/>
<path d="M24.4 2487.2L25.0 2487.7L25.7 2488.2L26.4 2488.8L27.0 2489.4L27.7 2490.0L28.3 2490.6L29.0 2491.2L29.6 2491.7L30.3 2492.2L31.0 2492.6L31.6 2492.9L32.3 2493.0L32.9 2493.1L33.6 2493.1L34.3 2493.0L34.9 2492.9L35.6 2492.8L36.2 2492.7L36.9 2492.5L37.5 2492.3L38.2 2492.1L38.9 2491.8L39.5 2491.6L40.2 2491.3L40.8 2491.1L41.5 2490.8L42.2 2490.5L42.8 2490.3L43.5 2490.0L44.1 2489.8L44.8 2489.5L45.5 2489.3L46.1 2489.1L46.8 2489.0L47.4 2488.8L48.1 2488.7L48.7 2488.6L49.4 2488.5L50.1 2488.5L50.7 2488.5L51.4 2488.6L52.0 2488.7L52.7 2488.8L53.4 2488.9L54.0 2489.1L54.7 2489.3L55.3 2489.5L56.0 2489.8L56.7 2490.0L57.3 2490.3L58.0 2490.6L58.6 2490.9L59.3 2491.1L59.9 2491.4L60.6 2491.7L61.3 2492.0L61.9 2492.2L62.6 2492.5L63.2 2492.7L63.9 2493.0L64.6 2493.2L65.2 2493.3L65.9 2493.5L66.5 2493.6L67.2 2493.7L67.9 2493.8L68.5 2493.8L69.2 2493.8L69.8 2493.8L70.5 2492.4L71.1 2490.6L71.8 2488.4L72.5 2485.7L73.1 2482.4L73.8 2478.5L74.4 2474.0L75.1 2468.8L75.8 2462.8L76.4 2456.1L77.1 2448.6L77.7 2440.4L78.4 2431.6L79.1 2422.3L79.7 2412.6L80.4 2402.6L81.0 2392.6L81.7 2382.8L82.3 2373.4L83.0 2364.6L83.7 2356.7L84.3 2349.8L85.0 2344.3L85.6 2340.2L86.3 2337.6L87.0 2336.7L87.6 2337.5L88.3 2339.9L88.9 2343.9L89.6 2349.4L90.3 2356.1L90.9 2364.0L91.6 2372.6L92.2 2382.0L92.9 2391.7L93.5 2401.6L94.2 2411.4L94.9 2421.0L95.5 2430.2L96.2 2438.9L96.8 2447.0L97.5 2454.3L98.2 2461.0L98.8 2466.8L99.5 2472.0L100.1 2476.4L100.8 2480.1L101.4 2483.3L102.1 2485.9L102.8 2488.0L103.4 2489.7L104.1 2490.9L104.7 2490.8L105.4 2490.7L106.1 2490.6L106.7 2490.5L107.4 2490.3L108.0 2490.0L108.7 2489.6L109.4 2489.1L110.0 2488.5L110.7 2487.8L111.3 2487.1L112.0 2486.4L112.6 2485.6L113.3 2484.9L114.0 2484.1L114.6 2483.4L115.3 2482.8L115.9 2482.2L116.6 2481.7L117.3 2481.2L117.9 2480.9L118.6 2480.7L119.2 2480.6L119.9 2480.7L120.6 2480.9L121.2 2481.3L121.9 2481.8L122.5 2482.4L123.2 2483.1L123.8 2483.8L124.5 2484.6L125.2 2485.5L125.8 2486.3L126.5 2487.1L127.1 2487.9L127.8 2488.7L128.5 2489.4L129.1 2490.0L129.8 2490.6L130.4 2491.0L131.1 2491.3L131.8 2489.6L132.4 2487.5L133.1 2484.9L133.7 2481.7L134.4 2478.0L135.0 2473.5L135.7 2468.3L136.4 2462.2L137.0 2455.3L137.7 2447.6L138.3 2439.0L139.0 2429.6L139.7 2419.4L140.3 2408.5L141.0 2397.2L141.6 2385.4L142.3 2373.5L143.0 2361.6L143.6 2350.0L144.3 2338.9L144.9 2328.7L145.6 2319.5L146.2 2311.6L146.9 2305.3L147.6 2300.6L148.2 2297.8L148.9 2296.8L149.5 2297.8L150.2 2300.7L150.9 2305.4L151.5 2311.8L152.2 2319.7L152.8 2328.9L153.5 2339.2L154.2 2350.2L154.8 2361.9L155.5 2373.8L156.1 2385.8L156.8 2397.6L157.4 2409.0L158.1 2419.9L158.8 2430.1L159.4 2439.6L160.1 2448.2L160.7 2456.0L161.4 2463.0L161.8 2466.7" fill="none" stroke="#2f9a57" stroke-width="1.25" stroke-linejoin="round"/>
<path d="M24.4 2494.0L25.0 2491.7L25.7 2489.0L26.4 2485.9L27.0 2482.2L27.7 2477.9L28.3 2473.0L29.0 2467.5L29.6 2461.3L30.3 2454.4L31.0 2446.9L31.6 2438.7L32.3 2430.0L32.9 2420.8L33.6 2411.3L34.3 2401.5L34.9 2391.6L35.6 2381.8L36.2 2372.3L36.9 2363.2L37.5 2354.7L38.2 2347.1L38.9 2340.4L39.5 2334.9L40.2 2330.7L40.8 2327.9L41.5 2326.6L41.8 2326.4L42.2 2326.7L42.8 2328.4L43.5 2331.4L44.1 2335.9L44.8 2341.6L45.5 2348.5L46.1 2356.3L46.8 2364.9L47.4 2374.1L48.1 2383.5L48.7 2391.6L49.4 2399.4L50.1 2406.7L50.7 2413.1L51.4 2418.7L52.0 2423.1L52.7 2426.3L53.4 2428.2L54.0 2428.6L54.7 2427.7L55.3 2425.2L56.0 2421.4L56.7 2416.3L57.3 2409.9L58.0 2402.4L58.6 2394.0L59.3 2384.8L59.9 2375.1L60.6 2365.2L61.3 2354.2L61.9 2343.5L62.6 2333.5L63.2 2324.4L63.9 2316.5L64.6 2309.8L65.2 2304.6L65.9 2301.0L66.5 2299.1L66.9 2298.8L67.2 2298.9L67.9 2300.5L68.5 2303.7L69.2 2308.6L69.8 2314.9L70.5 2322.6L71.1 2331.4L71.8 2341.2L72.5 2351.8L73.1 2362.8L73.8 2374.2L74.4 2385.6L75.1 2396.9L75.8 2407.9L76.4 2418.6L77.1 2428.6L77.7 2438.0L78.4 2446.7L79.1 2454.7L79.7 2461.8L80.4 2468.2L81.0 2473.9L81.7 2478.8L82.3 2483.1L83.0 2486.7L83.7 2489.7L84.3 2492.3L85.0 2494.4L85.6 2496.0L86.3 2496.3L87.0 2496.1L87.6 2495.9L88.3 2495.6L88.9 2495.3L89.6 2495.0L90.3 2494.8L90.9 2494.5L91.6 2494.3L92.2 2494.1L92.9 2493.9L93.5 2493.8L94.2 2493.8L94.9 2493.8L95.5 2493.9L96.2 2494.0L96.8 2494.1L97.5 2494.3L98.2 2494.6L98.8 2494.8L99.5 2495.1L100.1 2495.3L100.8 2495.6L101.4 2495.9L102.1 2496.2L102.8 2496.5L103.4 2496.8L104.1 2497.1L104.7 2497.4L105.4 2497.6L106.1 2497.8L106.7 2498.0L107.4 2498.2L108.0 2498.3L108.7 2498.4L109.4 2498.4L110.0 2498.4L110.7 2498.4L111.3 2498.3L112.0 2498.3L112.6 2498.3L113.3 2498.2L114.0 2497.9L114.6 2496.6L115.3 2495.1L115.9 2493.2L116.6 2490.8L117.3 2488.0L117.9 2484.7L118.6 2480.9L119.2 2476.4L119.9 2471.3L120.6 2465.6L121.2 2459.4L121.9 2452.6L122.5 2445.4L123.2 2437.9L123.8 2430.3L124.5 2422.7L125.2 2415.2L125.8 2408.2L126.5 2401.8L127.1 2396.2L127.8 2391.6L128.5 2388.1L129.1 2385.8L129.8 2384.8L130.4 2385.2L131.1 2386.8L131.8 2389.7L132.4 2393.7L133.1 2398.8L133.7 2404.6L134.4 2411.0L135.0 2417.9L135.7 2425.0L136.4 2432.2L137.0 2439.2L137.7 2445.9L138.3 2452.3L139.0 2458.2L139.7 2463.6L140.3 2468.4L141.0 2472.6L141.6 2476.2L142.3 2479.3L143.0 2481.9L143.6 2484.0L144.3 2485.7L144.9 2487.1L145.6 2488.2L146.2 2488.5L146.9 2488.5L147.6 2488.5L148.2 2488.5L148.9 2488.5L149.5 2488.5L150.2 2488.5L150.9 2488.5L151.5 2488.5L152.2 2488.5L152.8 2488.5L153.5 2488.5L154.2 2488.6L154.8 2488.7L155.5 2488.8L156.1 2488.9L156.8 2489.1L157.4 2489.3L158.1 2489.5L158.8 2489.7L159.4 2489.9L160.1 2490.0L160.7 2490.2L161.4 2490.4L161.8 2490.5" fill="none" stroke="#2b2b2b" stroke-width="1.3" stroke-linejoin="round"/>
<path d="M96.18 2257.28 L122.79 2257.28 L119.89 2501.02 L93.15 2501.02 Z" fill="#FBE785" fill-opacity="0.5"/>
<text x="43.21" y="2282.31" font-size="18.4" text-anchor="middle">G</text>
<text x="68.51" y="2282.31" font-size="18.4" text-anchor="middle">G</text>
<text x="90.91" y="2282.31" font-size="18.4" text-anchor="middle" fill="#1E9E49">A</text>
<text x="111.99" y="2282.31" font-size="18.4" text-anchor="middle" fill="#5E7DA6">C</text>
<text x="131.49" y="2282.31" font-size="18.4" text-anchor="middle">G</text>
<text x="152.83" y="2282.31" font-size="18.4" text-anchor="middle" fill="#1E9E49">A</text>
<text x="111.99" y="2302.73" font-size="18.4" text-anchor="middle" fill="#EE5A24">T</text>
<text x="56.9" y="2528.7" font-size="23" textLength="82.8" lengthAdjust="spacingAndGlyphs">F FBS5</text>
<line x1="219.2" y1="2503.2" x2="356.7" y2="2503.2" stroke="#ebebeb" stroke-width="1.8"/>
<path d="M219.2 2485.9L219.9 2491.0L220.6 2495.1L221.2 2497.6L221.9 2499.3L222.5 2499.7L223.2 2499.8L223.9 2499.8L224.5 2499.9L225.2 2499.9L225.8 2500.0L226.5 2500.0L227.2 2500.0L227.8 2500.1L228.5 2500.1L229.1 2500.1L229.8 2500.2L230.4 2500.2L231.1 2500.2L231.8 2500.2L232.4 2500.3L233.1 2500.3L233.7 2500.3L234.4 2500.3L235.1 2500.3L235.7 2500.3L236.4 2500.3L237.0 2500.3L237.7 2500.3L238.4 2500.3L239.0 2500.4L239.7 2500.4L240.3 2500.4L241.0 2500.4L241.6 2500.4L242.3 2500.4L243.0 2500.4L243.6 2500.3L244.3 2500.3L244.9 2500.2L245.6 2500.1L246.3 2500.0L246.9 2499.8L247.6 2499.7L248.2 2499.5L248.9 2499.3L249.6 2499.1L250.2 2498.9L250.9 2498.7L251.5 2498.5L252.2 2498.3L252.8 2498.1L253.5 2497.9L254.2 2497.7L254.8 2497.5L255.5 2497.3L256.1 2497.1L256.8 2497.0L257.5 2496.8L258.1 2496.7L258.8 2496.6L259.4 2496.5L260.1 2496.4L260.8 2496.4L261.4 2496.4L262.1 2496.4L262.7 2496.4L263.4 2496.4L264.0 2496.4L264.7 2496.4L265.4 2496.4L266.0 2496.4L266.7 2496.4L267.3 2496.4L268.0 2496.4L268.7 2496.4L269.3 2496.4L270.0 2496.5L270.6 2496.6L271.3 2496.8L271.9 2497.0L272.6 2497.3L273.3 2497.6L273.9 2497.9L274.6 2498.2L275.2 2498.5L275.9 2498.8L276.6 2499.2L277.2 2499.5L277.9 2499.7L278.5 2500.0L279.2 2500.1L279.9 2500.3L280.5 2500.3L281.2 2500.4L281.8 2500.3L282.5 2500.1L283.1 2499.8L283.8 2499.5L284.5 2499.1L285.1 2498.6L285.8 2498.1L286.4 2497.6L287.1 2497.1L287.8 2496.5L288.4 2496.0L289.1 2495.5L289.7 2495.0L290.4 2494.5L291.1 2494.1L291.7 2493.7L292.4 2493.5L293.0 2493.2L293.7 2493.1L294.3 2493.1L295.0 2493.2L295.7 2493.4L296.3 2493.7L297.0 2494.0L297.6 2494.4L298.3 2494.8L299.0 2495.3L299.6 2495.8L300.3 2496.3L300.9 2496.8L301.6 2497.2L302.3 2497.7L302.9 2498.1L303.6 2498.4L304.2 2498.7L304.9 2498.9L305.5 2499.0L306.2 2499.0L306.9 2499.0L307.5 2499.0L308.2 2499.0L308.8 2499.0L309.5 2499.0L310.2 2499.0L310.8 2498.9L311.5 2498.9L312.1 2498.9L312.8 2498.8L313.5 2498.8L314.1 2498.8L314.8 2498.7L315.4 2498.7L316.1 2498.6L316.7 2498.6L317.4 2498.5L318.1 2498.5L318.7 2498.4L319.4 2498.4L320.0 2498.2L320.7 2498.0L321.4 2497.8L322.0 2497.5L322.7 2497.2L323.3 2496.8L324.0 2496.4L324.7 2496.1L325.3 2495.7L326.0 2495.3L326.6 2494.9L327.3 2494.5L327.9 2494.2L328.6 2493.8L329.3 2493.6L329.9 2493.4L330.6 2493.2L331.2 2493.1L331.9 2493.1L332.6 2493.2L333.2 2493.3L333.9 2493.4L334.5 2493.6L335.2 2493.8L335.8 2494.0L336.5 2494.3L337.2 2494.5L337.8 2494.8L338.5 2495.1L339.1 2495.5L339.8 2495.8L340.5 2496.1L341.1 2496.5L341.8 2496.8L342.4 2497.1L343.1 2497.4L343.8 2497.7L344.4 2498.0L345.1 2498.3L345.7 2498.5L346.4 2498.7L347.0 2498.9L347.7 2499.1L348.4 2499.3L349.0 2499.5L349.7 2499.7L350.3 2499.9L351.0 2500.1L351.7 2500.3L352.3 2500.4L353.0 2500.6L353.6 2500.8L354.3 2501.0L355.0 2501.2L355.6 2501.4L356.3 2501.6L356.7 2501.7" fill="none" stroke="#ea4a36" stroke-width="0.85" stroke-linejoin="round"/>
<path d="M219.2 2500.4L219.9 2500.1L220.6 2499.9L221.2 2499.6L221.9 2499.3L222.5 2499.1L223.2 2498.8L223.9 2498.5L224.5 2498.2L225.2 2497.9L225.8 2497.6L226.5 2497.3L227.2 2497.0L227.8 2496.7L228.5 2496.5L229.1 2496.2L229.8 2496.0L230.4 2495.8L231.1 2495.6L231.8 2495.5L232.4 2495.3L233.1 2495.2L233.7 2495.1L234.4 2495.1L235.1 2495.1L235.7 2495.1L236.4 2495.2L237.0 2495.2L237.7 2495.3L238.4 2495.5L239.0 2495.6L239.7 2495.7L240.3 2495.9L241.0 2496.1L241.6 2496.3L242.3 2496.5L243.0 2496.7L243.6 2496.9L244.3 2497.1L244.9 2497.3L245.6 2497.5L246.3 2497.7L246.9 2497.9L247.6 2498.1L248.2 2498.3L248.9 2498.5L249.6 2498.6L250.2 2498.8L250.9 2498.9L251.5 2499.0L252.2 2499.1L252.8 2499.2L253.5 2499.2L254.2 2499.3L254.8 2499.4L255.5 2499.4L256.1 2499.5L256.8 2499.5L257.5 2499.6L258.1 2499.6L258.8 2499.7L259.4 2499.7L260.1 2499.8L260.8 2499.8L261.4 2499.9L262.1 2499.9L262.7 2500.0L263.4 2500.0L264.0 2500.1L264.7 2500.1L265.4 2500.2L266.0 2500.2L266.7 2500.3L267.3 2500.3L268.0 2500.4L268.7 2500.5L269.3 2500.5L270.0 2500.6L270.6 2500.7L271.3 2500.8L271.9 2500.9L272.6 2501.0L273.3 2501.1L273.9 2501.2L274.6 2501.3L275.2 2501.4L275.9 2501.5L276.6 2501.5L277.2 2501.6L277.9 2501.6L278.5 2501.7L279.2 2501.7L279.9 2501.7L280.5 2500.6L281.2 2499.2L281.8 2497.5L282.5 2495.3L283.1 2492.8L283.8 2489.8L284.5 2486.2L285.1 2482.1L285.8 2477.4L286.4 2472.2L287.1 2466.3L287.8 2459.9L288.4 2453.1L289.1 2445.8L289.7 2438.2L290.4 2430.4L291.1 2422.6L291.7 2414.9L292.4 2407.5L293.0 2400.6L293.7 2394.4L294.3 2389.0L295.0 2384.6L295.7 2381.3L296.3 2379.3L297.0 2378.5L297.6 2379.0L298.3 2380.8L299.0 2383.8L299.6 2387.9L300.3 2393.0L300.9 2399.0L301.6 2405.6L302.3 2412.7L302.9 2420.2L303.6 2427.7L304.2 2435.3L304.9 2442.7L305.5 2449.7L306.2 2456.4L306.9 2462.6L307.5 2468.2L308.2 2473.3L308.8 2477.8L309.5 2481.8L310.2 2485.2L310.8 2488.1L311.5 2490.6L312.1 2492.6L312.8 2494.3L313.5 2495.7L314.1 2496.7L314.8 2496.7L315.4 2496.7L316.1 2496.7L316.7 2496.7L317.4 2496.8L318.1 2496.8L318.7 2496.9L319.4 2496.9L320.0 2497.0L320.7 2497.1L321.4 2497.2L322.0 2497.3L322.7 2497.4L323.3 2497.5L324.0 2497.6L324.7 2497.7L325.3 2497.9L326.0 2498.0L326.6 2498.1L327.3 2498.2L327.9 2498.3L328.6 2498.4L329.3 2498.6L329.9 2498.7L330.6 2498.9L331.2 2499.0L331.9 2499.2L332.6 2499.4L333.2 2499.6L333.9 2499.8L334.5 2500.0L335.2 2500.3L335.8 2500.5L336.5 2500.7L337.2 2500.9L337.8 2501.1L338.5 2501.3L339.1 2501.5L339.8 2501.6L340.5 2501.8L341.1 2501.9L341.8 2502.1L342.4 2502.2L343.1 2502.2L343.8 2502.3L344.4 2502.3L345.1 2502.3L345.7 2502.3L346.4 2502.3L347.0 2502.3L347.7 2502.3L348.4 2500.7L349.0 2498.6L349.7 2496.1L350.3 2493.0L351.0 2489.4L351.7 2485.1L352.3 2480.2L353.0 2474.4L353.6 2467.8L354.3 2460.5L355.0 2452.3L355.6 2443.3L356.3 2433.7L356.7 2427.5" fill="none" stroke="#3a58c4" stroke-width="1.15" stroke-linejoin="round"/>
<path d="M219.2 2491.1L219.9 2491.9L220.6 2492.9L221.2 2493.8L221.9 2494.5L222.5 2495.0L223.2 2495.1L223.9 2495.1L224.5 2495.0L225.2 2495.0L225.8 2494.9L226.5 2494.8L227.2 2494.7L227.8 2494.5L228.5 2494.4L229.1 2494.3L229.8 2494.1L230.4 2493.9L231.1 2493.8L231.8 2493.6L232.4 2493.5L233.1 2493.3L233.7 2493.2L234.4 2493.0L235.1 2492.9L235.7 2492.8L236.4 2492.7L237.0 2492.6L237.7 2492.5L238.4 2492.5L239.0 2492.5L239.7 2492.5L240.3 2492.5L241.0 2492.6L241.6 2492.7L242.3 2492.8L243.0 2492.9L243.6 2493.1L244.3 2493.3L244.9 2493.6L245.6 2493.8L246.3 2494.1L246.9 2494.3L247.6 2494.6L248.2 2494.9L248.9 2495.2L249.6 2495.5L250.2 2495.9L250.9 2496.2L251.5 2496.5L252.2 2496.8L252.8 2497.1L253.5 2497.4L254.2 2497.6L254.8 2497.9L255.5 2498.2L256.1 2498.4L256.8 2498.6L257.5 2498.8L258.1 2498.9L258.8 2499.1L259.4 2499.2L260.1 2499.3L260.8 2499.3L261.4 2499.3L262.1 2499.3L262.7 2498.8L263.4 2497.2L264.0 2495.4L264.7 2493.1L265.4 2490.4L266.0 2487.1L266.7 2483.3L267.3 2478.9L268.0 2473.8L268.7 2468.1L269.3 2461.6L270.0 2454.5L270.6 2446.8L271.3 2438.5L271.9 2429.7L272.6 2420.6L273.3 2411.2L273.9 2401.7L274.6 2392.3L275.2 2383.3L275.9 2374.7L276.6 2366.9L277.2 2360.0L277.9 2354.1L278.5 2349.5L279.2 2346.3L279.9 2344.6L280.3 2344.2L280.5 2344.3L281.2 2345.6L281.8 2348.3L282.5 2352.4L283.1 2357.8L283.8 2364.4L284.5 2371.8L285.1 2380.1L285.8 2388.8L286.4 2398.0L287.1 2407.2L287.8 2416.5L288.4 2425.5L289.1 2434.2L289.7 2442.4L290.4 2450.1L291.1 2457.1L291.7 2463.5L292.4 2469.3L293.0 2474.3L293.7 2478.7L294.3 2482.5L295.0 2485.7L295.7 2488.3L296.3 2490.5L297.0 2492.3L297.6 2493.8L298.3 2494.5L299.0 2494.4L299.6 2494.2L300.3 2494.1L300.9 2494.0L301.6 2493.8L302.3 2493.6L302.9 2493.4L303.6 2493.2L304.2 2493.0L304.9 2492.8L305.5 2492.7L306.2 2492.5L306.9 2492.5L307.5 2492.5L308.2 2492.5L308.8 2492.6L309.5 2492.8L310.2 2493.1L310.8 2493.3L311.5 2493.6L312.1 2494.0L312.8 2494.4L313.5 2494.7L314.1 2495.2L314.8 2495.6L315.4 2496.0L316.1 2496.4L316.7 2496.8L317.4 2497.2L318.1 2497.6L318.7 2498.0L319.4 2498.3L320.0 2498.6L320.7 2498.8L321.4 2499.0L322.0 2499.2L322.7 2499.3L323.3 2499.3L324.0 2499.3L324.7 2499.3L325.3 2498.6L326.0 2496.7L326.6 2494.4L327.3 2491.6L327.9 2488.3L328.6 2484.4L329.3 2479.9L329.9 2474.6L330.6 2468.5L331.2 2461.7L331.9 2454.0L332.6 2445.6L333.2 2436.3L333.9 2426.4L334.5 2415.8L335.2 2404.7L335.8 2393.3L336.5 2381.7L337.2 2370.0L337.8 2358.6L338.5 2347.6L339.1 2337.3L339.8 2328.0L340.5 2319.7L341.1 2312.8L341.8 2307.4L342.4 2303.7L343.1 2301.7L343.5 2301.4L343.8 2301.6L344.4 2303.2L345.1 2306.6L345.7 2311.7L346.4 2318.3L347.0 2326.3L347.7 2335.4L348.4 2345.6L349.0 2356.4L349.7 2367.8L350.3 2379.4L351.0 2391.1L351.7 2402.6L352.3 2413.8L353.0 2424.5L353.6 2434.6L354.3 2444.0L355.0 2452.6L355.6 2460.4L356.3 2467.5L356.7 2471.3" fill="none" stroke="#2f9a57" stroke-width="1.25" stroke-linejoin="round"/>
<path d="M219.2 2478.4L219.9 2473.2L220.6 2467.4L221.2 2460.9L221.9 2453.7L222.5 2445.9L223.2 2437.4L223.9 2428.4L224.5 2418.9L225.2 2409.1L225.8 2399.0L226.5 2388.8L227.2 2378.7L227.8 2368.9L228.5 2359.5L229.1 2350.8L229.8 2342.8L230.4 2335.9L231.1 2330.1L231.8 2325.6L232.4 2322.5L233.1 2320.8L233.5 2320.5L233.7 2320.6L234.4 2322.0L235.1 2324.8L235.7 2329.1L236.4 2334.6L237.0 2341.3L237.7 2349.1L238.4 2357.7L239.0 2366.9L239.7 2376.7L240.3 2386.3L241.0 2394.7L241.6 2402.7L242.3 2410.1L243.0 2416.6L243.6 2422.2L244.3 2426.7L244.9 2429.9L245.6 2431.7L246.3 2432.2L246.9 2431.3L247.6 2429.0L248.2 2425.2L248.9 2420.2L249.6 2414.0L250.2 2406.7L250.9 2398.5L251.5 2389.6L252.2 2380.1L252.8 2370.2L253.5 2359.2L254.2 2348.6L254.8 2338.7L255.5 2329.5L256.1 2321.4L256.8 2314.4L257.5 2308.9L258.1 2304.8L258.8 2302.3L259.4 2301.4L260.1 2302.2L260.8 2304.7L261.4 2308.8L262.1 2314.3L262.7 2321.2L263.4 2329.4L264.0 2338.5L264.7 2348.4L265.4 2359.0L266.0 2370.0L266.7 2381.1L267.3 2392.3L268.0 2403.3L268.7 2414.0L269.3 2424.3L270.0 2433.9L270.6 2442.9L271.3 2451.1L271.9 2458.6L272.6 2465.3L273.3 2471.2L273.9 2476.4L274.6 2480.9L275.2 2484.8L275.9 2488.0L276.6 2490.7L277.2 2493.0L277.9 2494.8L278.5 2496.2L279.2 2496.2L279.9 2495.8L280.5 2495.3L281.2 2494.7L281.8 2494.2L282.5 2493.7L283.1 2493.1L283.8 2492.7L284.5 2492.2L285.1 2491.8L285.8 2491.5L286.4 2491.3L287.1 2491.2L287.8 2491.1L288.4 2491.2L289.1 2491.4L289.7 2491.6L290.4 2491.8L291.1 2492.1L291.7 2492.4L292.4 2492.8L293.0 2493.1L293.7 2493.5L294.3 2493.9L295.0 2494.2L295.7 2494.6L296.3 2495.0L297.0 2495.4L297.6 2496.0L298.3 2496.5L299.0 2497.0L299.6 2497.6L300.3 2498.1L300.9 2498.5L301.6 2498.9L302.3 2499.1L302.9 2499.3L303.6 2499.3L304.2 2499.3L304.9 2499.3L305.5 2499.3L306.2 2499.3L306.9 2499.3L307.5 2498.7L308.2 2497.7L308.8 2496.5L309.5 2495.0L310.2 2493.2L310.8 2491.1L311.5 2488.6L312.1 2485.7L312.8 2482.4L313.5 2478.6L314.1 2474.4L314.8 2469.9L315.4 2464.9L316.1 2459.7L316.7 2454.3L317.4 2448.7L318.1 2443.2L318.7 2437.7L319.4 2432.6L320.0 2427.8L320.7 2423.5L321.4 2419.9L322.0 2417.0L322.7 2415.0L323.3 2413.9L323.7 2413.7L324.0 2413.7L324.7 2414.5L325.3 2416.1L326.0 2418.7L326.6 2422.0L327.3 2425.9L327.9 2430.5L328.6 2435.4L329.3 2440.6L329.9 2446.0L330.6 2451.4L331.2 2456.7L331.9 2461.8L332.6 2466.6L333.2 2471.1L333.9 2475.2L334.5 2478.9L335.2 2482.2L335.8 2485.0L336.5 2487.4L337.2 2489.3L337.8 2490.9L338.5 2492.2L339.1 2493.2L339.8 2494.0L340.5 2494.7L341.1 2494.5L341.8 2494.4L342.4 2494.3L343.1 2494.2L343.8 2494.1L344.4 2494.1L345.1 2494.0L345.7 2493.9L346.4 2493.9L347.0 2493.8L347.7 2493.8L348.4 2493.7L349.0 2493.7L349.7 2493.6L350.3 2493.6L351.0 2493.5L351.7 2493.5L352.3 2493.4L353.0 2493.4L353.6 2493.4L354.3 2493.3L355.0 2493.3L355.6 2493.2L356.3 2493.1L356.7 2493.1" fill="none" stroke="#2b2b2b" stroke-width="1.3" stroke-linejoin="round"/>
<path d="M288.16 2260.57 L314.9 2260.57 L311.87 2504.31 L285.13 2504.31 Z" fill="#FBE785" fill-opacity="0.5"/>
<text x="235.45" y="2288.64" font-size="18.4" text-anchor="middle">G</text>
<text x="260.49" y="2288.64" font-size="18.4" text-anchor="middle">G</text>
<text x="281.83" y="2288.64" font-size="18.4" text-anchor="middle" fill="#1E9E49">A</text>
<text x="303.97" y="2288.64" font-size="18.4" text-anchor="middle" fill="#5E7DA6">C</text>
<text x="323.73" y="2288.64" font-size="18.4" text-anchor="middle">G</text>
<text x="344.55" y="2288.64" font-size="18.4" text-anchor="middle" fill="#1E9E49">A</text>
<text x="248.6" y="2535.3" font-size="23" textLength="89" lengthAdjust="spacingAndGlyphs">M FBS5</text>
<path d="M1050.4 2153.6L1051.1 2153.6L1051.7 2153.6L1052.4 2153.6L1053.1 2153.6L1053.7 2153.6L1054.4 2153.6L1055.0 2153.6L1055.7 2153.6L1056.4 2153.6L1057.0 2153.6L1057.7 2153.6L1058.3 2153.6L1059.0 2153.6L1059.6 2153.6L1060.3 2153.6L1061.0 2153.6L1061.6 2153.6L1062.3 2153.6L1062.9 2153.6L1063.6 2153.6L1064.3 2153.6L1064.9 2153.6L1065.6 2153.6L1066.2 2153.6L1066.9 2153.6L1067.5 2153.6L1068.2 2153.6L1068.9 2153.6L1069.5 2153.6L1070.2 2153.6L1070.8 2153.6L1071.5 2153.6L1072.2 2153.6L1072.8 2153.6L1073.5 2153.6L1074.1 2153.6L1074.8 2153.6L1075.5 2153.6L1076.1 2153.6L1076.8 2153.6L1077.4 2153.6L1078.1 2153.6L1078.7 2153.6L1079.4 2153.6L1080.1 2153.6L1080.7 2153.6L1081.4 2153.6L1082.0 2153.6L1082.7 2153.6L1083.4 2153.6L1084.0 2153.6L1084.7 2153.6L1085.3 2153.6L1086.0 2153.6L1086.7 2153.6L1087.3 2153.6L1088.0 2153.6L1088.6 2153.6L1089.3 2153.6L1089.9 2153.6L1090.6 2153.6L1091.3 2153.2L1091.9 2150.8L1092.6 2147.7L1093.2 2143.9L1093.9 2139.2L1094.6 2133.5L1095.2 2126.7L1095.9 2118.6L1096.5 2109.4L1097.2 2098.8L1097.9 2087.0L1098.5 2074.1L1099.2 2060.3L1099.8 2045.7L1100.5 2030.6L1101.1 2015.5L1101.8 2000.7L1102.5 1986.6L1103.1 1973.7L1103.8 1962.5L1104.4 1953.3L1105.1 1946.5L1105.8 1942.3L1106.4 1940.8L1107.1 1942.3L1107.7 1946.5L1108.4 1953.3L1109.1 1962.5L1109.7 1973.7L1110.4 1986.6L1111.0 2000.7L1111.7 2015.5L1112.3 2030.6L1113.0 2045.7L1113.7 2060.3L1114.3 2074.1L1115.0 2087.0L1115.6 2098.8L1116.3 2109.4L1117.0 2118.6L1117.6 2126.7L1118.3 2133.5L1118.9 2139.2L1119.6 2143.9L1120.3 2147.7L1120.9 2150.8L1121.6 2153.2L1122.2 2153.6L1122.9 2153.6L1123.5 2153.6L1124.2 2153.6L1124.9 2153.6L1125.5 2153.6L1126.2 2153.6L1126.8 2153.6L1127.5 2153.6L1128.2 2153.6L1128.8 2153.6L1129.5 2153.6L1130.1 2153.6L1130.8 2153.6L1131.4 2153.6L1132.1 2153.6L1132.8 2153.6L1133.4 2153.3L1134.1 2151.9L1134.7 2150.2L1135.4 2148.0L1136.1 2145.4L1136.7 2142.3L1137.4 2138.5L1138.0 2134.1L1138.7 2129.1L1139.4 2123.3L1140.0 2116.9L1140.7 2109.8L1141.3 2102.2L1142.0 2094.1L1142.6 2085.7L1143.3 2077.1L1144.0 2068.6L1144.6 2060.3L1145.3 2052.5L1145.9 2045.5L1146.6 2039.3L1147.3 2034.3L1147.9 2030.6L1148.6 2028.3L1149.2 2027.5L1149.9 2028.3L1150.6 2030.6L1151.2 2034.3L1151.9 2039.3L1152.5 2045.5L1153.2 2052.5L1153.8 2060.3L1154.5 2068.6L1155.2 2077.1L1155.8 2084.0L1156.5 2090.0L1157.1 2095.2L1157.8 2099.2L1158.5 2101.8L1159.1 2103.0L1159.8 2102.6L1160.4 2100.5L1161.1 2096.6L1161.8 2091.2L1162.4 2084.1L1163.1 2075.6L1163.7 2065.9L1164.4 2055.1L1165.0 2043.7L1165.7 2031.2L1166.4 2018.6L1167.0 2006.6L1167.7 1995.5L1168.3 1985.7L1169.0 1977.5L1169.7 1971.1L1170.3 1966.8L1171.0 1964.7L1171.2 1964.6L1171.6 1965.0L1172.3 1967.5L1173.0 1972.2L1173.6 1979.0L1174.3 1987.6L1174.9 1997.7L1175.6 2008.9L1176.2 2021.1L1176.9 2033.8L1177.6 2046.7L1178.2 2059.4L1178.9 2071.7L1179.5 2083.5L1180.2 2094.4L1180.9 2104.4L1181.5 2113.5L1182.2 2121.5L1182.8 2128.4" fill="none" stroke="#2f9a57" stroke-width="1.25" stroke-linejoin="round"/>
<path d="M1050.4 2153.6L1051.1 2153.6L1051.7 2153.6L1052.4 2153.6L1053.1 2153.6L1053.7 2153.6L1054.4 2153.6L1055.0 2153.6L1055.7 2153.6L1056.4 2153.6L1057.0 2153.6L1057.7 2153.6L1058.3 2153.6L1059.0 2153.6L1059.6 2153.6L1060.3 2153.6L1061.0 2153.6L1061.6 2153.6L1062.3 2153.6L1062.9 2153.6L1063.6 2153.6L1064.3 2153.6L1064.9 2153.6L1065.6 2153.6L1066.2 2153.6L1066.9 2153.6L1067.5 2153.6L1068.2 2153.6L1068.9 2153.6L1069.5 2152.4L1070.2 2150.5L1070.8 2148.2L1071.5 2145.4L1072.2 2142.0L1072.8 2138.0L1073.5 2133.2L1074.1 2127.7L1074.8 2121.4L1075.5 2114.3L1076.1 2106.4L1076.8 2097.8L1077.4 2088.5L1078.1 2078.8L1078.7 2068.7L1079.4 2058.5L1080.1 2048.3L1080.7 2038.6L1081.4 2029.4L1082.0 2021.1L1082.7 2013.9L1083.4 2008.0L1084.0 2003.7L1084.7 2001.0L1085.3 2000.1L1086.0 2001.0L1086.7 2003.7L1087.3 2008.0L1088.0 2013.9L1088.6 2021.1L1089.3 2029.4L1089.9 2038.6L1090.6 2048.3L1091.3 2058.5L1091.9 2068.7L1092.6 2078.8L1093.2 2088.5L1093.9 2097.8L1094.6 2106.4L1095.2 2114.3L1095.9 2121.4L1096.5 2127.7L1097.2 2133.2L1097.9 2138.0L1098.5 2142.0L1099.2 2145.4L1099.8 2148.2L1100.5 2150.5L1101.1 2152.4L1101.8 2153.6L1102.5 2153.6L1103.1 2153.6L1103.8 2153.6L1104.4 2153.6L1105.1 2153.6L1105.8 2153.6L1106.4 2153.6L1107.1 2153.6L1107.7 2153.6L1108.4 2153.6L1109.1 2153.6L1109.7 2153.6L1110.4 2153.6L1111.0 2153.6L1111.7 2153.6L1112.3 2153.2L1113.0 2151.5L1113.7 2149.4L1114.3 2146.9L1115.0 2143.7L1115.6 2139.9L1116.3 2135.4L1117.0 2130.1L1117.6 2124.0L1118.3 2117.0L1118.9 2109.3L1119.6 2100.8L1120.3 2091.6L1120.9 2081.8L1121.6 2071.7L1122.2 2061.3L1122.9 2051.0L1123.5 2041.0L1124.2 2031.6L1124.9 2023.1L1125.5 2015.7L1126.2 2009.6L1126.8 2005.1L1127.5 2002.4L1128.2 2001.4L1128.8 2002.4L1129.5 2005.1L1130.1 2009.6L1130.8 2015.7L1131.4 2023.1L1132.1 2031.6L1132.8 2041.0L1133.4 2051.0L1134.1 2061.3L1134.7 2071.7L1135.4 2081.8L1136.1 2091.6L1136.7 2100.8L1137.4 2109.3L1138.0 2117.0L1138.7 2124.0L1139.4 2130.1L1140.0 2135.4L1140.7 2139.9L1141.3 2143.7L1142.0 2146.9L1142.6 2149.4L1143.3 2151.5L1144.0 2153.2L1144.6 2153.6L1145.3 2153.6L1145.9 2153.6L1146.6 2153.6L1147.3 2153.6L1147.9 2153.6L1148.6 2153.6L1149.2 2153.6L1149.9 2153.6L1150.6 2153.6L1151.2 2153.6L1151.9 2153.6L1152.5 2153.6L1153.2 2153.6L1153.8 2153.6L1154.5 2153.6L1155.2 2153.6L1155.8 2153.6L1156.5 2153.6L1157.1 2153.6L1157.8 2153.6L1158.5 2153.6L1159.1 2153.6L1159.8 2153.6L1160.4 2153.6L1161.1 2153.6L1161.8 2153.6L1162.4 2153.6L1163.1 2153.6L1163.7 2153.6L1164.4 2153.6L1165.0 2153.6L1165.7 2153.6L1166.4 2153.6L1167.0 2153.6L1167.7 2153.6L1168.3 2153.6L1169.0 2153.6L1169.7 2153.6L1170.3 2153.6L1171.0 2153.6L1171.6 2153.6L1172.3 2153.6L1173.0 2153.6L1173.6 2153.6L1174.3 2153.6L1174.9 2153.6L1175.6 2153.6L1176.2 2153.6L1176.9 2153.6L1177.6 2153.6L1178.2 2153.6L1178.9 2152.2L1179.5 2150.1L1180.2 2147.5L1180.9 2144.3L1181.5 2140.5L1182.2 2135.8L1182.8 2130.4" fill="none" stroke="#ea4a36" stroke-width="1.15" stroke-linejoin="round"/>
<path d="M1051.1 2091.2L1051.7 2083.9L1052.4 2076.3L1053.1 2068.4L1053.7 2060.5L1054.4 2052.5L1055.0 2044.6L1055.7 2036.9L1056.4 2029.4L1057.0 2022.4L1057.7 2015.9L1058.3 2009.9L1059.0 2004.7L1059.6 2000.3L1060.3 1996.8L1061.0 1994.3L1061.6 1992.7L1062.3 1992.2L1062.9 1993.2L1063.6 1996.1L1064.3 2000.9L1064.9 2007.3L1065.6 2015.2L1066.2 2024.2L1066.9 2034.2L1067.5 2044.8L1068.2 2055.7L1068.9 2066.7L1069.5 2077.5L1070.2 2087.8L1070.8 2097.6L1071.5 2106.6L1072.2 2114.8L1072.8 2122.2L1073.5 2128.7L1074.1 2134.3L1074.8 2139.1L1075.5 2143.1L1076.1 2146.5L1076.8 2149.2L1077.4 2151.4L1078.1 2153.2L1078.7 2153.6L1079.4 2153.6L1080.1 2153.6L1080.7 2153.6L1081.4 2153.6L1082.0 2153.6L1082.7 2153.6L1083.4 2153.6L1084.0 2153.6L1084.7 2153.6L1085.3 2153.6L1086.0 2153.6L1086.7 2153.6L1087.3 2153.6L1088.0 2153.6L1088.6 2153.6L1089.3 2153.6L1089.9 2153.6L1090.6 2153.6L1091.3 2153.6L1091.9 2153.6L1092.6 2153.6L1093.2 2153.6L1093.9 2153.6L1094.6 2153.6L1095.2 2153.6L1095.9 2153.6L1096.5 2153.6L1097.2 2153.6L1097.9 2153.6L1098.5 2153.6L1099.2 2153.6L1099.8 2153.6L1100.5 2153.6L1101.1 2153.6L1101.8 2153.6L1102.5 2153.6L1103.1 2153.6L1103.8 2153.6L1104.4 2153.6L1105.1 2153.6L1105.8 2153.6L1106.4 2153.6L1107.1 2153.6L1107.7 2153.6L1108.4 2153.6L1109.1 2153.6L1109.7 2153.6L1110.4 2153.6L1111.0 2153.6L1111.7 2153.6L1112.3 2153.6L1113.0 2153.6L1113.7 2153.6L1114.3 2153.6L1115.0 2153.6L1115.6 2153.6L1116.3 2153.6L1117.0 2153.6L1117.6 2153.6L1118.3 2153.6L1118.9 2153.6L1119.6 2153.6L1120.3 2153.6L1120.9 2153.6L1121.6 2153.6L1122.2 2153.6L1122.9 2153.6L1123.5 2153.6L1124.2 2153.6L1124.9 2153.6L1125.5 2153.6L1126.2 2153.6L1126.8 2153.6L1127.5 2153.6L1128.2 2153.6L1128.8 2153.6L1129.5 2153.6L1130.1 2153.6L1130.8 2153.6L1131.4 2153.6L1132.1 2153.6L1132.8 2153.6L1133.4 2153.6L1134.1 2153.6L1134.7 2153.6L1135.4 2153.6L1136.1 2153.6L1136.7 2153.6L1137.4 2153.6L1138.0 2153.6L1138.7 2153.6L1139.4 2153.6L1140.0 2153.6L1140.7 2153.6L1141.3 2153.6L1142.0 2153.6L1142.6 2153.6L1143.3 2153.6L1144.0 2153.6L1144.6 2153.6L1145.3 2153.6L1145.9 2153.6L1146.6 2153.6L1147.3 2153.6L1147.9 2153.6L1148.6 2153.6L1149.2 2153.6L1149.9 2153.6L1150.6 2153.6L1151.2 2153.6L1151.9 2153.6L1152.5 2153.6L1153.2 2153.6L1153.8 2153.6L1154.5 2153.6L1155.2 2153.6L1155.8 2153.6L1156.5 2153.6L1157.1 2153.6L1157.8 2153.6L1158.5 2153.6L1159.1 2153.6L1159.8 2153.6L1160.4 2153.6L1161.1 2153.6L1161.8 2153.6L1162.4 2153.6L1163.1 2153.6L1163.7 2153.6L1164.4 2153.6L1165.0 2153.6L1165.7 2153.6L1166.4 2153.6L1167.0 2153.6L1167.7 2153.6L1168.3 2153.6L1169.0 2153.6L1169.7 2153.6L1170.3 2153.6L1171.0 2153.6L1171.6 2153.6L1172.3 2153.6L1173.0 2153.6L1173.6 2153.6L1174.3 2153.6L1174.9 2153.6L1175.6 2153.6L1176.2 2153.6L1176.9 2153.6L1177.6 2153.6L1178.2 2153.6L1178.9 2153.6L1179.5 2153.6L1180.2 2153.6L1180.9 2153.6L1181.5 2153.6L1182.2 2153.6L1182.8 2153.6" fill="none" stroke="#3a58c4" stroke-width="1.15" stroke-linejoin="round"/>
<path d="M1116.03 1909.49 L1141.59 1909.49 L1141.59 2154.28 L1116.03 2154.28 Z" fill="#FBE785" fill-opacity="0.5"/>
<text x="1062.94" y="1934.52" font-size="18" text-anchor="middle" fill="#3153B4">C</text>
<text x="1085.34" y="1934.52" font-size="18" text-anchor="middle" fill="#E13A2A">T</text>
<text x="1108.39" y="1934.52" font-size="18" text-anchor="middle" fill="#1E9E49">A</text>
<text x="1131.19" y="1934.52" font-size="18" text-anchor="middle" fill="#EE5A24">T</text>
<text x="1152.53" y="1934.52" font-size="18" text-anchor="middle" fill="#1E9E49">A</text>
<text x="1170.71" y="1934.52" font-size="18" text-anchor="middle" fill="#1E9E49">A</text>
<text x="1047.8" y="2184.6" font-size="23" textLength="154.8" lengthAdjust="spacingAndGlyphs">Female MEFs</text>
<line x1="844.1" y1="2502.6" x2="990.6" y2="2502.6" stroke="#e8e8e8" stroke-width="2"/>
<line x1="911.96" y1="2499.7" x2="943.58" y2="2499.7" stroke="#2b2b2b" stroke-width="0.9"/>
<path d="M844.1 2500.4L844.8 2500.4L845.4 2500.4L846.1 2500.4L846.7 2500.4L847.4 2500.4L848.1 2500.4L848.7 2500.4L849.4 2500.4L850.0 2500.4L850.7 2500.4L851.4 2500.4L852.0 2500.4L852.7 2500.4L853.3 2500.4L854.0 2500.4L854.6 2500.4L855.3 2500.4L856.0 2500.4L856.6 2500.4L857.3 2500.4L857.9 2500.4L858.6 2500.4L859.3 2500.4L859.9 2500.4L860.6 2500.4L861.2 2500.4L861.9 2500.4L862.5 2500.4L863.2 2500.4L863.9 2500.4L864.5 2500.4L865.2 2500.4L865.8 2500.4L866.5 2500.4L867.2 2500.4L867.8 2500.4L868.5 2500.4L869.1 2500.4L869.8 2500.4L870.5 2500.4L871.1 2500.4L871.8 2500.4L872.4 2500.4L873.1 2500.4L873.7 2500.4L874.4 2500.4L875.1 2500.4L875.7 2500.4L876.4 2500.4L877.0 2500.4L877.7 2500.4L878.4 2500.4L879.0 2500.4L879.7 2500.4L880.3 2500.4L881.0 2500.4L881.7 2500.4L882.3 2500.4L883.0 2500.4L883.6 2499.3L884.3 2497.2L884.9 2494.6L885.6 2491.5L886.3 2487.7L886.9 2483.2L887.6 2478.0L888.2 2471.9L888.9 2465.0L889.6 2457.2L890.2 2448.4L890.9 2438.8L891.5 2428.4L892.2 2417.2L892.9 2405.3L893.5 2393.0L894.2 2380.5L894.8 2367.9L895.5 2355.5L896.1 2343.6L896.8 2332.4L897.5 2322.2L898.1 2313.3L898.8 2305.9L899.4 2300.2L900.1 2296.4L900.8 2294.6L901.0 2294.4L901.4 2294.8L902.1 2297.0L902.7 2301.2L903.4 2307.3L904.1 2315.0L904.7 2324.1L905.4 2334.5L906.0 2345.9L906.7 2357.9L907.3 2370.4L908.0 2383.0L908.7 2395.5L909.3 2407.7L910.0 2419.5L910.6 2430.5L911.3 2440.8L912.0 2450.3L912.6 2458.8L913.3 2466.5L913.9 2473.2L914.6 2479.1L915.3 2484.2L915.9 2488.5L916.6 2492.1L917.2 2495.1L917.9 2497.6L918.5 2499.6L919.2 2500.4L919.9 2500.4L920.5 2500.4L921.2 2500.4L921.8 2500.4L922.5 2500.4L923.2 2500.4L923.8 2500.4L924.5 2500.4L925.1 2500.4L925.8 2500.4L926.4 2500.4L927.1 2500.4L927.8 2500.4L928.4 2500.4L929.1 2500.4L929.7 2500.4L930.4 2500.4L931.1 2500.4L931.7 2500.4L932.4 2500.4L933.0 2500.3L933.7 2499.1L934.4 2497.7L935.0 2495.8L935.7 2493.6L936.3 2491.0L937.0 2487.9L937.6 2484.3L938.3 2480.1L939.0 2475.4L939.6 2470.0L940.3 2464.1L940.9 2457.6L941.6 2450.6L942.3 2443.1L942.9 2435.3L943.6 2427.2L944.2 2419.0L944.9 2410.8L945.6 2402.8L946.2 2395.2L946.9 2388.2L947.5 2381.9L948.2 2376.5L948.8 2372.1L949.5 2368.9L950.2 2366.9L950.8 2366.2L951.5 2366.9L952.1 2368.9L952.8 2372.1L953.5 2376.5L954.1 2381.9L954.8 2388.2L955.4 2395.2L956.1 2402.8L956.8 2410.8L957.4 2419.0L958.1 2425.5L958.7 2431.6L959.4 2436.9L960.0 2441.4L960.7 2444.8L961.4 2447.1L962.0 2448.1L962.7 2447.7L963.3 2446.0L964.0 2442.9L964.7 2438.4L965.3 2432.6L966.0 2425.7L966.6 2417.7L967.3 2408.8L968.0 2399.3L968.6 2389.3L969.3 2378.1L969.9 2367.2L970.6 2356.8L971.2 2347.2L971.9 2338.6L972.6 2331.2L973.2 2325.2L973.9 2320.8L974.5 2318.1L975.2 2317.2L975.9 2318.1L976.5 2320.8L977.2 2325.2L977.8 2331.2L978.5 2338.6L979.2 2347.2L979.8 2356.8L980.5 2367.2L981.1 2378.1L981.8 2389.3L982.4 2400.5L983.1 2411.5L983.8 2422.2L984.4 2432.4L985.1 2442.0L985.7 2450.9L986.4 2458.9L987.1 2466.2L987.7 2472.7L988.4 2478.4L989.0 2483.4L989.7 2487.6L990.3 2491.2L990.6 2492.4" fill="none" stroke="#2f9a57" stroke-width="1.25" stroke-linejoin="round"/>
<path d="M844.1 2500.4L844.8 2500.4L845.4 2500.4L846.1 2500.4L846.7 2500.4L847.4 2500.4L848.1 2500.4L848.7 2500.4L849.4 2500.4L850.0 2500.4L850.7 2500.4L851.4 2500.4L852.0 2500.4L852.7 2500.4L853.3 2500.4L854.0 2500.4L854.6 2500.4L855.3 2500.4L856.0 2500.4L856.6 2500.4L857.3 2500.4L857.9 2500.4L858.6 2500.4L859.3 2500.4L859.9 2500.4L860.6 2500.4L861.2 2499.8L861.9 2498.0L862.5 2495.7L863.2 2492.9L863.9 2489.6L864.5 2485.6L865.2 2480.8L865.8 2475.3L866.5 2468.9L867.2 2461.6L867.8 2453.5L868.5 2444.6L869.1 2435.0L869.8 2424.7L870.5 2413.9L871.1 2402.8L871.8 2391.6L872.4 2380.5L873.1 2369.9L873.7 2359.9L874.4 2351.0L875.1 2343.2L875.7 2336.9L876.4 2332.2L877.0 2329.4L877.7 2328.4L878.4 2329.4L879.0 2332.2L879.7 2336.9L880.3 2343.2L881.0 2351.0L881.7 2359.9L882.3 2369.9L883.0 2380.5L883.6 2391.6L884.3 2402.8L884.9 2413.9L885.6 2424.7L886.3 2435.0L886.9 2444.6L887.6 2453.5L888.2 2461.6L888.9 2468.9L889.6 2475.3L890.2 2480.8L890.9 2485.6L891.5 2489.6L892.2 2492.9L892.9 2495.7L893.5 2498.0L894.2 2499.8L894.8 2500.4L895.5 2500.4L896.1 2500.4L896.8 2500.4L897.5 2500.4L898.1 2500.4L898.8 2500.4L899.4 2500.4L900.1 2500.4L900.8 2500.4L901.4 2500.4L902.1 2500.4L902.7 2500.4L903.4 2500.4L904.1 2500.4L904.7 2500.4L905.4 2500.4L906.0 2500.4L906.7 2500.4L907.3 2500.4L908.0 2500.4L908.7 2500.4L909.3 2500.4L910.0 2500.4L910.6 2500.4L911.3 2499.8L912.0 2499.1L912.6 2498.2L913.3 2497.0L913.9 2495.6L914.6 2494.0L915.3 2492.0L915.9 2489.8L916.6 2487.2L917.2 2484.3L917.9 2481.1L918.5 2477.6L919.2 2473.8L919.9 2469.8L920.5 2465.7L921.2 2461.6L921.8 2457.4L922.5 2453.4L923.2 2449.7L923.8 2446.3L924.5 2443.4L925.1 2441.0L925.8 2439.2L926.4 2438.1L927.1 2437.8L927.8 2438.1L928.4 2439.2L929.1 2441.0L929.7 2443.4L930.4 2446.3L931.1 2449.7L931.7 2453.4L932.4 2457.4L933.0 2461.6L933.7 2465.7L934.4 2469.8L935.0 2473.8L935.7 2477.6L936.3 2481.1L937.0 2484.3L937.6 2487.2L938.3 2489.8L939.0 2492.0L939.6 2494.0L940.3 2495.6L940.9 2497.0L941.6 2498.2L942.3 2499.1L942.9 2499.8L943.6 2500.4L944.2 2500.4L944.9 2500.4L945.6 2500.4L946.2 2500.4L946.9 2500.4L947.5 2500.4L948.2 2500.4L948.8 2500.4L949.5 2500.4L950.2 2500.4L950.8 2500.4L951.5 2500.4L952.1 2500.4L952.8 2500.4L953.5 2500.4L954.1 2500.4L954.8 2500.4L955.4 2500.4L956.1 2500.4L956.8 2500.4L957.4 2500.4L958.1 2500.4L958.7 2500.4L959.4 2500.4L960.0 2500.4L960.7 2500.4L961.4 2500.4L962.0 2500.4L962.7 2500.4L963.3 2500.4L964.0 2500.4L964.7 2500.4L965.3 2500.4L966.0 2500.4L966.6 2500.4L967.3 2500.4L968.0 2500.4L968.6 2500.4L969.3 2500.4L969.9 2500.4L970.6 2500.4L971.2 2500.4L971.9 2500.4L972.6 2500.4L973.2 2500.4L973.9 2500.4L974.5 2500.4L975.2 2500.4L975.9 2500.4L976.5 2500.4L977.2 2500.4L977.8 2500.4L978.5 2500.4L979.2 2500.4L979.8 2500.4L980.5 2500.4L981.1 2500.4L981.8 2500.4L982.4 2500.4L983.1 2500.4L983.8 2500.4L984.4 2499.4L985.1 2496.8L985.7 2493.6L986.4 2489.6L987.1 2484.8L987.7 2479.0L988.4 2472.1L989.0 2464.1L989.7 2454.9L990.3 2444.4L990.6 2439.9" fill="none" stroke="#ea4a36" stroke-width="1.15" stroke-linejoin="round"/>
<path d="M844.5 2386.0L845.2 2376.2L845.8 2366.7L846.5 2357.6L847.1 2348.9L847.8 2341.0L848.5 2333.9L849.1 2327.8L849.8 2322.7L850.4 2318.9L851.1 2316.3L851.7 2315.1L852.0 2315.0L852.4 2315.4L853.1 2317.6L853.7 2321.9L854.4 2328.0L855.0 2335.8L855.7 2345.0L856.4 2355.3L857.0 2366.5L857.7 2378.3L858.3 2390.3L859.0 2402.4L859.7 2414.2L860.3 2425.5L861.0 2436.2L861.6 2446.1L862.3 2455.2L862.9 2463.4L863.6 2470.6L864.3 2477.0L864.9 2482.4L865.6 2487.1L866.2 2491.0L866.9 2494.2L867.6 2496.9L868.2 2499.0L868.9 2500.4L869.5 2500.4L870.2 2500.4L870.8 2500.4L871.5 2500.4L872.2 2500.4L872.8 2500.4L873.5 2500.4L874.1 2500.4L874.8 2500.4L875.5 2500.4L876.1 2500.4L876.8 2500.4L877.4 2500.4L878.1 2500.4L878.8 2500.4L879.4 2500.4L880.1 2500.4L880.7 2500.4L881.4 2500.4L882.0 2500.4L882.7 2500.4L883.4 2500.4L884.0 2500.4L884.7 2500.4L885.3 2500.4L886.0 2500.4L886.7 2500.4L887.3 2500.4L888.0 2500.4L888.6 2500.4L889.3 2500.4L890.0 2500.4L890.6 2500.4L891.3 2500.4L891.9 2500.4L892.6 2500.4L893.2 2500.4L893.9 2500.4L894.6 2500.4L895.2 2500.4L895.9 2500.4L896.5 2500.4L897.2 2500.4L897.9 2500.4L898.5 2500.4L899.2 2500.4L899.8 2500.4L900.5 2500.4L901.2 2500.4L901.8 2500.4L902.5 2500.4L903.1 2500.4L903.8 2500.4L904.4 2500.4L905.1 2500.4L905.8 2500.4L906.4 2500.4L907.1 2500.4L907.7 2500.4L908.4 2500.4L909.1 2500.4L909.7 2500.4L910.4 2500.1L911.0 2499.4L911.7 2498.5L912.4 2497.4L913.0 2496.0L913.7 2494.4L914.3 2492.5L915.0 2490.3L915.6 2487.7L916.3 2484.8L917.0 2481.6L917.6 2478.0L918.3 2474.1L918.9 2470.1L919.6 2465.8L920.3 2461.4L920.9 2457.1L921.6 2452.8L922.2 2448.8L922.9 2445.1L923.6 2441.8L924.2 2439.0L924.9 2436.9L925.5 2435.5L926.2 2434.8L926.4 2434.7L926.8 2434.9L927.5 2435.7L928.2 2437.3L928.8 2439.5L929.5 2442.4L930.1 2445.8L930.8 2449.6L931.5 2453.7L932.1 2457.9L932.8 2462.3L933.4 2466.7L934.1 2470.9L934.7 2474.9L935.4 2478.7L936.1 2482.2L936.7 2485.4L937.4 2488.2L938.0 2490.7L938.7 2492.9L939.4 2494.8L940.0 2496.3L940.7 2497.6L941.3 2498.7L942.0 2499.5L942.7 2500.2L943.3 2500.4L944.0 2500.4L944.6 2500.4L945.3 2500.4L945.9 2500.4L946.6 2500.4L947.3 2500.4L947.9 2500.4L948.6 2500.4L949.2 2500.4L949.9 2500.4L950.6 2500.4L951.2 2500.4L951.9 2500.4L952.5 2500.4L953.2 2500.4L953.9 2500.4L954.5 2500.4L955.2 2500.4L955.8 2500.4L956.5 2500.4L957.1 2500.4L957.8 2500.4L958.5 2500.4L959.1 2500.4L959.8 2500.4L960.4 2500.4L961.1 2500.4L961.8 2500.4L962.4 2500.4L963.1 2500.4L963.7 2500.4L964.4 2500.4L965.1 2500.4L965.7 2500.4L966.4 2500.4L967.0 2500.4L967.7 2500.4L968.3 2500.4L969.0 2500.4L969.7 2500.4L970.3 2500.4L971.0 2500.4L971.6 2500.4L972.3 2500.4L973.0 2500.4L973.6 2500.4L974.3 2500.4L974.9 2500.4L975.6 2500.4L976.3 2500.4L976.9 2500.4L977.6 2500.4L978.2 2500.4L978.9 2500.4L979.5 2500.4L980.2 2500.4L980.9 2500.4L981.5 2500.4L982.2 2500.4L982.8 2500.4L983.5 2500.4L984.2 2500.4L984.8 2500.4L985.5 2500.4L986.1 2500.4L986.8 2500.4L987.5 2500.4L988.1 2500.4L988.8 2500.4L989.4 2500.4L990.1 2500.4L990.6 2500.4" fill="none" stroke="#3a58c4" stroke-width="1.15" stroke-linejoin="round"/>
<path d="M914.99 2248.06 L941.86 2248.06 L938.97 2503.66 L911.96 2503.66 Z" fill="#FBE785" fill-opacity="0.5"/>
<text x="855.04" y="2280.99" font-size="18" text-anchor="middle" fill="#3153B4">C</text>
<text x="880.34" y="2280.99" font-size="18" text-anchor="middle" fill="#E13A2A">T</text>
<text x="903.39" y="2280.99" font-size="18" text-anchor="middle" fill="#1E9E49">A</text>
<text x="927.77" y="2280.99" font-size="18" text-anchor="middle" fill="#EE5A24">T</text>
<text x="950.82" y="2280.99" font-size="18" text-anchor="middle" fill="#1E9E49">A</text>
<text x="975.2" y="2280.99" font-size="18" text-anchor="middle" fill="#1E9E49">A</text>
<text x="927.77" y="2303" font-size="18" text-anchor="middle" fill="#3153B4">C</text>
<text x="888.6" y="2528.7" font-size="23" textLength="82.9" lengthAdjust="spacingAndGlyphs">F FBS5</text>
<line x1="1192" y1="2505.4" x2="1202.5" y2="2505.4" stroke="#e4e4e4" stroke-width="1.2"/>
<path d="M1047.1 2501.3L1047.8 2501.3L1048.4 2501.3L1049.1 2501.3L1049.8 2501.3L1050.4 2501.3L1051.1 2501.3L1051.7 2501.3L1052.4 2501.3L1053.1 2501.3L1053.7 2501.3L1054.4 2501.3L1055.0 2501.3L1055.7 2501.3L1056.4 2501.3L1057.0 2501.3L1057.7 2501.3L1058.3 2501.3L1059.0 2501.3L1059.6 2501.3L1060.3 2501.3L1061.0 2501.3L1061.6 2501.3L1062.3 2501.3L1062.9 2501.3L1063.6 2501.3L1064.3 2501.3L1064.9 2501.3L1065.6 2501.3L1066.2 2501.3L1066.9 2501.3L1067.5 2501.3L1068.2 2501.3L1068.9 2501.3L1069.5 2501.3L1070.2 2501.3L1070.8 2501.3L1071.5 2501.3L1072.2 2501.3L1072.8 2501.3L1073.5 2501.3L1074.1 2501.3L1074.8 2501.3L1075.5 2501.3L1076.1 2501.3L1076.8 2501.3L1077.4 2501.3L1078.1 2501.3L1078.7 2501.3L1079.4 2501.3L1080.1 2501.3L1080.7 2501.3L1081.4 2501.3L1082.0 2501.3L1082.7 2501.3L1083.4 2501.3L1084.0 2500.3L1084.7 2498.2L1085.3 2495.5L1086.0 2492.2L1086.7 2488.3L1087.3 2483.6L1088.0 2478.1L1088.6 2471.6L1089.3 2464.3L1089.9 2455.9L1090.6 2446.6L1091.3 2436.3L1091.9 2425.2L1092.6 2413.3L1093.2 2400.9L1093.9 2388.0L1094.6 2375.0L1095.2 2362.1L1095.9 2349.7L1096.5 2337.9L1097.2 2327.1L1097.9 2317.6L1098.5 2309.8L1099.2 2303.7L1099.8 2299.6L1100.5 2297.6L1100.8 2297.5L1101.1 2297.9L1101.8 2300.3L1102.5 2304.7L1103.1 2311.2L1103.8 2319.4L1104.4 2329.2L1105.1 2340.2L1105.8 2352.1L1106.4 2364.7L1107.1 2377.6L1107.7 2390.6L1108.4 2403.4L1109.1 2415.8L1109.7 2427.5L1110.4 2438.4L1111.0 2448.5L1111.7 2457.7L1112.3 2465.8L1113.0 2473.0L1113.7 2479.2L1114.3 2484.6L1115.0 2489.1L1115.6 2492.9L1116.3 2496.1L1117.0 2498.6L1117.6 2500.7L1118.3 2501.3L1118.9 2501.3L1119.6 2501.3L1120.3 2501.3L1120.9 2501.3L1121.6 2501.3L1122.2 2501.3L1122.9 2501.3L1123.5 2501.3L1124.2 2501.3L1124.9 2501.3L1125.5 2501.3L1126.2 2501.3L1126.8 2501.3L1127.5 2501.3L1128.2 2501.3L1128.8 2501.3L1129.5 2501.3L1130.1 2501.3L1130.8 2501.3L1131.4 2501.3L1132.1 2501.0L1132.8 2499.7L1133.4 2497.9L1134.1 2495.8L1134.7 2493.1L1135.4 2489.8L1136.1 2486.0L1136.7 2481.4L1137.4 2476.2L1138.0 2470.2L1138.7 2463.5L1139.4 2456.2L1140.0 2448.3L1140.7 2440.0L1141.3 2431.4L1142.0 2422.8L1142.6 2414.4L1143.3 2406.4L1144.0 2399.1L1144.6 2392.8L1145.3 2387.5L1145.9 2383.7L1146.6 2381.3L1147.3 2380.5L1147.9 2381.3L1148.6 2383.7L1149.2 2387.5L1149.9 2392.8L1150.6 2399.1L1151.2 2406.4L1151.9 2414.4L1152.5 2422.8L1153.2 2431.4L1153.8 2440.0L1154.5 2446.7L1155.2 2452.3L1155.8 2456.7L1156.5 2459.8L1157.1 2461.3L1157.8 2461.3L1158.5 2459.5L1159.1 2456.0L1159.8 2450.9L1160.4 2444.1L1161.1 2435.8L1161.8 2426.2L1162.4 2415.6L1163.1 2403.4L1163.7 2390.7L1164.4 2378.1L1165.0 2366.1L1165.7 2354.9L1166.4 2344.9L1167.0 2336.4L1167.7 2329.9L1168.3 2325.5L1169.0 2323.3L1169.3 2323.2L1169.7 2323.6L1170.3 2326.2L1171.0 2331.0L1171.6 2338.0L1172.3 2346.7L1173.0 2357.0L1173.6 2368.4L1174.3 2380.6L1174.9 2393.2L1175.6 2405.9L1176.2 2418.3L1176.9 2430.2L1177.6 2441.3L1178.2 2451.6L1178.9 2460.8L1179.5 2469.0L1180.2 2476.2L1180.9 2482.3L1181.5 2487.4L1182.2 2491.7L1182.8 2495.1L1183.5 2497.9L1183.9 2499.3" fill="none" stroke="#2f9a57" stroke-width="1.25" stroke-linejoin="round"/>
<path d="M1047.1 2501.3L1047.8 2501.3L1048.4 2501.3L1049.1 2501.3L1049.8 2501.3L1050.4 2501.3L1051.1 2501.3L1051.7 2501.3L1052.4 2501.3L1053.1 2501.3L1053.7 2501.3L1054.4 2501.3L1055.0 2501.3L1055.7 2501.3L1056.4 2501.3L1057.0 2501.3L1057.7 2501.3L1058.3 2501.3L1059.0 2501.3L1059.6 2501.3L1060.3 2501.3L1061.0 2501.3L1061.6 2501.3L1062.3 2500.9L1062.9 2499.3L1063.6 2497.3L1064.3 2494.7L1064.9 2491.7L1065.6 2488.0L1066.2 2483.6L1066.9 2478.4L1067.5 2472.5L1068.2 2465.8L1068.9 2458.2L1069.5 2449.9L1070.2 2440.9L1070.8 2431.3L1071.5 2421.3L1072.2 2411.0L1072.8 2400.6L1073.5 2390.4L1074.1 2380.7L1074.8 2371.7L1075.5 2363.7L1076.1 2356.9L1076.8 2351.6L1077.4 2347.9L1078.1 2345.9L1078.5 2345.6L1078.7 2345.7L1079.4 2347.3L1080.1 2350.7L1080.7 2355.8L1081.4 2362.3L1082.0 2370.1L1082.7 2378.9L1083.4 2388.5L1084.0 2398.6L1084.7 2408.9L1085.3 2419.2L1086.0 2429.3L1086.7 2439.0L1087.3 2448.2L1088.0 2456.6L1088.6 2464.3L1089.3 2471.2L1089.9 2477.3L1090.6 2482.6L1091.3 2487.2L1091.9 2491.0L1092.6 2494.2L1093.2 2496.8L1093.9 2498.9L1094.6 2500.6L1095.2 2501.3L1095.9 2501.3L1096.5 2501.3L1097.2 2501.3L1097.9 2501.3L1098.5 2501.3L1099.2 2501.3L1099.8 2501.3L1100.5 2501.3L1101.1 2501.3L1101.8 2501.3L1102.5 2501.3L1103.1 2501.3L1103.8 2501.3L1104.4 2501.3L1105.1 2501.3L1105.8 2501.3L1106.4 2501.3L1107.1 2501.3L1107.7 2501.3L1108.4 2501.3L1109.1 2500.3L1109.7 2498.7L1110.4 2496.6L1111.0 2494.1L1111.7 2491.0L1112.3 2487.3L1113.0 2482.9L1113.7 2477.8L1114.3 2472.0L1115.0 2465.4L1115.6 2458.1L1116.3 2450.1L1117.0 2441.5L1117.6 2432.5L1118.3 2423.2L1118.9 2413.9L1119.6 2404.6L1120.3 2395.7L1120.9 2387.5L1121.6 2380.1L1122.2 2373.9L1122.9 2368.9L1123.5 2365.5L1124.2 2363.6L1124.6 2363.3L1124.9 2363.5L1125.5 2365.0L1126.2 2368.1L1126.8 2372.8L1127.5 2378.8L1128.2 2385.9L1128.8 2394.0L1129.5 2402.8L1130.1 2412.0L1130.8 2421.4L1131.4 2430.7L1132.1 2439.8L1132.8 2448.4L1133.4 2456.5L1134.1 2464.0L1134.7 2470.7L1135.4 2476.7L1136.1 2482.0L1136.7 2486.5L1137.4 2490.3L1138.0 2493.5L1138.7 2496.2L1139.4 2498.3L1140.0 2500.0L1140.7 2501.3L1141.3 2501.3L1142.0 2501.3L1142.6 2501.3L1143.3 2501.3L1144.0 2501.3L1144.6 2501.3L1145.3 2501.3L1145.9 2501.3L1146.6 2501.3L1147.3 2501.3L1147.9 2501.3L1148.6 2501.3L1149.2 2501.3L1149.9 2501.3L1150.6 2501.3L1151.2 2501.3L1151.9 2501.3L1152.5 2501.3L1153.2 2501.3L1153.8 2501.3L1154.5 2501.3L1155.2 2501.3L1155.8 2501.3L1156.5 2501.3L1157.1 2501.3L1157.8 2501.3L1158.5 2501.3L1159.1 2501.3L1159.8 2501.3L1160.4 2501.3L1161.1 2501.3L1161.8 2501.3L1162.4 2501.3L1163.1 2501.3L1163.7 2501.3L1164.4 2501.3L1165.0 2501.3L1165.7 2501.3L1166.4 2501.3L1167.0 2501.3L1167.7 2501.3L1168.3 2501.3L1169.0 2501.3L1169.7 2501.3L1170.3 2501.3L1171.0 2501.3L1171.6 2501.3L1172.3 2501.3L1173.0 2501.3L1173.6 2501.3L1174.3 2501.3L1174.9 2501.3L1175.6 2501.3L1176.2 2501.3L1176.9 2501.3L1177.6 2501.3L1178.2 2501.3L1178.9 2500.3L1179.5 2497.7L1180.2 2494.5L1180.9 2490.5L1181.5 2485.6L1182.2 2479.8L1182.8 2472.9L1183.5 2464.9L1183.9 2459.5" fill="none" stroke="#ea4a36" stroke-width="1.15" stroke-linejoin="round"/>
<path d="M1047.5 2420.1L1048.2 2408.9L1048.8 2397.5L1049.5 2386.3L1050.2 2375.5L1050.8 2365.6L1051.5 2356.7L1052.1 2349.3L1052.8 2343.6L1053.5 2339.7L1054.1 2337.8L1054.4 2337.6L1054.8 2338.0L1055.4 2340.2L1056.1 2344.3L1056.7 2350.1L1057.4 2357.6L1058.1 2366.3L1058.7 2376.1L1059.4 2386.6L1060.0 2397.6L1060.7 2408.7L1061.4 2419.7L1062.0 2430.4L1062.7 2440.6L1063.3 2450.0L1064.0 2458.7L1064.7 2466.5L1065.3 2473.5L1066.0 2479.5L1066.6 2484.7L1067.3 2489.1L1067.9 2492.7L1068.6 2495.8L1069.3 2498.2L1069.9 2500.2L1070.6 2501.3L1071.2 2501.3L1071.9 2501.3L1072.6 2501.3L1073.2 2501.3L1073.9 2501.3L1074.5 2501.3L1075.2 2501.3L1075.8 2501.3L1076.5 2501.3L1077.2 2501.3L1077.8 2501.3L1078.5 2501.3L1079.1 2501.3L1079.8 2501.3L1080.5 2501.3L1081.1 2501.3L1081.8 2501.3L1082.4 2501.3L1083.1 2501.3L1083.8 2501.3L1084.4 2501.3L1085.1 2501.3L1085.7 2501.3L1086.4 2501.3L1087.0 2501.3L1087.7 2501.3L1088.4 2501.3L1089.0 2501.3L1089.7 2501.3L1090.3 2501.3L1091.0 2501.3L1091.7 2501.3L1092.3 2501.3L1093.0 2501.3L1093.6 2501.3L1094.3 2501.3L1095.0 2501.3L1095.6 2501.3L1096.3 2501.3L1096.9 2501.3L1097.6 2501.3L1098.2 2501.3L1098.9 2501.3L1099.6 2501.3L1100.2 2501.3L1100.9 2501.3L1101.5 2501.3L1102.2 2501.3L1102.9 2501.3L1103.5 2501.3L1104.2 2501.3L1104.8 2501.3L1105.5 2501.3L1106.2 2501.3L1106.8 2501.3L1107.5 2501.3L1108.1 2501.3L1108.8 2501.3L1109.4 2501.3L1110.1 2501.3L1110.8 2501.3L1111.4 2501.3L1112.1 2501.3L1112.7 2501.3L1113.4 2501.3L1114.1 2501.3L1114.7 2501.3L1115.4 2501.3L1116.0 2501.3L1116.7 2501.3L1117.4 2501.3L1118.0 2501.3L1118.7 2501.3L1119.3 2501.3L1120.0 2501.3L1120.6 2501.3L1121.3 2501.3L1122.0 2501.3L1122.6 2501.3L1123.3 2501.3L1123.9 2501.3L1124.6 2501.3L1125.3 2501.3L1125.9 2501.3L1126.6 2501.3L1127.2 2501.3L1127.9 2501.3L1128.6 2501.3L1129.2 2501.3L1129.9 2501.3L1130.5 2501.3L1131.2 2501.3L1131.8 2501.3L1132.5 2501.3L1133.2 2501.3L1133.8 2501.3L1134.5 2501.3L1135.1 2501.3L1135.8 2501.3L1136.5 2501.3L1137.1 2501.3L1137.8 2501.3L1138.4 2501.3L1139.1 2501.3L1139.7 2501.3L1140.4 2501.3L1141.1 2501.3L1141.7 2501.3L1142.4 2501.3L1143.0 2501.3L1143.7 2501.3L1144.4 2501.3L1145.0 2501.3L1145.7 2501.3L1146.3 2501.3L1147.0 2501.3L1147.7 2501.3L1148.3 2501.3L1149.0 2501.3L1149.6 2501.3L1150.3 2501.3L1150.9 2501.3L1151.6 2501.3L1152.3 2501.3L1152.9 2501.3L1153.6 2501.3L1154.2 2501.3L1154.9 2501.3L1155.6 2501.3L1156.2 2501.3L1156.9 2501.3L1157.5 2501.3L1158.2 2501.3L1158.9 2501.3L1159.5 2501.3L1160.2 2501.3L1160.8 2501.3L1161.5 2501.3L1162.1 2501.3L1162.8 2501.3L1163.5 2501.3L1164.1 2501.3L1164.8 2501.3L1165.4 2501.3L1166.1 2501.3L1166.8 2501.3L1167.4 2501.3L1168.1 2501.3L1168.7 2501.3L1169.4 2501.3L1170.1 2501.3L1170.7 2501.3L1171.4 2501.3L1172.0 2501.3L1172.7 2501.3L1173.3 2501.3L1174.0 2501.3L1174.7 2501.3L1175.3 2501.3L1176.0 2501.3L1176.6 2501.3L1177.3 2501.3L1178.0 2501.3L1178.6 2501.3L1179.3 2501.3L1179.9 2501.3L1180.6 2501.3L1181.3 2501.3L1181.9 2501.3L1182.6 2501.3L1183.2 2501.3L1183.9 2501.3" fill="none" stroke="#3a58c4" stroke-width="1.15" stroke-linejoin="round"/>
<path d="M1116.69 2256.23 L1143.57 2256.23 L1140.41 2505.9 L1113.93 2505.9 Z" fill="#FBE785" fill-opacity="0.5"/>
<text x="1057.01" y="2282.58" font-size="18" text-anchor="middle" fill="#3153B4">C</text>
<text x="1082.31" y="2282.58" font-size="18" text-anchor="middle" fill="#E13A2A">T</text>
<text x="1103.12" y="2282.58" font-size="18" text-anchor="middle" fill="#1E9E49">A</text>
<text x="1129.47" y="2282.58" font-size="18" text-anchor="middle" fill="#EE5A24">T</text>
<text x="1152.53" y="2282.58" font-size="18" text-anchor="middle" fill="#1E9E49">A</text>
<text x="1174.01" y="2282.58" font-size="18" text-anchor="middle" fill="#1E9E49">A</text>
<text x="1080.7" y="2533.6" font-size="23" textLength="88.7" lengthAdjust="spacingAndGlyphs">M FBS5</text>
<rect x="405.4" y="2079.8" width="365" height="32.8" fill="#fff"/>
<rect x="405.4" y="2112.6" width="365" height="31.7" fill="#D9D9D9"/>
<rect x="405.4" y="2144.3" width="365" height="31.6" fill="#D9D9D9"/>
<rect x="405.4" y="2175.9" width="365" height="28.2" fill="#E2EFC5"/>
<rect x="405.4" y="2204.1" width="365" height="27.2" fill="#E2EFC5"/>
<rect x="405.4" y="2231.3" width="365" height="27.1" fill="#E2EFC5"/>
<rect x="405.4" y="2258.4" width="365" height="27.4" fill="#E2EFC5"/>
<rect x="405.4" y="2285.8" width="365" height="27.7" fill="#E2EFC5"/>
<rect x="405.4" y="2313.5" width="365" height="29" fill="#E2EFC5"/>
<rect x="405.4" y="2342.5" width="365" height="27.1" fill="#E2EFC5"/>
<rect x="405.4" y="2369.6" width="365" height="27.2" fill="#E2EFC5"/>
<rect x="405.4" y="2396.8" width="365" height="27.4" fill="#E2EFC5"/>
<rect x="405.4" y="2424.2" width="365" height="27.1" fill="#E2EFC5"/>
<rect x="405.4" y="2451.3" width="365" height="29" fill="#FCD5B6"/>
<rect x="405.4" y="2480.3" width="365" height="30.3" fill="#FCD5B6"/>
<line x1="405.4" y1="2112.6" x2="770.4" y2="2112.6" stroke="#1a1a1a" stroke-width="2.6"/>
<line x1="405.4" y1="2144.3" x2="770.4" y2="2144.3" stroke="#3a3a3a" stroke-width="1.1"/>
<line x1="405.4" y1="2175.9" x2="770.4" y2="2175.9" stroke="#1a1a1a" stroke-width="2.6"/>
<line x1="405.4" y1="2204.1" x2="770.4" y2="2204.1" stroke="#3a3a3a" stroke-width="1.1"/>
<line x1="405.4" y1="2231.3" x2="770.4" y2="2231.3" stroke="#3a3a3a" stroke-width="1.1"/>
<line x1="405.4" y1="2258.4" x2="770.4" y2="2258.4" stroke="#3a3a3a" stroke-width="1.1"/>
<line x1="405.4" y1="2285.8" x2="770.4" y2="2285.8" stroke="#3a3a3a" stroke-width="1.1"/>
<line x1="405.4" y1="2313.5" x2="770.4" y2="2313.5" stroke="#1a1a1a" stroke-width="2.6"/>
<line x1="405.4" y1="2342.5" x2="770.4" y2="2342.5" stroke="#3a3a3a" stroke-width="1.1"/>
<line x1="405.4" y1="2369.6" x2="770.4" y2="2369.6" stroke="#3a3a3a" stroke-width="1.1"/>
<line x1="405.4" y1="2396.8" x2="770.4" y2="2396.8" stroke="#3a3a3a" stroke-width="1.1"/>
<line x1="405.4" y1="2424.2" x2="770.4" y2="2424.2" stroke="#3a3a3a" stroke-width="1.1"/>
<line x1="405.4" y1="2451.3" x2="770.4" y2="2451.3" stroke="#1a1a1a" stroke-width="2.6"/>
<line x1="405.4" y1="2480.3" x2="770.4" y2="2480.3" stroke="#3a3a3a" stroke-width="2"/>
<line x1="551.4" y1="2079.8" x2="551.4" y2="2510.6" stroke="#2a2a2a" stroke-width="1.2"/>
<line x1="641.6" y1="2079.8" x2="641.6" y2="2510.6" stroke="#2a2a2a" stroke-width="1.2"/>
<rect x="405.4" y="2079.8" width="365" height="430.8" fill="none" stroke="#000" stroke-width="2.6"/>
<text transform="translate(480.1 2102.95) scale(1.12 1)" font-size="17.1" text-anchor="middle" font-weight="bold">Lines</text>
<text transform="translate(596.6 2102.95) scale(1.12 1)" font-size="17.1" text-anchor="middle" font-weight="bold">SNP</text>
<text transform="translate(706.2 2102.95) scale(1.12 1)" font-size="17.1" text-anchor="middle" font-weight="bold">Expression</text>
<text transform="translate(485.7 2136.42) scale(1.12 1)" font-size="17.1" text-anchor="middle">Female MEFs</text>
<text transform="translate(596.6 2138.02) scale(1.12 1)" font-size="17.1" text-anchor="middle">C</text>
<text transform="translate(708.8 2136.42) scale(1.12 1)" font-size="17.1" text-anchor="middle">Monoallelic</text>
<text transform="translate(482.8 2167.25) scale(1.12 1)" font-size="17.1" text-anchor="middle">Male MEFs</text>
<text transform="translate(596.6 2168.85) scale(1.12 1)" font-size="17.1" text-anchor="middle">C</text>
<text transform="translate(708.8 2167.25) scale(1.12 1)" font-size="17.1" text-anchor="middle">Monoallelic</text>
<text transform="translate(480.1 2197.02) scale(1.12 1)" font-size="17.1" text-anchor="middle">F FBS1 iPSCs</text>
<text transform="translate(596.6 2198.62) scale(1.12 1)" font-size="17.1" text-anchor="middle">C/T</text>
<text transform="translate(707 2197.02) scale(1.12 1)" font-size="17.1" text-anchor="middle">Biallelic</text>
<text transform="translate(480.1 2224.16) scale(1.12 1)" font-size="17.1" text-anchor="middle">F FBS2 iPSCs</text>
<text transform="translate(596.6 2225.76) scale(1.12 1)" font-size="17.1" text-anchor="middle">C/T</text>
<text transform="translate(707 2224.16) scale(1.12 1)" font-size="17.1" text-anchor="middle">Biallelic</text>
<text transform="translate(480.1 2251.57) scale(1.12 1)" font-size="17.1" text-anchor="middle">F FBS3 iPSCs</text>
<text transform="translate(596.6 2253.17) scale(1.12 1)" font-size="17.1" text-anchor="middle">C/T</text>
<text transform="translate(707 2251.57) scale(1.12 1)" font-size="17.1" text-anchor="middle">Biallelic</text>
<text transform="translate(480.1 2278.71) scale(1.12 1)" font-size="17.1" text-anchor="middle">F FBS4 iPSCs</text>
<text transform="translate(596.6 2280.31) scale(1.12 1)" font-size="17.1" text-anchor="middle">C/T</text>
<text transform="translate(707 2278.71) scale(1.12 1)" font-size="17.1" text-anchor="middle">Biallelic</text>
<text transform="translate(480.1 2305.85) scale(1.12 1)" font-size="17.1" text-anchor="middle">F FBS5 iPSCs</text>
<text transform="translate(596.6 2307.45) scale(1.12 1)" font-size="17.1" text-anchor="middle">C/T</text>
<text transform="translate(707 2305.85) scale(1.12 1)" font-size="17.1" text-anchor="middle">Biallelic</text>
<text transform="translate(480.1 2335.36) scale(1.12 1)" font-size="17.1" text-anchor="middle">M FBS1 iPSCs</text>
<text transform="translate(596.6 2336.96) scale(1.12 1)" font-size="17.1" text-anchor="middle">C</text>
<text transform="translate(705.7 2335.36) scale(1.12 1)" font-size="17.1" text-anchor="middle">Monoallelic</text>
<text transform="translate(480.1 2362.5) scale(1.12 1)" font-size="17.1" text-anchor="middle">M FBS2 iPSCs</text>
<text transform="translate(596.6 2364.1) scale(1.12 1)" font-size="17.1" text-anchor="middle">C</text>
<text transform="translate(705.7 2362.5) scale(1.12 1)" font-size="17.1" text-anchor="middle">Monoallelic</text>
<text transform="translate(480.1 2389.91) scale(1.12 1)" font-size="17.1" text-anchor="middle">M FBS3 iPSCs</text>
<text transform="translate(596.6 2391.51) scale(1.12 1)" font-size="17.1" text-anchor="middle">C</text>
<text transform="translate(705.7 2389.91) scale(1.12 1)" font-size="17.1" text-anchor="middle">Monoallelic</text>
<text transform="translate(480.1 2417.05) scale(1.12 1)" font-size="17.1" text-anchor="middle">M FBS4 iPSCs</text>
<text transform="translate(596.6 2418.65) scale(1.12 1)" font-size="17.1" text-anchor="middle">C</text>
<text transform="translate(705.7 2417.05) scale(1.12 1)" font-size="17.1" text-anchor="middle">Monoallelic</text>
<text transform="translate(480.1 2444.19) scale(1.12 1)" font-size="17.1" text-anchor="middle">M FBS5 iPSCs</text>
<text transform="translate(596.6 2445.79) scale(1.12 1)" font-size="17.1" text-anchor="middle">C</text>
<text transform="translate(705.7 2444.19) scale(1.12 1)" font-size="17.1" text-anchor="middle">Monoallelic</text>
<text transform="translate(480.1 2472.91) scale(1.12 1)" font-size="17.1" text-anchor="middle">F KSR2 iPSCs</text>
<text transform="translate(596.6 2474.51) scale(1.12 1)" font-size="17.1" text-anchor="middle">C/T</text>
<text transform="translate(704.1 2472.91) scale(1.12 1)" font-size="17.1" text-anchor="middle">Biallelic</text>
<text transform="translate(480.1 2501.9) scale(1.12 1)" font-size="17.1" text-anchor="middle">M KSR5 iPSCs</text>
<text transform="translate(596.6 2503.5) scale(1.12 1)" font-size="17.1" text-anchor="middle">C/T</text>
<text transform="translate(704.1 2501.9) scale(1.12 1)" font-size="17.1" text-anchor="middle">Biallelic</text>
<rect x="1230.1" y="2084.5" width="367.7" height="32.9" fill="#fff"/>
<rect x="1230.1" y="2117.4" width="367.7" height="32.2" fill="#D9D9D9"/>
<rect x="1230.1" y="2149.6" width="367.7" height="32.1" fill="#D9D9D9"/>
<rect x="1230.1" y="2181.7" width="367.7" height="28.5" fill="#E2EFC5"/>
<rect x="1230.1" y="2210.2" width="367.7" height="27.1" fill="#E2EFC5"/>
<rect x="1230.1" y="2237.3" width="367.7" height="27.4" fill="#E2EFC5"/>
<rect x="1230.1" y="2264.7" width="367.7" height="27.2" fill="#E2EFC5"/>
<rect x="1230.1" y="2291.9" width="367.7" height="28.2" fill="#E2EFC5"/>
<rect x="1230.1" y="2320.1" width="367.7" height="28.4" fill="#E2EFC5"/>
<rect x="1230.1" y="2348.5" width="367.7" height="27.7" fill="#E2EFC5"/>
<rect x="1230.1" y="2376.2" width="367.7" height="27.1" fill="#E2EFC5"/>
<rect x="1230.1" y="2403.3" width="367.7" height="27.7" fill="#E2EFC5"/>
<rect x="1230.1" y="2431" width="367.7" height="27.7" fill="#E2EFC5"/>
<rect x="1230.1" y="2458.7" width="367.7" height="29" fill="#FCD5B6"/>
<rect x="1230.1" y="2487.7" width="367.7" height="30.3" fill="#FCD5B6"/>
<line x1="1230.1" y1="2117.4" x2="1597.8" y2="2117.4" stroke="#1a1a1a" stroke-width="2.6"/>
<line x1="1230.1" y1="2149.6" x2="1597.8" y2="2149.6" stroke="#3a3a3a" stroke-width="1.1"/>
<line x1="1230.1" y1="2181.7" x2="1597.8" y2="2181.7" stroke="#1a1a1a" stroke-width="2.6"/>
<line x1="1230.1" y1="2210.2" x2="1597.8" y2="2210.2" stroke="#3a3a3a" stroke-width="1.1"/>
<line x1="1230.1" y1="2237.3" x2="1597.8" y2="2237.3" stroke="#3a3a3a" stroke-width="1.1"/>
<line x1="1230.1" y1="2264.7" x2="1597.8" y2="2264.7" stroke="#3a3a3a" stroke-width="1.1"/>
<line x1="1230.1" y1="2291.9" x2="1597.8" y2="2291.9" stroke="#3a3a3a" stroke-width="1.1"/>
<line x1="1230.1" y1="2320.1" x2="1597.8" y2="2320.1" stroke="#1a1a1a" stroke-width="2.6"/>
<line x1="1230.1" y1="2348.5" x2="1597.8" y2="2348.5" stroke="#3a3a3a" stroke-width="1.1"/>
<line x1="1230.1" y1="2376.2" x2="1597.8" y2="2376.2" stroke="#3a3a3a" stroke-width="1.1"/>
<line x1="1230.1" y1="2403.3" x2="1597.8" y2="2403.3" stroke="#3a3a3a" stroke-width="1.1"/>
<line x1="1230.1" y1="2431" x2="1597.8" y2="2431" stroke="#3a3a3a" stroke-width="1.1"/>
<line x1="1230.1" y1="2458.7" x2="1597.8" y2="2458.7" stroke="#1a1a1a" stroke-width="2.6"/>
<line x1="1230.1" y1="2487.7" x2="1597.8" y2="2487.7" stroke="#3a3a3a" stroke-width="2"/>
<line x1="1377.4" y1="2084.5" x2="1377.4" y2="2518" stroke="#2a2a2a" stroke-width="1.2"/>
<line x1="1467.8" y1="2084.5" x2="1467.8" y2="2518" stroke="#2a2a2a" stroke-width="1.2"/>
<rect x="1230.1" y="2084.5" width="367.7" height="433.5" fill="none" stroke="#000" stroke-width="2.6"/>
<text transform="translate(1297.3 2107.96) scale(1.12 1)" font-size="17.1" text-anchor="middle" font-weight="bold">Lines</text>
<text transform="translate(1416.4 2107.96) scale(1.12 1)" font-size="17.1" text-anchor="middle" font-weight="bold">SNP</text>
<text transform="translate(1529.2 2107.96) scale(1.12 1)" font-size="17.1" text-anchor="middle" font-weight="bold">Expression</text>
<text transform="translate(1304.6 2141.16) scale(1.12 1)" font-size="17.1" text-anchor="middle">Female MEFs</text>
<text transform="translate(1421.1 2141.56) scale(1.12 1)" font-size="17.1" text-anchor="middle">T</text>
<text transform="translate(1533.1 2138.96) scale(1.12 1)" font-size="17.1" text-anchor="middle">Monoallelic</text>
<text transform="translate(1304.6 2172.78) scale(1.12 1)" font-size="17.1" text-anchor="middle">Male MEFs</text>
<text transform="translate(1421.1 2173.18) scale(1.12 1)" font-size="17.1" text-anchor="middle">T</text>
<text transform="translate(1533.1 2170.58) scale(1.12 1)" font-size="17.1" text-anchor="middle">Monoallelic</text>
<text transform="translate(1304.6 2202.29) scale(1.12 1)" font-size="17.1" text-anchor="middle">F FBS1 iPSCs</text>
<text transform="translate(1421.1 2202.69) scale(1.12 1)" font-size="17.1" text-anchor="middle">T</text>
<text transform="translate(1533.1 2200.09) scale(1.12 1)" font-size="17.1" text-anchor="middle">Monoallelic</text>
<text transform="translate(1304.6 2229.96) scale(1.12 1)" font-size="17.1" text-anchor="middle">F FBS2 iPSCs</text>
<text transform="translate(1421.1 2230.36) scale(1.12 1)" font-size="17.1" text-anchor="middle">T/C</text>
<text transform="translate(1533.1 2227.76) scale(1.12 1)" font-size="17.1" text-anchor="middle">Biallelic</text>
<text transform="translate(1304.6 2257.1) scale(1.12 1)" font-size="17.1" text-anchor="middle">F FBS3 iPSCs</text>
<text transform="translate(1421.1 2257.5) scale(1.12 1)" font-size="17.1" text-anchor="middle">T/C</text>
<text transform="translate(1533.1 2254.9) scale(1.12 1)" font-size="17.1" text-anchor="middle">Biallelic</text>
<text transform="translate(1304.6 2284.51) scale(1.12 1)" font-size="17.1" text-anchor="middle">F FBS4 iPSCs</text>
<text transform="translate(1421.1 2284.91) scale(1.12 1)" font-size="17.1" text-anchor="middle">T/C</text>
<text transform="translate(1533.1 2282.31) scale(1.12 1)" font-size="17.1" text-anchor="middle">Biallelic</text>
<text transform="translate(1304.6 2311.65) scale(1.12 1)" font-size="17.1" text-anchor="middle">F FBS5 iPSCs</text>
<text transform="translate(1421.1 2312.05) scale(1.12 1)" font-size="17.1" text-anchor="middle">T/C</text>
<text transform="translate(1533.1 2309.45) scale(1.12 1)" font-size="17.1" text-anchor="middle">Biallelic</text>
<text transform="translate(1304.6 2341.16) scale(1.12 1)" font-size="17.1" text-anchor="middle">M FBS1 iPSCs</text>
<text transform="translate(1421.1 2341.56) scale(1.12 1)" font-size="17.1" text-anchor="middle">T</text>
<text transform="translate(1533.1 2338.96) scale(1.12 1)" font-size="17.1" text-anchor="middle">Monoallelic</text>
<text transform="translate(1304.6 2368.3) scale(1.12 1)" font-size="17.1" text-anchor="middle">M FBS2 iPSCs</text>
<text transform="translate(1421.1 2368.7) scale(1.12 1)" font-size="17.1" text-anchor="middle">T</text>
<text transform="translate(1533.1 2366.1) scale(1.12 1)" font-size="17.1" text-anchor="middle">Monoallelic</text>
<text transform="translate(1304.6 2395.97) scale(1.12 1)" font-size="17.1" text-anchor="middle">M FBS3 iPSCs</text>
<text transform="translate(1421.1 2396.37) scale(1.12 1)" font-size="17.1" text-anchor="middle">T</text>
<text transform="translate(1533.1 2393.77) scale(1.12 1)" font-size="17.1" text-anchor="middle">Monoallelic</text>
<text transform="translate(1304.6 2423.11) scale(1.12 1)" font-size="17.1" text-anchor="middle">M FBS4 iPSCs</text>
<text transform="translate(1421.1 2423.51) scale(1.12 1)" font-size="17.1" text-anchor="middle">T</text>
<text transform="translate(1533.1 2420.91) scale(1.12 1)" font-size="17.1" text-anchor="middle">Monoallelic</text>
<text transform="translate(1304.6 2450.51) scale(1.12 1)" font-size="17.1" text-anchor="middle">M FBS5 iPSCs</text>
<text transform="translate(1421.1 2450.91) scale(1.12 1)" font-size="17.1" text-anchor="middle">T</text>
<text transform="translate(1533.1 2448.31) scale(1.12 1)" font-size="17.1" text-anchor="middle">Monoallelic</text>
<text transform="translate(1304.6 2479.76) scale(1.12 1)" font-size="17.1" text-anchor="middle">F KSR2 iPSCs</text>
<text transform="translate(1421.1 2480.16) scale(1.12 1)" font-size="17.1" text-anchor="middle">T/C</text>
<text transform="translate(1533.1 2477.56) scale(1.12 1)" font-size="17.1" text-anchor="middle">Biallelic</text>
<text transform="translate(1304.6 2508.75) scale(1.12 1)" font-size="17.1" text-anchor="middle">M KSR5 iPSCs</text>
<text transform="translate(1421.1 2509.15) scale(1.12 1)" font-size="17.1" text-anchor="middle">T</text>
<text transform="translate(1533.1 2506.55) scale(1.12 1)" font-size="17.1" text-anchor="middle">Monoallelic</text>
</svg></body></html>
